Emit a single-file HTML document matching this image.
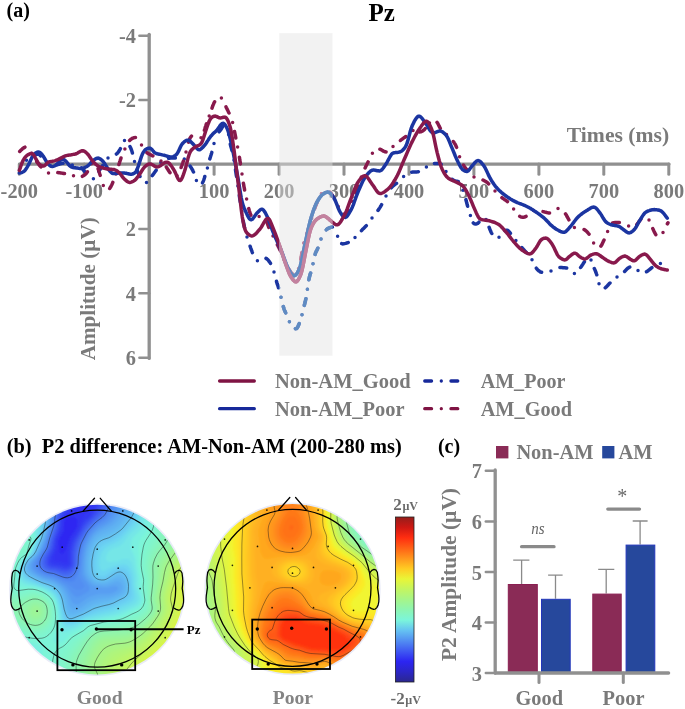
<!DOCTYPE html>
<html lang="en"><head><meta charset="utf-8"><title>Pz ERP figure</title>
<style>
html,body{margin:0;padding:0;background:#fff;}
body{width:685px;height:709px;overflow:hidden;font-family:"Liberation Serif",serif;}
svg{display:block;}
text{font-family:"Liberation Serif",serif;font-weight:bold;}
.g{fill:#7a7a7a;}
.k{fill:#000;}
.t20{font-size:20.4px;}
.ax{stroke:#909090;fill:none;stroke-linecap:round;}
</style></head><body>
<svg width="685" height="709" viewBox="0 0 685 709">
<rect width="685" height="709" fill="#fff"/>
<g id="panel-a">
<text x="6.5" y="16.7" class="k" font-size="20">(a)</text>
<text x="368.4" y="20.6" class="k" font-size="25">Pz</text>
<path class="ax" stroke-width="3.3" d="M149.2,34.3 V358.4"/>
<path class="ax" stroke-width="3.2" d="M19.6,164.1 H669"/>
<path class="ax" stroke-width="2.5" d="M139.4,35.7 H149.2"/>
<text x="136" y="42.9" class="g t20" text-anchor="end">-4</text>
<path class="ax" stroke-width="2.5" d="M139.4,100.1 H149.2"/>
<text x="136" y="107.3" class="g t20" text-anchor="end">-2</text>
<path class="ax" stroke-width="2.5" d="M139.4,228.9 H149.2"/>
<text x="136" y="236.1" class="g t20" text-anchor="end">2</text>
<path class="ax" stroke-width="2.5" d="M139.4,293.3 H149.2"/>
<text x="136" y="300.5" class="g t20" text-anchor="end">4</text>
<path class="ax" stroke-width="2.5" d="M139.4,357.7 H149.2"/>
<text x="136" y="364.9" class="g t20" text-anchor="end">6</text>
<path class="ax" stroke-width="3" d="M19.3,164.1 V174.2"/>
<text x="19.3" y="197.5" class="g t20" text-anchor="middle">-200</text>
<path class="ax" stroke-width="3" d="M84.2,164.1 V174.2"/>
<text x="84.2" y="197.5" class="g t20" text-anchor="middle">-100</text>
<path class="ax" stroke-width="3" d="M214.1,164.1 V174.2"/>
<text x="214.1" y="197.5" class="g t20" text-anchor="middle">100</text>
<path class="ax" stroke-width="3" d="M279.1,164.1 V174.2"/>
<text x="279.1" y="197.5" class="g t20" text-anchor="middle">200</text>
<path class="ax" stroke-width="3" d="M344.0,164.1 V174.2"/>
<text x="344.0" y="197.5" class="g t20" text-anchor="middle">300</text>
<path class="ax" stroke-width="3" d="M409.0,164.1 V174.2"/>
<text x="409.0" y="197.5" class="g t20" text-anchor="middle">400</text>
<path class="ax" stroke-width="3" d="M473.9,164.1 V174.2"/>
<text x="473.9" y="197.5" class="g t20" text-anchor="middle">500</text>
<path class="ax" stroke-width="3" d="M538.9,164.1 V174.2"/>
<text x="538.9" y="197.5" class="g t20" text-anchor="middle">600</text>
<path class="ax" stroke-width="3" d="M603.8,164.1 V174.2"/>
<text x="603.8" y="197.5" class="g t20" text-anchor="middle">700</text>
<path class="ax" stroke-width="3" d="M668.8,164.1 V174.2"/>
<text x="668.8" y="197.5" class="g t20" text-anchor="middle">800</text>
<text x="566.8" y="142" class="g" font-size="21" textLength="102.4" lengthAdjust="spacingAndGlyphs">Times (ms)</text>
<text transform="translate(95.4,360.3) rotate(-90)" class="g" font-size="21" textLength="143" lengthAdjust="spacingAndGlyphs">Amplitude (µV)</text>
<defs><clipPath id="win"><rect x="279.3" y="33.1" width="53.2" height="322.6"/></clipPath></defs>
<g fill="none" stroke-width="3.5" stroke-linecap="round" stroke-linejoin="round">
<path stroke="#1b35a1" d="M72.3,165.0h0.01M47.3,162.6h0.01M26.5,160.2h0.01M93.4,178.7h0.01M108.0,158.1h0.01M124.5,140.4h0.01M134.5,161.5h0.01M146.5,182.6h0.01M160.8,162.4h0.01M184.3,159.1h0.01M196.4,180.6h0.01M207.4,167.9h0.01M214.0,143.4h0.01M228.6,134.4h0.01M234.0,160.2h0.01M237.9,185.9h0.01M241.7,211.5h0.01M247.0,236.9h0.01M257.4,260.8h0.01M274.0,271.9h0.01M281.0,297.2h0.01M289.4,321.8h0.01M302.0,314.7h0.01M307.4,289.3h0.01M313.0,263.7h0.01M321.0,239.1h0.01M337.6,236.3h0.01M355.0,237.6h0.01M372.0,218.0h0.01M386.0,196.1h0.01M403.6,176.4h0.01M426.4,167.0h0.01M446.0,171.6h0.01M463.0,190.2h0.01M470.4,215.6h0.01M486.0,219.5h0.01M499.0,237.3h0.01M515.9,240.6h0.01M532.0,259.8h0.01M551.0,271.0h0.01M574.4,273.4h0.01M591.0,260.0h0.01M599.0,283.7h0.01M617.0,277.0h0.01M638.0,270.4h0.01M660.4,263.6h0.01M81.5,167.8L82.2,168.5L82.9,169.3L83.4,170.1L84.1,170.9L84.7,171.6L85.5,172.2L86.2,172.7M56.5,164.9L57.4,164.7L58.4,164.4L59.4,164.2L60.3,163.9L61.3,163.6L62.3,163.4L63.0,163.2M34.6,155.1L35.5,154.6L36.5,154.3L37.4,154.1L38.4,154.2L39.3,154.6L40.1,155.3L40.7,155.8M98.8,171.3L99.4,170.5L99.9,169.6L100.5,168.8L101.0,167.9L101.6,167.1L102.1,166.3L102.6,165.6M116.4,154.1L117.1,153.4L117.8,152.7L118.4,151.9L119.0,151.1L119.5,150.2L120.0,149.4L120.4,148.7M130.0,146.6L130.5,147.5L130.9,148.4L131.2,149.4L131.6,150.3L131.9,151.2L132.2,152.2L132.4,153.0M137.2,170.4L137.6,171.3L137.9,172.2L138.3,173.1L138.8,174.1L139.2,174.9L139.7,175.8L140.0,176.5M152.2,175.7L152.8,174.9L153.4,174.1L154.0,173.3L154.5,172.5L155.1,171.7L155.7,170.9L156.2,170.2M168.6,158.3L169.6,158.2L170.6,158.1L171.6,158.0L172.6,158.0L173.6,158.0L174.6,158.0L175.4,158.0M190.1,166.1L190.6,166.9L191.2,167.7L191.7,168.6L192.2,169.5L192.7,170.3L193.1,171.2L193.5,172.0M202.5,182.9L202.9,182.0L203.3,181.1L203.7,180.1L204.0,179.2L204.3,178.3L204.6,177.3L204.8,176.5M209.8,158.9L210.1,157.9L210.4,157.0L210.7,156.0L211.0,155.1L211.3,154.1L211.6,153.2L211.8,152.4M219.2,131.8L219.8,131.0L220.4,130.2L221.0,129.4L221.6,128.5L222.0,127.7L222.5,126.8L222.9,126.1M230.3,144.1L230.5,145.0L230.7,146.0L231.0,147.0L231.3,147.9L231.6,148.9L231.8,149.9L232.0,150.6M235.5,169.7L235.6,170.7L235.8,171.7L235.9,172.7L236.1,173.6L236.2,174.6L236.4,175.6L236.5,176.4M239.3,195.3L239.4,196.3L239.6,197.3L239.7,198.3L239.9,199.3L240.0,200.3L240.2,201.3L240.3,202.1M243.2,221.0L243.4,221.9L243.6,222.9L243.8,223.9L244.0,224.9L244.2,225.9L244.4,226.8L244.6,227.6M250.1,246.2L250.4,247.1L250.7,248.1L251.1,249.0L251.4,250.0L251.8,250.9L252.1,251.8L252.4,252.6M266.0,258.4L266.9,258.9L267.6,259.6L268.3,260.3L268.9,261.1L269.5,261.9L270.1,262.7L270.5,263.4M276.5,281.3L276.7,282.3L277.0,283.2L277.3,284.2L277.7,285.1L278.0,286.1L278.3,287.0L278.5,287.8M283.3,306.6L283.6,307.5L283.9,308.5L284.2,309.4L284.6,310.4L285.0,311.3L285.4,312.2L285.7,312.9M295.4,328.7L296.4,328.6L297.2,327.9L297.7,327.1L298.1,326.2L298.5,325.3L298.9,324.3L299.2,323.6M304.3,305.4L304.5,304.4L304.8,303.4L305.0,302.5L305.3,301.5L305.5,300.5L305.7,299.5L305.9,298.8M308.9,279.7L309.1,278.7L309.3,277.7L309.5,276.7L309.8,275.8L310.0,274.8L310.3,273.9L310.6,273.1M315.1,254.4L315.4,253.4L315.7,252.5L316.2,251.6L316.6,250.7L317.1,249.8L317.5,248.9L317.8,248.2M326.3,229.8L327.1,229.1L327.9,228.6L328.8,228.1L329.7,227.7L330.7,227.4L331.6,227.2L332.4,227.1M341.7,243.6L342.6,243.9L343.6,243.8L344.6,243.6L345.6,243.4L346.5,243.1L347.5,242.8L348.2,242.5M361.5,230.6L362.2,229.8L362.9,229.1L363.6,228.4L364.3,227.7L365.0,227.0L365.7,226.3L366.3,225.7M378.0,210.4L378.6,209.6L379.1,208.8L379.7,207.9L380.2,207.1L380.7,206.2L381.2,205.4L381.6,204.7M391.4,187.8L392.0,187.0L392.7,186.3L393.5,185.6L394.2,185.0L395.0,184.4L395.8,183.8L396.5,183.3M411.7,172.2L412.7,172.1L413.7,172.0L414.7,172.0L415.7,171.9L416.7,171.9L417.7,171.8L418.4,171.7M434.4,163.6L435.4,163.6L436.4,163.6L437.4,163.6L438.4,163.6L439.4,163.6L440.4,163.9L441.1,164.3M452.1,179.3L452.9,179.8L453.8,180.3L454.7,180.6L455.7,180.9L456.7,181.1L457.6,181.4L458.3,181.7M465.9,199.6L466.1,200.6L466.4,201.5L466.6,202.5L466.9,203.5L467.1,204.5L467.4,205.4L467.6,206.2M473.3,222.9L474.0,223.6L474.9,224.0L475.9,224.0L476.9,223.8L477.7,223.4L478.5,222.7L479.0,222.1M489.1,227.3L489.5,228.2L489.8,229.2L490.2,230.1L490.6,231.0L491.0,232.0L491.4,232.8L491.8,233.5M505.0,230.7L505.9,230.3L506.9,230.2L507.9,230.5L508.6,231.1L509.3,231.9L509.9,232.6L510.4,233.3M521.8,247.5L522.5,248.3L523.1,249.0L523.8,249.8L524.5,250.5L525.1,251.3L525.8,252.0L526.4,252.6M536.3,268.2L536.9,269.0L537.6,269.7L538.3,270.4L539.1,271.1L539.9,271.6L540.8,272.1L541.6,272.3M559.9,267.6L560.9,267.6L561.9,267.6L562.9,267.7L563.9,267.7L564.9,267.8L565.9,267.9L566.7,268.0M580.6,267.5L581.2,266.7L581.8,265.9L582.3,265.0L582.9,264.2L583.4,263.3L584.0,262.5L584.4,261.8M594.3,268.5L594.7,269.4L595.1,270.3L595.5,271.2L595.8,272.2L596.2,273.1L596.5,274.0L596.8,274.8M605.2,287.8L606.0,287.2L606.7,286.5L607.4,285.8L608.1,285.1L608.7,284.3L609.4,283.6L610.0,283.0M624.6,271.4L625.3,270.7L626.0,270.0L626.7,269.3L627.4,268.6L628.2,267.9L629.0,267.4L629.8,267.1M646.5,271.7L647.3,271.2L648.1,270.7L648.9,270.0L649.7,269.4L650.4,268.8L651.2,268.1L651.9,267.7"/>
<path stroke="#88194c" d="M31.5,153.2h0.01M48.5,173.0h0.01M73.5,175.8h0.01M91.5,163.7h0.01M103.3,185.4h0.01M116.0,173.9h0.01M124.9,149.0h0.01M141.5,144.9h0.01M161.0,161.0h0.01M177.0,175.8h0.01M186.0,152.1h0.01M201.0,137.7h0.01M209.2,115.9h0.01M221.4,97.9h0.01M232.6,122.4h0.01M237.6,147.1h0.01M242.0,174.0h0.01M246.6,199.1h0.01M259.1,216.4h0.01M273.0,236.1h0.01M284.2,259.8h0.01M298.6,268.7h0.01M303.9,243.0h0.01M311.6,218.0h0.01M321.5,193.8h0.01M338.2,206.6h0.01M351.5,201.2h0.01M361.3,176.9h0.01M372.4,153.2h0.01M393.0,146.4h0.01M413.0,130.4h0.01M429.5,123.1h0.01M446.5,134.5h0.01M459.6,156.7h0.01M474.0,176.9h0.01M495.0,191.0h0.01M513.6,209.0h0.01M533.6,210.5h0.01M558.0,208.5h0.01M574.4,227.5h0.01M593.6,242.9h0.01M607.6,231.4h0.01M628.6,226.1h0.01M649.0,220.1h0.01M663.0,232.4h0.01M19.7,151.5L20.4,150.8L21.1,150.1L21.8,149.4L22.5,148.7L23.3,148.1L24.2,147.6L24.9,147.2M36.7,161.6L37.3,162.4L37.9,163.2L38.5,164.0L39.1,164.8L39.7,165.5L40.4,166.3L40.9,166.9M57.8,172.6L58.8,172.7L59.8,172.8L60.7,172.9L61.7,173.1L62.7,173.3L63.7,173.5L64.5,173.6M82.4,176.3L83.3,175.8L84.1,175.3L84.9,174.7L85.7,174.0L86.4,173.3L87.0,172.5L87.4,171.8M98.1,168.9L98.5,169.9L98.8,170.8L99.1,171.8L99.4,172.7L99.7,173.7L100.0,174.6L100.2,175.4M109.7,188.5L110.2,187.6L110.8,186.8L111.2,185.9L111.7,185.0L112.1,184.1L112.5,183.2L112.8,182.4M118.9,164.5L119.2,163.5L119.5,162.6L119.8,161.6L120.1,160.7L120.4,159.7L120.8,158.8L121.0,158.0M129.6,140.5L130.3,139.8L131.0,139.2L131.9,138.6L132.8,138.1L133.7,137.8L134.7,137.6L135.5,137.6M146.9,152.7L147.8,153.3L148.6,153.8L149.5,154.2L150.4,154.7L151.3,155.1L152.2,155.6L152.9,155.9M166.3,167.0L166.8,167.9L167.4,168.7L167.9,169.5L168.4,170.4L169.0,171.2L169.5,172.1L170.0,172.7M181.1,167.5L181.4,166.6L181.8,165.6L182.1,164.7L182.4,163.8L182.8,162.8L183.1,161.9L183.4,161.1M188.5,142.1L188.8,141.2L189.2,140.2L189.5,139.3L189.9,138.4L190.4,137.5L191.0,136.7L191.5,136.1M204.4,130.2L204.7,129.3L205.0,128.3L205.3,127.4L205.6,126.4L205.9,125.5L206.2,124.5L206.5,123.8M212.0,108.1L212.3,107.2L212.7,106.2L213.0,105.3L213.4,104.4L213.8,103.4L214.2,102.5L214.6,101.8M226.0,106.9L226.4,107.8L226.9,108.7L227.3,109.6L227.8,110.5L228.2,111.4L228.6,112.3L229.0,113.0M234.5,131.4L234.7,132.4L234.9,133.4L235.1,134.4L235.3,135.4L235.5,136.3L235.7,137.3L235.8,138.1M239.4,157.2L239.5,158.2L239.7,159.2L239.8,160.2L240.0,161.2L240.2,162.2L240.3,163.1L240.4,163.9M243.4,183.3L243.6,184.3L243.8,185.3L243.9,186.3L244.1,187.2L244.3,188.2L244.5,189.2L244.6,190.0M248.7,208.6L249.0,209.6L249.2,210.5L249.5,211.5L249.8,212.5L250.2,213.4L250.5,214.3L250.9,215.1M266.5,221.0L266.8,221.9L267.2,222.9L267.5,223.8L267.8,224.8L268.2,225.7L268.5,226.6L268.8,227.4M277.4,244.8L277.9,245.7L278.3,246.6L278.8,247.5L279.2,248.4L279.7,249.3L280.1,250.2L280.5,250.9M288.4,268.6L288.9,269.4L289.5,270.3L290.0,271.1L290.6,272.0L291.2,272.8L291.8,273.5L292.4,274.1M300.9,259.3L301.1,258.3L301.2,257.3L301.4,256.3L301.6,255.3L301.7,254.4L301.9,253.4L302.0,252.6M306.9,233.8L307.3,232.9L307.6,232.0L307.9,231.0L308.2,230.1L308.5,229.1L308.8,228.1L309.1,227.4M314.5,208.7L314.9,207.8L315.2,206.9L315.6,205.9L315.9,205.0L316.3,204.1L316.7,203.1L317.0,202.4M330.0,192.3L330.7,193.1L331.3,193.9L331.9,194.7L332.4,195.5L333.0,196.4L333.5,197.2L333.9,197.9M343.8,214.4L344.8,214.7L345.7,214.4L346.4,213.7L346.9,212.9L347.4,212.0L347.8,211.1L348.1,210.3M355.2,192.2L355.5,191.3L355.9,190.4L356.3,189.4L356.6,188.5L357.0,187.6L357.3,186.7L357.6,185.9M365.1,168.0L365.5,167.1L365.9,166.2L366.4,165.3L366.8,164.4L367.3,163.5L367.7,162.6L368.1,161.9M379.9,149.2L380.9,149.6L381.7,150.0L382.6,150.6L383.5,151.1L384.4,151.5L385.3,151.8L386.1,151.9M400.4,140.5L401.1,139.9L402.0,139.3L402.8,138.7L403.6,138.1L404.4,137.6L405.2,137.0L405.9,136.5M419.6,131.9L420.6,131.8L421.5,131.5L422.4,131.1L423.2,130.5L424.0,129.9L424.7,129.2L425.2,128.5M437.0,122.3L437.6,123.1L438.1,124.0L438.5,124.9L439.0,125.8L439.4,126.7L439.9,127.6L440.3,128.3M453.3,141.5L453.9,142.3L454.4,143.1L455.0,144.0L455.5,144.9L455.9,145.8L456.3,146.7L456.6,147.4M463.4,165.0L464.0,165.9L464.5,166.7L465.1,167.5L465.7,168.3L466.4,169.1L467.0,169.8L467.6,170.4M483.0,180.0L483.9,180.5L484.8,181.0L485.7,181.5L486.5,182.1L487.3,182.6L488.1,183.3L488.7,183.8M501.9,197.7L502.7,198.3L503.6,198.8L504.4,199.4L505.2,199.9L506.1,200.5L506.9,201.1L507.5,201.6M519.7,216.3L520.6,216.8L521.5,217.1L522.5,217.3L523.5,217.3L524.5,217.1L525.4,216.7L526.1,216.4M543.0,211.6L544.0,211.8L544.9,212.1L545.9,212.3L546.9,212.6L547.9,212.8L548.8,212.9L549.6,212.9M565.5,213.9L566.1,214.7L566.6,215.6L567.0,216.5L567.5,217.3L568.0,218.2L568.5,219.1L568.9,219.8M584.1,229.5L584.9,230.0L585.7,230.6L586.5,231.3L587.2,232.0L587.9,232.7L588.5,233.5L589.0,234.1M600.9,246.1L601.5,245.3L602.0,244.4L602.4,243.5L602.8,242.6L603.2,241.7L603.6,240.8L604.0,240.1M612.6,223.0L613.6,222.8L614.6,222.6L615.6,222.5L616.6,222.5L617.6,222.4L618.6,222.4L619.4,222.4M636.8,224.5L637.4,223.7L638.1,222.9L638.7,222.1L639.3,221.3L639.9,220.5L640.5,219.7L640.9,219.1M652.8,228.6L653.2,229.5L653.6,230.4L654.0,231.3L654.5,232.2L654.9,233.1L655.4,234.0L655.8,234.7M667.4,223.8L667.9,223.0L668.0,222.8"/>
<path stroke="#1b35a1" d="M19.3,173.1 L20.3,172.9 L21.3,172.7 L22.3,172.3 L23.3,171.8 L24.3,171.1 L25.3,170.0 L26.3,168.6 L27.3,166.9 L28.3,165.1 L29.3,163.1 L30.3,161.0 L31.3,158.8 L32.3,156.8 L33.3,155.3 L34.3,154.2 L35.3,153.3 L36.3,152.6 L37.3,152.2 L38.3,151.9 L39.3,152.1 L40.3,152.8 L41.3,153.7 L42.3,154.9 L43.3,156.3 L44.3,157.9 L45.3,159.7 L46.3,161.5 L47.3,163.0 L48.3,164.1 L49.3,165.1 L50.3,165.9 L51.3,166.4 L52.3,166.6 L53.3,166.4 L54.3,166.0 L55.3,165.4 L56.3,164.7 L57.3,163.8 L58.3,162.5 L59.3,161.3 L60.3,160.4 L61.3,159.9 L62.3,159.5 L63.3,159.4 L64.3,159.8 L65.3,160.6 L66.3,161.7 L67.3,162.9 L68.3,164.1 L69.3,165.4 L70.3,166.3 L71.3,166.9 L72.3,167.2 L73.3,167.5 L74.3,167.7 L75.3,167.8 L76.3,168.0 L77.3,168.1 L78.3,168.2 L79.3,168.4 L80.3,168.4 L81.3,168.5 L82.3,168.4 L83.3,168.2 L84.3,167.8 L85.3,167.3 L86.3,166.8 L87.3,166.2 L88.3,165.4 L89.3,164.5 L90.3,163.4 L91.3,162.3 L92.3,161.3 L93.3,160.4 L94.3,159.7 L95.3,159.1 L96.3,158.5 L97.3,158.2 L98.3,158.1 L99.3,158.4 L100.3,159.0 L101.3,159.7 L102.3,160.6 L103.3,161.7 L104.3,163.0 L105.3,164.6 L106.3,166.3 L107.3,167.7 L108.3,169.1 L109.3,170.4 L110.3,171.6 L111.3,172.6 L112.3,173.3 L113.3,173.6 L114.3,173.6 L115.3,173.5 L116.3,173.4 L117.3,173.2 L118.3,173.1 L119.3,173.1 L120.3,173.1 L121.3,173.1 L122.3,173.1 L123.3,173.1 L124.3,173.1 L125.3,173.2 L126.3,173.3 L127.3,173.6 L128.3,173.8 L129.3,174.1 L130.3,174.2 L131.3,174.2 L132.3,174.0 L133.3,173.7 L134.3,173.2 L135.3,172.4 L136.3,171.0 L137.3,168.8 L138.3,166.1 L139.3,163.1 L140.3,160.0 L141.3,156.9 L142.3,154.3 L143.3,152.4 L144.3,150.9 L145.3,149.8 L146.3,149.1 L147.3,148.6 L148.3,148.3 L149.3,148.1 L150.3,148.3 L151.3,148.9 L152.3,150.0 L153.3,151.3 L154.3,152.4 L155.3,153.0 L156.3,153.5 L157.3,153.8 L158.3,154.0 L159.3,154.2 L160.3,154.4 L161.3,154.6 L162.3,154.9 L163.3,155.1 L164.3,155.3 L165.3,155.6 L166.3,155.9 L167.3,156.2 L168.3,156.5 L169.3,156.7 L170.3,156.9 L171.3,156.9 L172.3,156.9 L173.3,156.6 L174.3,156.1 L175.3,155.4 L176.3,154.6 L177.3,153.4 L178.3,151.7 L179.3,149.5 L180.3,147.2 L181.3,145.2 L182.3,143.8 L183.3,142.7 L184.3,141.8 L185.3,141.1 L186.3,140.5 L187.3,140.2 L188.3,140.2 L189.3,140.5 L190.3,141.2 L191.3,142.2 L192.3,143.2 L193.3,144.3 L194.3,145.4 L195.3,146.5 L196.3,147.8 L197.3,148.9 L198.3,149.6 L199.3,149.8 L200.3,149.5 L201.3,148.7 L202.3,147.8 L203.3,146.7 L204.3,145.6 L205.3,144.4 L206.3,143.0 L207.3,141.4 L208.3,139.9 L209.3,138.3 L210.3,136.9 L211.3,135.7 L212.3,134.6 L213.3,133.6 L214.3,132.6 L215.3,131.7 L216.3,130.7 L217.3,129.6 L218.3,128.2 L219.3,126.8 L220.3,125.3 L221.3,124.1 L222.3,123.4 L223.3,123.3 L224.3,123.9 L225.3,125.1 L226.3,126.8 L227.3,128.9 L228.3,131.7 L229.3,135.2 L230.3,139.1 L231.3,143.4 L232.3,148.0 L233.3,153.1 L234.3,158.3 L235.3,163.6 L236.3,169.0 L237.3,174.4 L238.3,180.1 L239.3,186.0 L240.3,192.3 L241.3,198.1 L242.3,202.6 L243.3,205.9 L244.3,208.4 L245.3,210.7 L246.3,212.9 L247.3,215.1 L248.3,217.0 L249.3,218.6 L250.3,219.5 L251.3,219.7 L252.3,219.2 L253.3,218.1 L254.3,216.7 L255.3,215.2 L256.3,213.9 L257.3,212.7 L258.3,211.7 L259.3,210.7 L260.3,209.8 L261.3,209.3 L262.3,209.3 L263.3,209.9 L264.3,211.2 L265.3,212.8 L266.3,214.7 L267.3,216.7 L268.3,219.0 L269.3,221.6 L270.3,224.4 L271.3,227.3 L272.3,230.1 L273.3,232.7 L274.3,235.1 L275.3,237.3 L276.3,239.5 L277.3,241.7 L278.3,243.9 L279.3,246.1 L280.3,248.4 L281.3,250.8 L282.3,253.3 L283.3,256.1 L284.3,258.8 L285.3,261.6 L286.3,264.2 L287.3,266.6 L288.3,268.7 L289.3,270.5 L290.3,272.1 L291.3,273.6 L292.3,274.8 L293.3,275.6 L294.3,275.8 L295.3,275.3 L296.3,274.3 L297.3,272.9 L298.3,271.2 L299.3,269.0 L300.3,266.0 L301.3,262.0 L302.3,257.3 L303.3,252.3 L304.3,247.3 L305.3,242.7 L306.3,238.1 L307.3,233.5 L308.3,228.9 L309.3,224.6 L310.3,220.6 L311.3,217.1 L312.3,213.9 L313.3,210.9 L314.3,208.1 L315.3,205.6 L316.3,203.4 L317.3,201.5 L318.3,199.8 L319.3,198.2 L320.3,196.8 L321.3,195.6 L322.3,194.6 L323.3,193.9 L324.3,193.3 L325.3,192.7 L326.3,192.4 L327.3,192.1 L328.3,192.2 L329.3,192.5 L330.3,193.3 L331.3,194.4 L332.3,195.6 L333.3,197.0 L334.3,198.6 L335.3,200.6 L336.3,203.1 L337.3,205.7 L338.3,208.3 L339.3,210.6 L340.3,212.4 L341.3,214.0 L342.3,215.4 L343.3,216.5 L344.3,217.2 L345.3,217.4 L346.3,216.9 L347.3,215.9 L348.3,214.5 L349.3,212.9 L350.3,211.2 L351.3,209.4 L352.3,207.2 L353.3,204.8 L354.3,202.0 L355.3,199.2 L356.3,196.4 L357.3,193.8 L358.3,191.3 L359.3,189.0 L360.3,186.7 L361.3,184.5 L362.3,182.3 L363.3,180.3 L364.3,178.6 L365.3,177.0 L366.3,175.7 L367.3,174.4 L368.3,173.3 L369.3,172.2 L370.3,171.3 L371.3,170.6 L372.3,170.2 L373.3,170.1 L374.3,170.1 L375.3,170.3 L376.3,170.5 L377.3,170.7 L378.3,170.8 L379.3,170.9 L380.3,170.8 L381.3,170.3 L382.3,169.3 L383.3,168.0 L384.3,166.5 L385.3,165.0 L386.3,163.5 L387.3,161.8 L388.3,159.9 L389.3,158.0 L390.3,156.2 L391.3,154.6 L392.3,153.6 L393.3,153.0 L394.3,152.8 L395.3,152.6 L396.3,152.5 L397.3,152.4 L398.3,152.3 L399.3,152.1 L400.3,151.8 L401.3,151.3 L402.3,150.6 L403.3,149.6 L404.3,148.4 L405.3,147.0 L406.3,145.1 L407.3,142.5 L408.3,139.0 L409.3,135.2 L410.3,131.3 L411.3,128.1 L412.3,125.5 L413.3,123.4 L414.3,121.4 L415.3,119.7 L416.3,118.1 L417.3,117.0 L418.3,116.3 L419.3,116.2 L420.3,116.6 L421.3,117.5 L422.3,118.7 L423.3,120.1 L424.3,121.6 L425.3,123.0 L426.3,124.4 L427.3,125.9 L428.3,127.5 L429.3,129.2 L430.3,130.7 L431.3,131.9 L432.3,132.6 L433.3,132.9 L434.3,132.8 L435.3,132.5 L436.3,132.1 L437.3,131.7 L438.3,131.3 L439.3,131.1 L440.3,131.1 L441.3,131.3 L442.3,131.8 L443.3,132.5 L444.3,133.4 L445.3,134.3 L446.3,135.5 L447.3,137.0 L448.3,139.0 L449.3,141.4 L450.3,143.8 L451.3,146.3 L452.3,148.7 L453.3,151.1 L454.3,153.5 L455.3,156.0 L456.3,158.3 L457.3,160.5 L458.3,162.6 L459.3,164.5 L460.3,166.4 L461.3,168.0 L462.3,169.3 L463.3,170.1 L464.3,170.7 L465.3,171.2 L466.3,171.4 L467.3,171.4 L468.3,170.7 L469.3,169.6 L470.3,168.3 L471.3,166.9 L472.3,165.7 L473.3,164.5 L474.3,163.3 L475.3,162.2 L476.3,161.3 L477.3,160.7 L478.3,160.6 L479.3,160.9 L480.3,161.6 L481.3,162.6 L482.3,163.8 L483.3,165.1 L484.3,166.5 L485.3,168.2 L486.3,170.2 L487.3,172.4 L488.3,174.6 L489.3,176.6 L490.3,178.5 L491.3,180.2 L492.3,181.8 L493.3,183.3 L494.3,184.8 L495.3,186.1 L496.3,187.3 L497.3,188.4 L498.3,189.5 L499.3,190.5 L500.3,191.4 L501.3,192.3 L502.3,193.1 L503.3,194.0 L504.3,194.7 L505.3,195.5 L506.3,196.2 L507.3,196.9 L508.3,197.6 L509.3,198.2 L510.3,198.9 L511.3,199.5 L512.3,200.1 L513.3,200.6 L514.3,201.1 L515.3,201.6 L516.3,202.1 L517.3,202.6 L518.3,203.0 L519.3,203.4 L520.3,203.7 L521.3,204.1 L522.3,204.5 L523.3,204.9 L524.3,205.3 L525.3,205.7 L526.3,206.2 L527.3,206.7 L528.3,207.2 L529.3,207.8 L530.3,208.3 L531.3,209.0 L532.3,209.6 L533.3,210.2 L534.3,210.9 L535.3,211.5 L536.3,212.2 L537.3,212.9 L538.3,213.6 L539.3,214.3 L540.3,215.0 L541.3,215.8 L542.3,216.6 L543.3,217.4 L544.3,218.3 L545.3,219.2 L546.3,220.2 L547.3,221.3 L548.3,222.3 L549.3,223.4 L550.3,224.4 L551.3,225.4 L552.3,226.2 L553.3,227.1 L554.3,227.8 L555.3,228.5 L556.3,229.2 L557.3,229.8 L558.3,230.3 L559.3,230.9 L560.3,231.4 L561.3,231.8 L562.3,232.1 L563.3,232.3 L564.3,232.2 L565.3,231.9 L566.3,231.1 L567.3,230.1 L568.3,229.0 L569.3,227.8 L570.3,226.7 L571.3,225.5 L572.3,224.2 L573.3,222.9 L574.3,221.5 L575.3,220.2 L576.3,218.9 L577.3,217.8 L578.3,216.8 L579.3,215.8 L580.3,215.0 L581.3,214.2 L582.3,213.5 L583.3,212.7 L584.3,212.1 L585.3,211.4 L586.3,210.8 L587.3,210.2 L588.3,209.5 L589.3,208.9 L590.3,208.3 L591.3,207.7 L592.3,207.3 L593.3,207.1 L594.3,207.2 L595.3,207.6 L596.3,208.4 L597.3,209.5 L598.3,210.8 L599.3,212.1 L600.3,213.4 L601.3,214.9 L602.3,216.6 L603.3,218.3 L604.3,219.9 L605.3,221.2 L606.3,222.2 L607.3,222.9 L608.3,223.5 L609.3,224.0 L610.3,224.4 L611.3,224.8 L612.3,225.0 L613.3,225.2 L614.3,225.4 L615.3,225.5 L616.3,225.7 L617.3,225.9 L618.3,226.2 L619.3,226.6 L620.3,227.2 L621.3,228.0 L622.3,228.7 L623.3,229.5 L624.3,230.2 L625.3,231.0 L626.3,231.7 L627.3,232.4 L628.3,232.8 L629.3,232.9 L630.3,232.6 L631.3,232.1 L632.3,231.4 L633.3,230.6 L634.3,229.6 L635.3,228.3 L636.3,226.7 L637.3,224.9 L638.3,223.0 L639.3,221.2 L640.3,219.6 L641.3,218.0 L642.3,216.4 L643.3,214.9 L644.3,213.6 L645.3,212.6 L646.3,211.9 L647.3,211.4 L648.3,210.9 L649.3,210.6 L650.3,210.2 L651.3,210.0 L652.3,209.8 L653.3,209.7 L654.3,209.6 L655.3,209.7 L656.3,209.7 L657.3,209.9 L658.3,210.0 L659.3,210.3 L660.3,210.6 L661.3,211.1 L662.3,212.0 L663.3,213.0 L664.3,214.2 L665.3,215.5 L666.3,216.9 L667.3,218.2"/>
<path stroke="#88194c" d="M19.3,170.4 L20.3,167.8 L21.3,164.7 L22.3,162.1 L23.3,160.1 L24.3,158.5 L25.3,157.1 L26.3,156.0 L27.3,155.2 L28.3,154.6 L29.3,154.1 L30.3,153.7 L31.3,153.5 L32.3,153.6 L33.3,154.4 L34.3,155.9 L35.3,157.8 L36.3,159.6 L37.3,161.5 L38.3,163.2 L39.3,164.3 L40.3,165.0 L41.3,165.5 L42.3,165.8 L43.3,166.0 L44.3,165.8 L45.3,165.1 L46.3,164.1 L47.3,163.0 L48.3,162.2 L49.3,161.8 L50.3,161.6 L51.3,161.4 L52.3,161.3 L53.3,161.1 L54.3,160.9 L55.3,160.6 L56.3,160.2 L57.3,159.8 L58.3,159.4 L59.3,158.9 L60.3,158.4 L61.3,157.9 L62.3,157.4 L63.3,156.8 L64.3,156.3 L65.3,155.9 L66.3,155.6 L67.3,155.4 L68.3,155.2 L69.3,155.1 L70.3,154.9 L71.3,154.8 L72.3,154.6 L73.3,154.4 L74.3,154.2 L75.3,154.0 L76.3,153.7 L77.3,153.2 L78.3,152.6 L79.3,152.0 L80.3,151.4 L81.3,151.0 L82.3,150.7 L83.3,150.8 L84.3,151.2 L85.3,151.9 L86.3,152.8 L87.3,153.7 L88.3,154.8 L89.3,156.2 L90.3,157.7 L91.3,159.2 L92.3,160.6 L93.3,161.8 L94.3,162.9 L95.3,163.9 L96.3,164.7 L97.3,165.5 L98.3,166.2 L99.3,166.7 L100.3,167.1 L101.3,167.5 L102.3,167.8 L103.3,168.1 L104.3,168.4 L105.3,168.6 L106.3,168.8 L107.3,169.0 L108.3,169.1 L109.3,169.2 L110.3,169.2 L111.3,169.3 L112.3,169.4 L113.3,169.5 L114.3,169.6 L115.3,170.0 L116.3,170.5 L117.3,171.2 L118.3,172.0 L119.3,172.9 L120.3,174.0 L121.3,175.3 L122.3,176.6 L123.3,177.9 L124.3,179.0 L125.3,179.9 L126.3,180.8 L127.3,181.5 L128.3,182.1 L129.3,182.4 L130.3,182.4 L131.3,182.1 L132.3,181.7 L133.3,181.2 L134.3,180.6 L135.3,179.8 L136.3,178.7 L137.3,177.4 L138.3,176.1 L139.3,174.7 L140.3,173.2 L141.3,171.7 L142.3,170.0 L143.3,168.5 L144.3,167.2 L145.3,166.2 L146.3,165.5 L147.3,164.8 L148.3,164.3 L149.3,164.0 L150.3,163.9 L151.3,164.2 L152.3,164.7 L153.3,165.3 L154.3,165.9 L155.3,166.5 L156.3,166.8 L157.3,166.9 L158.3,166.7 L159.3,166.3 L160.3,165.7 L161.3,165.0 L162.3,164.3 L163.3,163.6 L164.3,162.9 L165.3,162.4 L166.3,162.2 L167.3,162.2 L168.3,162.6 L169.3,163.4 L170.3,164.6 L171.3,165.9 L172.3,167.4 L173.3,169.0 L174.3,170.6 L175.3,172.6 L176.3,174.9 L177.3,177.2 L178.3,179.1 L179.3,180.3 L180.3,180.5 L181.3,179.5 L182.3,177.5 L183.3,174.9 L184.3,172.0 L185.3,168.9 L186.3,165.2 L187.3,161.2 L188.3,157.2 L189.3,154.0 L190.3,151.8 L191.3,150.3 L192.3,149.2 L193.3,148.3 L194.3,147.5 L195.3,146.9 L196.3,146.3 L197.3,145.9 L198.3,145.5 L199.3,145.1 L200.3,144.4 L201.3,143.3 L202.3,141.4 L203.3,138.6 L204.3,135.4 L205.3,132.2 L206.3,129.2 L207.3,126.3 L208.3,123.5 L209.3,121.0 L210.3,119.1 L211.3,117.9 L212.3,117.1 L213.3,116.5 L214.3,116.2 L215.3,116.1 L216.3,116.4 L217.3,116.9 L218.3,117.4 L219.3,117.8 L220.3,117.9 L221.3,117.8 L222.3,117.6 L223.3,117.3 L224.3,117.1 L225.3,117.3 L226.3,118.0 L227.3,119.5 L228.3,121.6 L229.3,124.2 L230.3,127.5 L231.3,132.2 L232.3,138.2 L233.3,145.1 L234.3,152.3 L235.3,160.1 L236.3,168.2 L237.3,176.3 L238.3,184.3 L239.3,192.4 L240.3,201.0 L241.3,209.8 L242.3,217.1 L243.3,222.7 L244.3,227.1 L245.3,230.2 L246.3,232.2 L247.3,233.4 L248.3,234.3 L249.3,235.0 L250.3,235.6 L251.3,235.9 L252.3,235.9 L253.3,235.6 L254.3,235.0 L255.3,234.2 L256.3,233.2 L257.3,232.1 L258.3,230.9 L259.3,229.8 L260.3,228.6 L261.3,227.2 L262.3,225.5 L263.3,223.7 L264.3,222.0 L265.3,220.4 L266.3,219.1 L267.3,218.4 L268.3,218.4 L269.3,219.4 L270.3,221.3 L271.3,223.7 L272.3,226.2 L273.3,228.7 L274.3,231.2 L275.3,233.7 L276.3,236.4 L277.3,239.2 L278.3,242.0 L279.3,244.9 L280.3,247.9 L281.3,250.9 L282.3,254.0 L283.3,257.0 L284.3,260.0 L285.3,262.8 L286.3,265.7 L287.3,268.5 L288.3,271.2 L289.3,273.7 L290.3,275.7 L291.3,277.4 L292.3,278.8 L293.3,280.1 L294.3,281.1 L295.3,281.7 L296.3,281.7 L297.3,281.0 L298.3,279.7 L299.3,277.8 L300.3,275.6 L301.3,272.8 L302.3,269.0 L303.3,264.3 L304.3,258.9 L305.3,253.6 L306.3,248.6 L307.3,243.6 L308.3,238.7 L309.3,234.1 L310.3,230.3 L311.3,227.5 L312.3,225.3 L313.3,223.5 L314.3,221.9 L315.3,220.7 L316.3,219.6 L317.3,218.8 L318.3,218.2 L319.3,217.6 L320.3,217.0 L321.3,216.6 L322.3,216.3 L323.3,216.1 L324.3,216.1 L325.3,216.4 L326.3,217.0 L327.3,217.8 L328.3,218.6 L329.3,219.6 L330.3,220.4 L331.3,221.2 L332.3,222.1 L333.3,222.9 L334.3,223.7 L335.3,224.4 L336.3,224.8 L337.3,224.8 L338.3,224.4 L339.3,223.5 L340.3,222.2 L341.3,220.7 L342.3,219.0 L343.3,217.2 L344.3,215.4 L345.3,213.4 L346.3,211.1 L347.3,208.6 L348.3,205.9 L349.3,203.1 L350.3,200.4 L351.3,197.8 L352.3,195.2 L353.3,192.7 L354.3,190.0 L355.3,187.5 L356.3,185.2 L357.3,183.2 L358.3,181.7 L359.3,180.3 L360.3,179.0 L361.3,177.9 L362.3,176.9 L363.3,176.2 L364.3,175.8 L365.3,175.8 L366.3,176.3 L367.3,177.2 L368.3,178.5 L369.3,180.0 L370.3,181.6 L371.3,183.0 L372.3,184.4 L373.3,185.8 L374.3,187.3 L375.3,188.9 L376.3,190.4 L377.3,191.7 L378.3,192.7 L379.3,193.3 L380.3,193.5 L381.3,193.4 L382.3,193.0 L383.3,192.5 L384.3,191.9 L385.3,191.2 L386.3,190.4 L387.3,189.6 L388.3,188.7 L389.3,187.7 L390.3,186.6 L391.3,185.3 L392.3,183.9 L393.3,182.4 L394.3,180.8 L395.3,179.2 L396.3,177.4 L397.3,175.5 L398.3,173.4 L399.3,171.2 L400.3,168.8 L401.3,166.4 L402.3,164.0 L403.3,161.6 L404.3,159.3 L405.3,157.0 L406.3,154.7 L407.3,152.4 L408.3,150.0 L409.3,147.8 L410.3,145.6 L411.3,143.4 L412.3,141.4 L413.3,139.5 L414.3,137.5 L415.3,135.7 L416.3,133.9 L417.3,132.1 L418.3,130.5 L419.3,129.0 L420.3,127.6 L421.3,126.1 L422.3,124.7 L423.3,123.4 L424.3,122.3 L425.3,121.5 L426.3,121.2 L427.3,121.6 L428.3,122.6 L429.3,124.2 L430.3,126.1 L431.3,128.4 L432.3,131.1 L433.3,134.7 L434.3,139.2 L435.3,144.1 L436.3,148.8 L437.3,153.1 L438.3,157.0 L439.3,160.8 L440.3,164.2 L441.3,167.1 L442.3,169.5 L443.3,171.5 L444.3,173.3 L445.3,174.9 L446.3,176.2 L447.3,177.3 L448.3,178.2 L449.3,178.9 L450.3,179.4 L451.3,179.9 L452.3,180.4 L453.3,180.8 L454.3,181.2 L455.3,181.7 L456.3,182.2 L457.3,182.6 L458.3,183.1 L459.3,183.6 L460.3,184.2 L461.3,184.8 L462.3,185.5 L463.3,186.4 L464.3,187.6 L465.3,189.1 L466.3,190.8 L467.3,192.7 L468.3,194.6 L469.3,196.7 L470.3,198.9 L471.3,201.2 L472.3,203.7 L473.3,206.1 L474.3,208.4 L475.3,210.6 L476.3,212.9 L477.3,215.0 L478.3,216.9 L479.3,218.3 L480.3,219.0 L481.3,219.4 L482.3,219.7 L483.3,219.9 L484.3,220.1 L485.3,220.2 L486.3,220.3 L487.3,220.5 L488.3,220.6 L489.3,220.8 L490.3,221.1 L491.3,221.4 L492.3,221.7 L493.3,222.0 L494.3,222.3 L495.3,222.7 L496.3,223.2 L497.3,223.7 L498.3,224.2 L499.3,224.9 L500.3,225.8 L501.3,226.7 L502.3,227.8 L503.3,228.9 L504.3,230.1 L505.3,231.2 L506.3,232.4 L507.3,233.5 L508.3,234.8 L509.3,236.1 L510.3,237.4 L511.3,238.7 L512.3,240.0 L513.3,241.2 L514.3,242.3 L515.3,243.5 L516.3,244.6 L517.3,245.7 L518.3,246.7 L519.3,247.7 L520.3,248.7 L521.3,249.5 L522.3,250.2 L523.3,250.9 L524.3,251.6 L525.3,252.2 L526.3,252.8 L527.3,253.3 L528.3,253.7 L529.3,253.9 L530.3,253.8 L531.3,253.4 L532.3,252.6 L533.3,251.5 L534.3,250.2 L535.3,248.9 L536.3,247.5 L537.3,246.0 L538.3,244.2 L539.3,242.4 L540.3,240.8 L541.3,239.7 L542.3,239.0 L543.3,238.5 L544.3,238.3 L545.3,238.1 L546.3,238.2 L547.3,238.6 L548.3,239.4 L549.3,240.5 L550.3,241.7 L551.3,243.1 L552.3,244.5 L553.3,246.3 L554.3,248.3 L555.3,250.5 L556.3,252.6 L557.3,254.6 L558.3,256.1 L559.3,257.2 L560.3,258.0 L561.3,258.6 L562.3,259.2 L563.3,259.6 L564.3,259.9 L565.3,259.8 L566.3,259.4 L567.3,258.6 L568.3,257.6 L569.3,256.6 L570.3,255.8 L571.3,255.0 L572.3,254.3 L573.3,253.6 L574.3,253.2 L575.3,253.2 L576.3,253.7 L577.3,254.5 L578.3,255.5 L579.3,256.4 L580.3,257.1 L581.3,257.7 L582.3,258.2 L583.3,258.6 L584.3,258.9 L585.3,258.9 L586.3,258.5 L587.3,257.8 L588.3,257.0 L589.3,256.2 L590.3,255.4 L591.3,254.9 L592.3,254.5 L593.3,254.1 L594.3,253.9 L595.3,253.7 L596.3,253.7 L597.3,254.0 L598.3,254.4 L599.3,255.1 L600.3,255.8 L601.3,256.5 L602.3,257.2 L603.3,257.9 L604.3,258.6 L605.3,259.3 L606.3,260.0 L607.3,260.6 L608.3,261.1 L609.3,261.6 L610.3,262.0 L611.3,262.4 L612.3,262.7 L613.3,262.9 L614.3,262.8 L615.3,262.4 L616.3,261.6 L617.3,260.6 L618.3,259.5 L619.3,258.6 L620.3,257.9 L621.3,257.3 L622.3,256.8 L623.3,256.4 L624.3,256.1 L625.3,256.1 L626.3,256.5 L627.3,257.1 L628.3,257.8 L629.3,258.5 L630.3,259.2 L631.3,259.8 L632.3,260.4 L633.3,260.8 L634.3,260.8 L635.3,260.4 L636.3,259.6 L637.3,258.6 L638.3,257.5 L639.3,256.6 L640.3,255.9 L641.3,255.3 L642.3,254.8 L643.3,254.4 L644.3,254.1 L645.3,254.2 L646.3,254.7 L647.3,255.7 L648.3,256.9 L649.3,258.1 L650.3,259.3 L651.3,260.6 L652.3,261.9 L653.3,263.1 L654.3,264.3 L655.3,265.4 L656.3,266.2 L657.3,266.8 L658.3,267.4 L659.3,268.0 L660.3,268.4 L661.3,268.8 L662.3,269.1 L663.3,269.3 L664.3,269.5 L665.3,269.7 L666.3,269.9 L667.3,270.0"/>
</g>
<rect x="279.3" y="33.1" width="53.2" height="322.6" fill="#e2e2e2" fill-opacity="0.45"/>
<g fill="none" stroke-width="3.5" stroke-linecap="round" stroke-linejoin="round" clip-path="url(#win)">
<path stroke="#5f8bc2" d="M72.3,165.0h0.01M47.3,162.6h0.01M26.5,160.2h0.01M93.4,178.7h0.01M108.0,158.1h0.01M124.5,140.4h0.01M134.5,161.5h0.01M146.5,182.6h0.01M160.8,162.4h0.01M184.3,159.1h0.01M196.4,180.6h0.01M207.4,167.9h0.01M214.0,143.4h0.01M228.6,134.4h0.01M234.0,160.2h0.01M237.9,185.9h0.01M241.7,211.5h0.01M247.0,236.9h0.01M257.4,260.8h0.01M274.0,271.9h0.01M281.0,297.2h0.01M289.4,321.8h0.01M302.0,314.7h0.01M307.4,289.3h0.01M313.0,263.7h0.01M321.0,239.1h0.01M337.6,236.3h0.01M355.0,237.6h0.01M372.0,218.0h0.01M386.0,196.1h0.01M403.6,176.4h0.01M426.4,167.0h0.01M446.0,171.6h0.01M463.0,190.2h0.01M470.4,215.6h0.01M486.0,219.5h0.01M499.0,237.3h0.01M515.9,240.6h0.01M532.0,259.8h0.01M551.0,271.0h0.01M574.4,273.4h0.01M591.0,260.0h0.01M599.0,283.7h0.01M617.0,277.0h0.01M638.0,270.4h0.01M660.4,263.6h0.01M81.5,167.8L82.2,168.5L82.9,169.3L83.4,170.1L84.1,170.9L84.7,171.6L85.5,172.2L86.2,172.7M56.5,164.9L57.4,164.7L58.4,164.4L59.4,164.2L60.3,163.9L61.3,163.6L62.3,163.4L63.0,163.2M34.6,155.1L35.5,154.6L36.5,154.3L37.4,154.1L38.4,154.2L39.3,154.6L40.1,155.3L40.7,155.8M98.8,171.3L99.4,170.5L99.9,169.6L100.5,168.8L101.0,167.9L101.6,167.1L102.1,166.3L102.6,165.6M116.4,154.1L117.1,153.4L117.8,152.7L118.4,151.9L119.0,151.1L119.5,150.2L120.0,149.4L120.4,148.7M130.0,146.6L130.5,147.5L130.9,148.4L131.2,149.4L131.6,150.3L131.9,151.2L132.2,152.2L132.4,153.0M137.2,170.4L137.6,171.3L137.9,172.2L138.3,173.1L138.8,174.1L139.2,174.9L139.7,175.8L140.0,176.5M152.2,175.7L152.8,174.9L153.4,174.1L154.0,173.3L154.5,172.5L155.1,171.7L155.7,170.9L156.2,170.2M168.6,158.3L169.6,158.2L170.6,158.1L171.6,158.0L172.6,158.0L173.6,158.0L174.6,158.0L175.4,158.0M190.1,166.1L190.6,166.9L191.2,167.7L191.7,168.6L192.2,169.5L192.7,170.3L193.1,171.2L193.5,172.0M202.5,182.9L202.9,182.0L203.3,181.1L203.7,180.1L204.0,179.2L204.3,178.3L204.6,177.3L204.8,176.5M209.8,158.9L210.1,157.9L210.4,157.0L210.7,156.0L211.0,155.1L211.3,154.1L211.6,153.2L211.8,152.4M219.2,131.8L219.8,131.0L220.4,130.2L221.0,129.4L221.6,128.5L222.0,127.7L222.5,126.8L222.9,126.1M230.3,144.1L230.5,145.0L230.7,146.0L231.0,147.0L231.3,147.9L231.6,148.9L231.8,149.9L232.0,150.6M235.5,169.7L235.6,170.7L235.8,171.7L235.9,172.7L236.1,173.6L236.2,174.6L236.4,175.6L236.5,176.4M239.3,195.3L239.4,196.3L239.6,197.3L239.7,198.3L239.9,199.3L240.0,200.3L240.2,201.3L240.3,202.1M243.2,221.0L243.4,221.9L243.6,222.9L243.8,223.9L244.0,224.9L244.2,225.9L244.4,226.8L244.6,227.6M250.1,246.2L250.4,247.1L250.7,248.1L251.1,249.0L251.4,250.0L251.8,250.9L252.1,251.8L252.4,252.6M266.0,258.4L266.9,258.9L267.6,259.6L268.3,260.3L268.9,261.1L269.5,261.9L270.1,262.7L270.5,263.4M276.5,281.3L276.7,282.3L277.0,283.2L277.3,284.2L277.7,285.1L278.0,286.1L278.3,287.0L278.5,287.8M283.3,306.6L283.6,307.5L283.9,308.5L284.2,309.4L284.6,310.4L285.0,311.3L285.4,312.2L285.7,312.9M295.4,328.7L296.4,328.6L297.2,327.9L297.7,327.1L298.1,326.2L298.5,325.3L298.9,324.3L299.2,323.6M304.3,305.4L304.5,304.4L304.8,303.4L305.0,302.5L305.3,301.5L305.5,300.5L305.7,299.5L305.9,298.8M308.9,279.7L309.1,278.7L309.3,277.7L309.5,276.7L309.8,275.8L310.0,274.8L310.3,273.9L310.6,273.1M315.1,254.4L315.4,253.4L315.7,252.5L316.2,251.6L316.6,250.7L317.1,249.8L317.5,248.9L317.8,248.2M326.3,229.8L327.1,229.1L327.9,228.6L328.8,228.1L329.7,227.7L330.7,227.4L331.6,227.2L332.4,227.1M341.7,243.6L342.6,243.9L343.6,243.8L344.6,243.6L345.6,243.4L346.5,243.1L347.5,242.8L348.2,242.5M361.5,230.6L362.2,229.8L362.9,229.1L363.6,228.4L364.3,227.7L365.0,227.0L365.7,226.3L366.3,225.7M378.0,210.4L378.6,209.6L379.1,208.8L379.7,207.9L380.2,207.1L380.7,206.2L381.2,205.4L381.6,204.7M391.4,187.8L392.0,187.0L392.7,186.3L393.5,185.6L394.2,185.0L395.0,184.4L395.8,183.8L396.5,183.3M411.7,172.2L412.7,172.1L413.7,172.0L414.7,172.0L415.7,171.9L416.7,171.9L417.7,171.8L418.4,171.7M434.4,163.6L435.4,163.6L436.4,163.6L437.4,163.6L438.4,163.6L439.4,163.6L440.4,163.9L441.1,164.3M452.1,179.3L452.9,179.8L453.8,180.3L454.7,180.6L455.7,180.9L456.7,181.1L457.6,181.4L458.3,181.7M465.9,199.6L466.1,200.6L466.4,201.5L466.6,202.5L466.9,203.5L467.1,204.5L467.4,205.4L467.6,206.2M473.3,222.9L474.0,223.6L474.9,224.0L475.9,224.0L476.9,223.8L477.7,223.4L478.5,222.7L479.0,222.1M489.1,227.3L489.5,228.2L489.8,229.2L490.2,230.1L490.6,231.0L491.0,232.0L491.4,232.8L491.8,233.5M505.0,230.7L505.9,230.3L506.9,230.2L507.9,230.5L508.6,231.1L509.3,231.9L509.9,232.6L510.4,233.3M521.8,247.5L522.5,248.3L523.1,249.0L523.8,249.8L524.5,250.5L525.1,251.3L525.8,252.0L526.4,252.6M536.3,268.2L536.9,269.0L537.6,269.7L538.3,270.4L539.1,271.1L539.9,271.6L540.8,272.1L541.6,272.3M559.9,267.6L560.9,267.6L561.9,267.6L562.9,267.7L563.9,267.7L564.9,267.8L565.9,267.9L566.7,268.0M580.6,267.5L581.2,266.7L581.8,265.9L582.3,265.0L582.9,264.2L583.4,263.3L584.0,262.5L584.4,261.8M594.3,268.5L594.7,269.4L595.1,270.3L595.5,271.2L595.8,272.2L596.2,273.1L596.5,274.0L596.8,274.8M605.2,287.8L606.0,287.2L606.7,286.5L607.4,285.8L608.1,285.1L608.7,284.3L609.4,283.6L610.0,283.0M624.6,271.4L625.3,270.7L626.0,270.0L626.7,269.3L627.4,268.6L628.2,267.9L629.0,267.4L629.8,267.1M646.5,271.7L647.3,271.2L648.1,270.7L648.9,270.0L649.7,269.4L650.4,268.8L651.2,268.1L651.9,267.7"/>
<path stroke="#c3829f" d="M31.5,153.2h0.01M48.5,173.0h0.01M73.5,175.8h0.01M91.5,163.7h0.01M103.3,185.4h0.01M116.0,173.9h0.01M124.9,149.0h0.01M141.5,144.9h0.01M161.0,161.0h0.01M177.0,175.8h0.01M186.0,152.1h0.01M201.0,137.7h0.01M209.2,115.9h0.01M221.4,97.9h0.01M232.6,122.4h0.01M237.6,147.1h0.01M242.0,174.0h0.01M246.6,199.1h0.01M259.1,216.4h0.01M273.0,236.1h0.01M284.2,259.8h0.01M298.6,268.7h0.01M303.9,243.0h0.01M311.6,218.0h0.01M321.5,193.8h0.01M338.2,206.6h0.01M351.5,201.2h0.01M361.3,176.9h0.01M372.4,153.2h0.01M393.0,146.4h0.01M413.0,130.4h0.01M429.5,123.1h0.01M446.5,134.5h0.01M459.6,156.7h0.01M474.0,176.9h0.01M495.0,191.0h0.01M513.6,209.0h0.01M533.6,210.5h0.01M558.0,208.5h0.01M574.4,227.5h0.01M593.6,242.9h0.01M607.6,231.4h0.01M628.6,226.1h0.01M649.0,220.1h0.01M663.0,232.4h0.01M19.7,151.5L20.4,150.8L21.1,150.1L21.8,149.4L22.5,148.7L23.3,148.1L24.2,147.6L24.9,147.2M36.7,161.6L37.3,162.4L37.9,163.2L38.5,164.0L39.1,164.8L39.7,165.5L40.4,166.3L40.9,166.9M57.8,172.6L58.8,172.7L59.8,172.8L60.7,172.9L61.7,173.1L62.7,173.3L63.7,173.5L64.5,173.6M82.4,176.3L83.3,175.8L84.1,175.3L84.9,174.7L85.7,174.0L86.4,173.3L87.0,172.5L87.4,171.8M98.1,168.9L98.5,169.9L98.8,170.8L99.1,171.8L99.4,172.7L99.7,173.7L100.0,174.6L100.2,175.4M109.7,188.5L110.2,187.6L110.8,186.8L111.2,185.9L111.7,185.0L112.1,184.1L112.5,183.2L112.8,182.4M118.9,164.5L119.2,163.5L119.5,162.6L119.8,161.6L120.1,160.7L120.4,159.7L120.8,158.8L121.0,158.0M129.6,140.5L130.3,139.8L131.0,139.2L131.9,138.6L132.8,138.1L133.7,137.8L134.7,137.6L135.5,137.6M146.9,152.7L147.8,153.3L148.6,153.8L149.5,154.2L150.4,154.7L151.3,155.1L152.2,155.6L152.9,155.9M166.3,167.0L166.8,167.9L167.4,168.7L167.9,169.5L168.4,170.4L169.0,171.2L169.5,172.1L170.0,172.7M181.1,167.5L181.4,166.6L181.8,165.6L182.1,164.7L182.4,163.8L182.8,162.8L183.1,161.9L183.4,161.1M188.5,142.1L188.8,141.2L189.2,140.2L189.5,139.3L189.9,138.4L190.4,137.5L191.0,136.7L191.5,136.1M204.4,130.2L204.7,129.3L205.0,128.3L205.3,127.4L205.6,126.4L205.9,125.5L206.2,124.5L206.5,123.8M212.0,108.1L212.3,107.2L212.7,106.2L213.0,105.3L213.4,104.4L213.8,103.4L214.2,102.5L214.6,101.8M226.0,106.9L226.4,107.8L226.9,108.7L227.3,109.6L227.8,110.5L228.2,111.4L228.6,112.3L229.0,113.0M234.5,131.4L234.7,132.4L234.9,133.4L235.1,134.4L235.3,135.4L235.5,136.3L235.7,137.3L235.8,138.1M239.4,157.2L239.5,158.2L239.7,159.2L239.8,160.2L240.0,161.2L240.2,162.2L240.3,163.1L240.4,163.9M243.4,183.3L243.6,184.3L243.8,185.3L243.9,186.3L244.1,187.2L244.3,188.2L244.5,189.2L244.6,190.0M248.7,208.6L249.0,209.6L249.2,210.5L249.5,211.5L249.8,212.5L250.2,213.4L250.5,214.3L250.9,215.1M266.5,221.0L266.8,221.9L267.2,222.9L267.5,223.8L267.8,224.8L268.2,225.7L268.5,226.6L268.8,227.4M277.4,244.8L277.9,245.7L278.3,246.6L278.8,247.5L279.2,248.4L279.7,249.3L280.1,250.2L280.5,250.9M288.4,268.6L288.9,269.4L289.5,270.3L290.0,271.1L290.6,272.0L291.2,272.8L291.8,273.5L292.4,274.1M300.9,259.3L301.1,258.3L301.2,257.3L301.4,256.3L301.6,255.3L301.7,254.4L301.9,253.4L302.0,252.6M306.9,233.8L307.3,232.9L307.6,232.0L307.9,231.0L308.2,230.1L308.5,229.1L308.8,228.1L309.1,227.4M314.5,208.7L314.9,207.8L315.2,206.9L315.6,205.9L315.9,205.0L316.3,204.1L316.7,203.1L317.0,202.4M330.0,192.3L330.7,193.1L331.3,193.9L331.9,194.7L332.4,195.5L333.0,196.4L333.5,197.2L333.9,197.9M343.8,214.4L344.8,214.7L345.7,214.4L346.4,213.7L346.9,212.9L347.4,212.0L347.8,211.1L348.1,210.3M355.2,192.2L355.5,191.3L355.9,190.4L356.3,189.4L356.6,188.5L357.0,187.6L357.3,186.7L357.6,185.9M365.1,168.0L365.5,167.1L365.9,166.2L366.4,165.3L366.8,164.4L367.3,163.5L367.7,162.6L368.1,161.9M379.9,149.2L380.9,149.6L381.7,150.0L382.6,150.6L383.5,151.1L384.4,151.5L385.3,151.8L386.1,151.9M400.4,140.5L401.1,139.9L402.0,139.3L402.8,138.7L403.6,138.1L404.4,137.6L405.2,137.0L405.9,136.5M419.6,131.9L420.6,131.8L421.5,131.5L422.4,131.1L423.2,130.5L424.0,129.9L424.7,129.2L425.2,128.5M437.0,122.3L437.6,123.1L438.1,124.0L438.5,124.9L439.0,125.8L439.4,126.7L439.9,127.6L440.3,128.3M453.3,141.5L453.9,142.3L454.4,143.1L455.0,144.0L455.5,144.9L455.9,145.8L456.3,146.7L456.6,147.4M463.4,165.0L464.0,165.9L464.5,166.7L465.1,167.5L465.7,168.3L466.4,169.1L467.0,169.8L467.6,170.4M483.0,180.0L483.9,180.5L484.8,181.0L485.7,181.5L486.5,182.1L487.3,182.6L488.1,183.3L488.7,183.8M501.9,197.7L502.7,198.3L503.6,198.8L504.4,199.4L505.2,199.9L506.1,200.5L506.9,201.1L507.5,201.6M519.7,216.3L520.6,216.8L521.5,217.1L522.5,217.3L523.5,217.3L524.5,217.1L525.4,216.7L526.1,216.4M543.0,211.6L544.0,211.8L544.9,212.1L545.9,212.3L546.9,212.6L547.9,212.8L548.8,212.9L549.6,212.9M565.5,213.9L566.1,214.7L566.6,215.6L567.0,216.5L567.5,217.3L568.0,218.2L568.5,219.1L568.9,219.8M584.1,229.5L584.9,230.0L585.7,230.6L586.5,231.3L587.2,232.0L587.9,232.7L588.5,233.5L589.0,234.1M600.9,246.1L601.5,245.3L602.0,244.4L602.4,243.5L602.8,242.6L603.2,241.7L603.6,240.8L604.0,240.1M612.6,223.0L613.6,222.8L614.6,222.6L615.6,222.5L616.6,222.5L617.6,222.4L618.6,222.4L619.4,222.4M636.8,224.5L637.4,223.7L638.1,222.9L638.7,222.1L639.3,221.3L639.9,220.5L640.5,219.7L640.9,219.1M652.8,228.6L653.2,229.5L653.6,230.4L654.0,231.3L654.5,232.2L654.9,233.1L655.4,234.0L655.8,234.7M667.4,223.8L667.9,223.0L668.0,222.8"/>
<path stroke="#5f8bc2" d="M19.3,173.1 L20.3,172.9 L21.3,172.7 L22.3,172.3 L23.3,171.8 L24.3,171.1 L25.3,170.0 L26.3,168.6 L27.3,166.9 L28.3,165.1 L29.3,163.1 L30.3,161.0 L31.3,158.8 L32.3,156.8 L33.3,155.3 L34.3,154.2 L35.3,153.3 L36.3,152.6 L37.3,152.2 L38.3,151.9 L39.3,152.1 L40.3,152.8 L41.3,153.7 L42.3,154.9 L43.3,156.3 L44.3,157.9 L45.3,159.7 L46.3,161.5 L47.3,163.0 L48.3,164.1 L49.3,165.1 L50.3,165.9 L51.3,166.4 L52.3,166.6 L53.3,166.4 L54.3,166.0 L55.3,165.4 L56.3,164.7 L57.3,163.8 L58.3,162.5 L59.3,161.3 L60.3,160.4 L61.3,159.9 L62.3,159.5 L63.3,159.4 L64.3,159.8 L65.3,160.6 L66.3,161.7 L67.3,162.9 L68.3,164.1 L69.3,165.4 L70.3,166.3 L71.3,166.9 L72.3,167.2 L73.3,167.5 L74.3,167.7 L75.3,167.8 L76.3,168.0 L77.3,168.1 L78.3,168.2 L79.3,168.4 L80.3,168.4 L81.3,168.5 L82.3,168.4 L83.3,168.2 L84.3,167.8 L85.3,167.3 L86.3,166.8 L87.3,166.2 L88.3,165.4 L89.3,164.5 L90.3,163.4 L91.3,162.3 L92.3,161.3 L93.3,160.4 L94.3,159.7 L95.3,159.1 L96.3,158.5 L97.3,158.2 L98.3,158.1 L99.3,158.4 L100.3,159.0 L101.3,159.7 L102.3,160.6 L103.3,161.7 L104.3,163.0 L105.3,164.6 L106.3,166.3 L107.3,167.7 L108.3,169.1 L109.3,170.4 L110.3,171.6 L111.3,172.6 L112.3,173.3 L113.3,173.6 L114.3,173.6 L115.3,173.5 L116.3,173.4 L117.3,173.2 L118.3,173.1 L119.3,173.1 L120.3,173.1 L121.3,173.1 L122.3,173.1 L123.3,173.1 L124.3,173.1 L125.3,173.2 L126.3,173.3 L127.3,173.6 L128.3,173.8 L129.3,174.1 L130.3,174.2 L131.3,174.2 L132.3,174.0 L133.3,173.7 L134.3,173.2 L135.3,172.4 L136.3,171.0 L137.3,168.8 L138.3,166.1 L139.3,163.1 L140.3,160.0 L141.3,156.9 L142.3,154.3 L143.3,152.4 L144.3,150.9 L145.3,149.8 L146.3,149.1 L147.3,148.6 L148.3,148.3 L149.3,148.1 L150.3,148.3 L151.3,148.9 L152.3,150.0 L153.3,151.3 L154.3,152.4 L155.3,153.0 L156.3,153.5 L157.3,153.8 L158.3,154.0 L159.3,154.2 L160.3,154.4 L161.3,154.6 L162.3,154.9 L163.3,155.1 L164.3,155.3 L165.3,155.6 L166.3,155.9 L167.3,156.2 L168.3,156.5 L169.3,156.7 L170.3,156.9 L171.3,156.9 L172.3,156.9 L173.3,156.6 L174.3,156.1 L175.3,155.4 L176.3,154.6 L177.3,153.4 L178.3,151.7 L179.3,149.5 L180.3,147.2 L181.3,145.2 L182.3,143.8 L183.3,142.7 L184.3,141.8 L185.3,141.1 L186.3,140.5 L187.3,140.2 L188.3,140.2 L189.3,140.5 L190.3,141.2 L191.3,142.2 L192.3,143.2 L193.3,144.3 L194.3,145.4 L195.3,146.5 L196.3,147.8 L197.3,148.9 L198.3,149.6 L199.3,149.8 L200.3,149.5 L201.3,148.7 L202.3,147.8 L203.3,146.7 L204.3,145.6 L205.3,144.4 L206.3,143.0 L207.3,141.4 L208.3,139.9 L209.3,138.3 L210.3,136.9 L211.3,135.7 L212.3,134.6 L213.3,133.6 L214.3,132.6 L215.3,131.7 L216.3,130.7 L217.3,129.6 L218.3,128.2 L219.3,126.8 L220.3,125.3 L221.3,124.1 L222.3,123.4 L223.3,123.3 L224.3,123.9 L225.3,125.1 L226.3,126.8 L227.3,128.9 L228.3,131.7 L229.3,135.2 L230.3,139.1 L231.3,143.4 L232.3,148.0 L233.3,153.1 L234.3,158.3 L235.3,163.6 L236.3,169.0 L237.3,174.4 L238.3,180.1 L239.3,186.0 L240.3,192.3 L241.3,198.1 L242.3,202.6 L243.3,205.9 L244.3,208.4 L245.3,210.7 L246.3,212.9 L247.3,215.1 L248.3,217.0 L249.3,218.6 L250.3,219.5 L251.3,219.7 L252.3,219.2 L253.3,218.1 L254.3,216.7 L255.3,215.2 L256.3,213.9 L257.3,212.7 L258.3,211.7 L259.3,210.7 L260.3,209.8 L261.3,209.3 L262.3,209.3 L263.3,209.9 L264.3,211.2 L265.3,212.8 L266.3,214.7 L267.3,216.7 L268.3,219.0 L269.3,221.6 L270.3,224.4 L271.3,227.3 L272.3,230.1 L273.3,232.7 L274.3,235.1 L275.3,237.3 L276.3,239.5 L277.3,241.7 L278.3,243.9 L279.3,246.1 L280.3,248.4 L281.3,250.8 L282.3,253.3 L283.3,256.1 L284.3,258.8 L285.3,261.6 L286.3,264.2 L287.3,266.6 L288.3,268.7 L289.3,270.5 L290.3,272.1 L291.3,273.6 L292.3,274.8 L293.3,275.6 L294.3,275.8 L295.3,275.3 L296.3,274.3 L297.3,272.9 L298.3,271.2 L299.3,269.0 L300.3,266.0 L301.3,262.0 L302.3,257.3 L303.3,252.3 L304.3,247.3 L305.3,242.7 L306.3,238.1 L307.3,233.5 L308.3,228.9 L309.3,224.6 L310.3,220.6 L311.3,217.1 L312.3,213.9 L313.3,210.9 L314.3,208.1 L315.3,205.6 L316.3,203.4 L317.3,201.5 L318.3,199.8 L319.3,198.2 L320.3,196.8 L321.3,195.6 L322.3,194.6 L323.3,193.9 L324.3,193.3 L325.3,192.7 L326.3,192.4 L327.3,192.1 L328.3,192.2 L329.3,192.5 L330.3,193.3 L331.3,194.4 L332.3,195.6 L333.3,197.0 L334.3,198.6 L335.3,200.6 L336.3,203.1 L337.3,205.7 L338.3,208.3 L339.3,210.6 L340.3,212.4 L341.3,214.0 L342.3,215.4 L343.3,216.5 L344.3,217.2 L345.3,217.4 L346.3,216.9 L347.3,215.9 L348.3,214.5 L349.3,212.9 L350.3,211.2 L351.3,209.4 L352.3,207.2 L353.3,204.8 L354.3,202.0 L355.3,199.2 L356.3,196.4 L357.3,193.8 L358.3,191.3 L359.3,189.0 L360.3,186.7 L361.3,184.5 L362.3,182.3 L363.3,180.3 L364.3,178.6 L365.3,177.0 L366.3,175.7 L367.3,174.4 L368.3,173.3 L369.3,172.2 L370.3,171.3 L371.3,170.6 L372.3,170.2 L373.3,170.1 L374.3,170.1 L375.3,170.3 L376.3,170.5 L377.3,170.7 L378.3,170.8 L379.3,170.9 L380.3,170.8 L381.3,170.3 L382.3,169.3 L383.3,168.0 L384.3,166.5 L385.3,165.0 L386.3,163.5 L387.3,161.8 L388.3,159.9 L389.3,158.0 L390.3,156.2 L391.3,154.6 L392.3,153.6 L393.3,153.0 L394.3,152.8 L395.3,152.6 L396.3,152.5 L397.3,152.4 L398.3,152.3 L399.3,152.1 L400.3,151.8 L401.3,151.3 L402.3,150.6 L403.3,149.6 L404.3,148.4 L405.3,147.0 L406.3,145.1 L407.3,142.5 L408.3,139.0 L409.3,135.2 L410.3,131.3 L411.3,128.1 L412.3,125.5 L413.3,123.4 L414.3,121.4 L415.3,119.7 L416.3,118.1 L417.3,117.0 L418.3,116.3 L419.3,116.2 L420.3,116.6 L421.3,117.5 L422.3,118.7 L423.3,120.1 L424.3,121.6 L425.3,123.0 L426.3,124.4 L427.3,125.9 L428.3,127.5 L429.3,129.2 L430.3,130.7 L431.3,131.9 L432.3,132.6 L433.3,132.9 L434.3,132.8 L435.3,132.5 L436.3,132.1 L437.3,131.7 L438.3,131.3 L439.3,131.1 L440.3,131.1 L441.3,131.3 L442.3,131.8 L443.3,132.5 L444.3,133.4 L445.3,134.3 L446.3,135.5 L447.3,137.0 L448.3,139.0 L449.3,141.4 L450.3,143.8 L451.3,146.3 L452.3,148.7 L453.3,151.1 L454.3,153.5 L455.3,156.0 L456.3,158.3 L457.3,160.5 L458.3,162.6 L459.3,164.5 L460.3,166.4 L461.3,168.0 L462.3,169.3 L463.3,170.1 L464.3,170.7 L465.3,171.2 L466.3,171.4 L467.3,171.4 L468.3,170.7 L469.3,169.6 L470.3,168.3 L471.3,166.9 L472.3,165.7 L473.3,164.5 L474.3,163.3 L475.3,162.2 L476.3,161.3 L477.3,160.7 L478.3,160.6 L479.3,160.9 L480.3,161.6 L481.3,162.6 L482.3,163.8 L483.3,165.1 L484.3,166.5 L485.3,168.2 L486.3,170.2 L487.3,172.4 L488.3,174.6 L489.3,176.6 L490.3,178.5 L491.3,180.2 L492.3,181.8 L493.3,183.3 L494.3,184.8 L495.3,186.1 L496.3,187.3 L497.3,188.4 L498.3,189.5 L499.3,190.5 L500.3,191.4 L501.3,192.3 L502.3,193.1 L503.3,194.0 L504.3,194.7 L505.3,195.5 L506.3,196.2 L507.3,196.9 L508.3,197.6 L509.3,198.2 L510.3,198.9 L511.3,199.5 L512.3,200.1 L513.3,200.6 L514.3,201.1 L515.3,201.6 L516.3,202.1 L517.3,202.6 L518.3,203.0 L519.3,203.4 L520.3,203.7 L521.3,204.1 L522.3,204.5 L523.3,204.9 L524.3,205.3 L525.3,205.7 L526.3,206.2 L527.3,206.7 L528.3,207.2 L529.3,207.8 L530.3,208.3 L531.3,209.0 L532.3,209.6 L533.3,210.2 L534.3,210.9 L535.3,211.5 L536.3,212.2 L537.3,212.9 L538.3,213.6 L539.3,214.3 L540.3,215.0 L541.3,215.8 L542.3,216.6 L543.3,217.4 L544.3,218.3 L545.3,219.2 L546.3,220.2 L547.3,221.3 L548.3,222.3 L549.3,223.4 L550.3,224.4 L551.3,225.4 L552.3,226.2 L553.3,227.1 L554.3,227.8 L555.3,228.5 L556.3,229.2 L557.3,229.8 L558.3,230.3 L559.3,230.9 L560.3,231.4 L561.3,231.8 L562.3,232.1 L563.3,232.3 L564.3,232.2 L565.3,231.9 L566.3,231.1 L567.3,230.1 L568.3,229.0 L569.3,227.8 L570.3,226.7 L571.3,225.5 L572.3,224.2 L573.3,222.9 L574.3,221.5 L575.3,220.2 L576.3,218.9 L577.3,217.8 L578.3,216.8 L579.3,215.8 L580.3,215.0 L581.3,214.2 L582.3,213.5 L583.3,212.7 L584.3,212.1 L585.3,211.4 L586.3,210.8 L587.3,210.2 L588.3,209.5 L589.3,208.9 L590.3,208.3 L591.3,207.7 L592.3,207.3 L593.3,207.1 L594.3,207.2 L595.3,207.6 L596.3,208.4 L597.3,209.5 L598.3,210.8 L599.3,212.1 L600.3,213.4 L601.3,214.9 L602.3,216.6 L603.3,218.3 L604.3,219.9 L605.3,221.2 L606.3,222.2 L607.3,222.9 L608.3,223.5 L609.3,224.0 L610.3,224.4 L611.3,224.8 L612.3,225.0 L613.3,225.2 L614.3,225.4 L615.3,225.5 L616.3,225.7 L617.3,225.9 L618.3,226.2 L619.3,226.6 L620.3,227.2 L621.3,228.0 L622.3,228.7 L623.3,229.5 L624.3,230.2 L625.3,231.0 L626.3,231.7 L627.3,232.4 L628.3,232.8 L629.3,232.9 L630.3,232.6 L631.3,232.1 L632.3,231.4 L633.3,230.6 L634.3,229.6 L635.3,228.3 L636.3,226.7 L637.3,224.9 L638.3,223.0 L639.3,221.2 L640.3,219.6 L641.3,218.0 L642.3,216.4 L643.3,214.9 L644.3,213.6 L645.3,212.6 L646.3,211.9 L647.3,211.4 L648.3,210.9 L649.3,210.6 L650.3,210.2 L651.3,210.0 L652.3,209.8 L653.3,209.7 L654.3,209.6 L655.3,209.7 L656.3,209.7 L657.3,209.9 L658.3,210.0 L659.3,210.3 L660.3,210.6 L661.3,211.1 L662.3,212.0 L663.3,213.0 L664.3,214.2 L665.3,215.5 L666.3,216.9 L667.3,218.2"/>
<path stroke="#c3829f" d="M19.3,170.4 L20.3,167.8 L21.3,164.7 L22.3,162.1 L23.3,160.1 L24.3,158.5 L25.3,157.1 L26.3,156.0 L27.3,155.2 L28.3,154.6 L29.3,154.1 L30.3,153.7 L31.3,153.5 L32.3,153.6 L33.3,154.4 L34.3,155.9 L35.3,157.8 L36.3,159.6 L37.3,161.5 L38.3,163.2 L39.3,164.3 L40.3,165.0 L41.3,165.5 L42.3,165.8 L43.3,166.0 L44.3,165.8 L45.3,165.1 L46.3,164.1 L47.3,163.0 L48.3,162.2 L49.3,161.8 L50.3,161.6 L51.3,161.4 L52.3,161.3 L53.3,161.1 L54.3,160.9 L55.3,160.6 L56.3,160.2 L57.3,159.8 L58.3,159.4 L59.3,158.9 L60.3,158.4 L61.3,157.9 L62.3,157.4 L63.3,156.8 L64.3,156.3 L65.3,155.9 L66.3,155.6 L67.3,155.4 L68.3,155.2 L69.3,155.1 L70.3,154.9 L71.3,154.8 L72.3,154.6 L73.3,154.4 L74.3,154.2 L75.3,154.0 L76.3,153.7 L77.3,153.2 L78.3,152.6 L79.3,152.0 L80.3,151.4 L81.3,151.0 L82.3,150.7 L83.3,150.8 L84.3,151.2 L85.3,151.9 L86.3,152.8 L87.3,153.7 L88.3,154.8 L89.3,156.2 L90.3,157.7 L91.3,159.2 L92.3,160.6 L93.3,161.8 L94.3,162.9 L95.3,163.9 L96.3,164.7 L97.3,165.5 L98.3,166.2 L99.3,166.7 L100.3,167.1 L101.3,167.5 L102.3,167.8 L103.3,168.1 L104.3,168.4 L105.3,168.6 L106.3,168.8 L107.3,169.0 L108.3,169.1 L109.3,169.2 L110.3,169.2 L111.3,169.3 L112.3,169.4 L113.3,169.5 L114.3,169.6 L115.3,170.0 L116.3,170.5 L117.3,171.2 L118.3,172.0 L119.3,172.9 L120.3,174.0 L121.3,175.3 L122.3,176.6 L123.3,177.9 L124.3,179.0 L125.3,179.9 L126.3,180.8 L127.3,181.5 L128.3,182.1 L129.3,182.4 L130.3,182.4 L131.3,182.1 L132.3,181.7 L133.3,181.2 L134.3,180.6 L135.3,179.8 L136.3,178.7 L137.3,177.4 L138.3,176.1 L139.3,174.7 L140.3,173.2 L141.3,171.7 L142.3,170.0 L143.3,168.5 L144.3,167.2 L145.3,166.2 L146.3,165.5 L147.3,164.8 L148.3,164.3 L149.3,164.0 L150.3,163.9 L151.3,164.2 L152.3,164.7 L153.3,165.3 L154.3,165.9 L155.3,166.5 L156.3,166.8 L157.3,166.9 L158.3,166.7 L159.3,166.3 L160.3,165.7 L161.3,165.0 L162.3,164.3 L163.3,163.6 L164.3,162.9 L165.3,162.4 L166.3,162.2 L167.3,162.2 L168.3,162.6 L169.3,163.4 L170.3,164.6 L171.3,165.9 L172.3,167.4 L173.3,169.0 L174.3,170.6 L175.3,172.6 L176.3,174.9 L177.3,177.2 L178.3,179.1 L179.3,180.3 L180.3,180.5 L181.3,179.5 L182.3,177.5 L183.3,174.9 L184.3,172.0 L185.3,168.9 L186.3,165.2 L187.3,161.2 L188.3,157.2 L189.3,154.0 L190.3,151.8 L191.3,150.3 L192.3,149.2 L193.3,148.3 L194.3,147.5 L195.3,146.9 L196.3,146.3 L197.3,145.9 L198.3,145.5 L199.3,145.1 L200.3,144.4 L201.3,143.3 L202.3,141.4 L203.3,138.6 L204.3,135.4 L205.3,132.2 L206.3,129.2 L207.3,126.3 L208.3,123.5 L209.3,121.0 L210.3,119.1 L211.3,117.9 L212.3,117.1 L213.3,116.5 L214.3,116.2 L215.3,116.1 L216.3,116.4 L217.3,116.9 L218.3,117.4 L219.3,117.8 L220.3,117.9 L221.3,117.8 L222.3,117.6 L223.3,117.3 L224.3,117.1 L225.3,117.3 L226.3,118.0 L227.3,119.5 L228.3,121.6 L229.3,124.2 L230.3,127.5 L231.3,132.2 L232.3,138.2 L233.3,145.1 L234.3,152.3 L235.3,160.1 L236.3,168.2 L237.3,176.3 L238.3,184.3 L239.3,192.4 L240.3,201.0 L241.3,209.8 L242.3,217.1 L243.3,222.7 L244.3,227.1 L245.3,230.2 L246.3,232.2 L247.3,233.4 L248.3,234.3 L249.3,235.0 L250.3,235.6 L251.3,235.9 L252.3,235.9 L253.3,235.6 L254.3,235.0 L255.3,234.2 L256.3,233.2 L257.3,232.1 L258.3,230.9 L259.3,229.8 L260.3,228.6 L261.3,227.2 L262.3,225.5 L263.3,223.7 L264.3,222.0 L265.3,220.4 L266.3,219.1 L267.3,218.4 L268.3,218.4 L269.3,219.4 L270.3,221.3 L271.3,223.7 L272.3,226.2 L273.3,228.7 L274.3,231.2 L275.3,233.7 L276.3,236.4 L277.3,239.2 L278.3,242.0 L279.3,244.9 L280.3,247.9 L281.3,250.9 L282.3,254.0 L283.3,257.0 L284.3,260.0 L285.3,262.8 L286.3,265.7 L287.3,268.5 L288.3,271.2 L289.3,273.7 L290.3,275.7 L291.3,277.4 L292.3,278.8 L293.3,280.1 L294.3,281.1 L295.3,281.7 L296.3,281.7 L297.3,281.0 L298.3,279.7 L299.3,277.8 L300.3,275.6 L301.3,272.8 L302.3,269.0 L303.3,264.3 L304.3,258.9 L305.3,253.6 L306.3,248.6 L307.3,243.6 L308.3,238.7 L309.3,234.1 L310.3,230.3 L311.3,227.5 L312.3,225.3 L313.3,223.5 L314.3,221.9 L315.3,220.7 L316.3,219.6 L317.3,218.8 L318.3,218.2 L319.3,217.6 L320.3,217.0 L321.3,216.6 L322.3,216.3 L323.3,216.1 L324.3,216.1 L325.3,216.4 L326.3,217.0 L327.3,217.8 L328.3,218.6 L329.3,219.6 L330.3,220.4 L331.3,221.2 L332.3,222.1 L333.3,222.9 L334.3,223.7 L335.3,224.4 L336.3,224.8 L337.3,224.8 L338.3,224.4 L339.3,223.5 L340.3,222.2 L341.3,220.7 L342.3,219.0 L343.3,217.2 L344.3,215.4 L345.3,213.4 L346.3,211.1 L347.3,208.6 L348.3,205.9 L349.3,203.1 L350.3,200.4 L351.3,197.8 L352.3,195.2 L353.3,192.7 L354.3,190.0 L355.3,187.5 L356.3,185.2 L357.3,183.2 L358.3,181.7 L359.3,180.3 L360.3,179.0 L361.3,177.9 L362.3,176.9 L363.3,176.2 L364.3,175.8 L365.3,175.8 L366.3,176.3 L367.3,177.2 L368.3,178.5 L369.3,180.0 L370.3,181.6 L371.3,183.0 L372.3,184.4 L373.3,185.8 L374.3,187.3 L375.3,188.9 L376.3,190.4 L377.3,191.7 L378.3,192.7 L379.3,193.3 L380.3,193.5 L381.3,193.4 L382.3,193.0 L383.3,192.5 L384.3,191.9 L385.3,191.2 L386.3,190.4 L387.3,189.6 L388.3,188.7 L389.3,187.7 L390.3,186.6 L391.3,185.3 L392.3,183.9 L393.3,182.4 L394.3,180.8 L395.3,179.2 L396.3,177.4 L397.3,175.5 L398.3,173.4 L399.3,171.2 L400.3,168.8 L401.3,166.4 L402.3,164.0 L403.3,161.6 L404.3,159.3 L405.3,157.0 L406.3,154.7 L407.3,152.4 L408.3,150.0 L409.3,147.8 L410.3,145.6 L411.3,143.4 L412.3,141.4 L413.3,139.5 L414.3,137.5 L415.3,135.7 L416.3,133.9 L417.3,132.1 L418.3,130.5 L419.3,129.0 L420.3,127.6 L421.3,126.1 L422.3,124.7 L423.3,123.4 L424.3,122.3 L425.3,121.5 L426.3,121.2 L427.3,121.6 L428.3,122.6 L429.3,124.2 L430.3,126.1 L431.3,128.4 L432.3,131.1 L433.3,134.7 L434.3,139.2 L435.3,144.1 L436.3,148.8 L437.3,153.1 L438.3,157.0 L439.3,160.8 L440.3,164.2 L441.3,167.1 L442.3,169.5 L443.3,171.5 L444.3,173.3 L445.3,174.9 L446.3,176.2 L447.3,177.3 L448.3,178.2 L449.3,178.9 L450.3,179.4 L451.3,179.9 L452.3,180.4 L453.3,180.8 L454.3,181.2 L455.3,181.7 L456.3,182.2 L457.3,182.6 L458.3,183.1 L459.3,183.6 L460.3,184.2 L461.3,184.8 L462.3,185.5 L463.3,186.4 L464.3,187.6 L465.3,189.1 L466.3,190.8 L467.3,192.7 L468.3,194.6 L469.3,196.7 L470.3,198.9 L471.3,201.2 L472.3,203.7 L473.3,206.1 L474.3,208.4 L475.3,210.6 L476.3,212.9 L477.3,215.0 L478.3,216.9 L479.3,218.3 L480.3,219.0 L481.3,219.4 L482.3,219.7 L483.3,219.9 L484.3,220.1 L485.3,220.2 L486.3,220.3 L487.3,220.5 L488.3,220.6 L489.3,220.8 L490.3,221.1 L491.3,221.4 L492.3,221.7 L493.3,222.0 L494.3,222.3 L495.3,222.7 L496.3,223.2 L497.3,223.7 L498.3,224.2 L499.3,224.9 L500.3,225.8 L501.3,226.7 L502.3,227.8 L503.3,228.9 L504.3,230.1 L505.3,231.2 L506.3,232.4 L507.3,233.5 L508.3,234.8 L509.3,236.1 L510.3,237.4 L511.3,238.7 L512.3,240.0 L513.3,241.2 L514.3,242.3 L515.3,243.5 L516.3,244.6 L517.3,245.7 L518.3,246.7 L519.3,247.7 L520.3,248.7 L521.3,249.5 L522.3,250.2 L523.3,250.9 L524.3,251.6 L525.3,252.2 L526.3,252.8 L527.3,253.3 L528.3,253.7 L529.3,253.9 L530.3,253.8 L531.3,253.4 L532.3,252.6 L533.3,251.5 L534.3,250.2 L535.3,248.9 L536.3,247.5 L537.3,246.0 L538.3,244.2 L539.3,242.4 L540.3,240.8 L541.3,239.7 L542.3,239.0 L543.3,238.5 L544.3,238.3 L545.3,238.1 L546.3,238.2 L547.3,238.6 L548.3,239.4 L549.3,240.5 L550.3,241.7 L551.3,243.1 L552.3,244.5 L553.3,246.3 L554.3,248.3 L555.3,250.5 L556.3,252.6 L557.3,254.6 L558.3,256.1 L559.3,257.2 L560.3,258.0 L561.3,258.6 L562.3,259.2 L563.3,259.6 L564.3,259.9 L565.3,259.8 L566.3,259.4 L567.3,258.6 L568.3,257.6 L569.3,256.6 L570.3,255.8 L571.3,255.0 L572.3,254.3 L573.3,253.6 L574.3,253.2 L575.3,253.2 L576.3,253.7 L577.3,254.5 L578.3,255.5 L579.3,256.4 L580.3,257.1 L581.3,257.7 L582.3,258.2 L583.3,258.6 L584.3,258.9 L585.3,258.9 L586.3,258.5 L587.3,257.8 L588.3,257.0 L589.3,256.2 L590.3,255.4 L591.3,254.9 L592.3,254.5 L593.3,254.1 L594.3,253.9 L595.3,253.7 L596.3,253.7 L597.3,254.0 L598.3,254.4 L599.3,255.1 L600.3,255.8 L601.3,256.5 L602.3,257.2 L603.3,257.9 L604.3,258.6 L605.3,259.3 L606.3,260.0 L607.3,260.6 L608.3,261.1 L609.3,261.6 L610.3,262.0 L611.3,262.4 L612.3,262.7 L613.3,262.9 L614.3,262.8 L615.3,262.4 L616.3,261.6 L617.3,260.6 L618.3,259.5 L619.3,258.6 L620.3,257.9 L621.3,257.3 L622.3,256.8 L623.3,256.4 L624.3,256.1 L625.3,256.1 L626.3,256.5 L627.3,257.1 L628.3,257.8 L629.3,258.5 L630.3,259.2 L631.3,259.8 L632.3,260.4 L633.3,260.8 L634.3,260.8 L635.3,260.4 L636.3,259.6 L637.3,258.6 L638.3,257.5 L639.3,256.6 L640.3,255.9 L641.3,255.3 L642.3,254.8 L643.3,254.4 L644.3,254.1 L645.3,254.2 L646.3,254.7 L647.3,255.7 L648.3,256.9 L649.3,258.1 L650.3,259.3 L651.3,260.6 L652.3,261.9 L653.3,263.1 L654.3,264.3 L655.3,265.4 L656.3,266.2 L657.3,266.8 L658.3,267.4 L659.3,268.0 L660.3,268.4 L661.3,268.8 L662.3,269.1 L663.3,269.3 L664.3,269.5 L665.3,269.7 L666.3,269.9 L667.3,270.0"/>
</g>
<g fill="none" stroke-width="3.3" stroke-linecap="round">
<path stroke="#7f1343" d="M219.6,381 H254.3"/>
<path stroke="#17299a" d="M219.6,408.7 H254.3"/>
<path stroke="#17299a" stroke-dasharray="6.8 9.75 0.01 9.65" d="M424.75,381 H458"/>
<path stroke="#7f1343" stroke-dasharray="6.8 9.75 0.01 9.65" d="M424.75,408.7 H458"/>
</g>
<text x="275" y="388.3" class="g t20" textLength="135.7" lengthAdjust="spacingAndGlyphs">Non-AM_Good</text>
<text x="275" y="416" class="g t20" textLength="129.5" lengthAdjust="spacingAndGlyphs">Non-AM_Poor</text>
<text x="480.7" y="388.3" class="g t20" textLength="84.7" lengthAdjust="spacingAndGlyphs">AM_Poor</text>
<text x="480.7" y="416" class="g t20" textLength="91.3" lengthAdjust="spacingAndGlyphs">AM_Good</text>
</g>
<g id="panel-b">
<text x="6.7" y="452.6" class="k" font-size="20" xml:space="preserve" textLength="395" lengthAdjust="spacingAndGlyphs">(b)  P2 difference: AM-Non-AM (200-280 ms)</text>
<defs><filter id="tblur" x="-10%" y="-10%" width="120%" height="120%"><feGaussianBlur stdDeviation="1.3"/></filter></defs>
<defs><clipPath id="clip1"><ellipse cx="97.2" cy="589.6" rx="86.6" ry="84.8"/></clipPath></defs>
<ellipse cx="97.2" cy="589.6" rx="88.19999999999999" ry="86.39999999999999" fill="#e9ebf8"/>
<g clip-path="url(#clip1)">
<g filter="url(#tblur)">
<rect x="2.200000000000003" y="493.6" width="190" height="190" fill="#2d28f2"/>
<path fill="#3032f2" fill-rule="evenodd" d="M5.2,496.6L189.2,496.6L189.2,680.6L5.2,680.6L5.2,496.6ZM69.6,516.6L67.3,517.7L65.4,519.6L65.0,520.2L64.5,521.9L64.4,528.8L64.0,531.1L61.7,535.7L60.4,537.5L59.2,540.3L58.9,542.6L59.4,549.5L59.7,551.8L60.4,553.5L62.7,553.8L65.0,550.7L67.3,544.6L68.6,540.3L70.6,535.7L74.2,531.0L75.5,528.8L76.5,526.5L76.9,524.2L77.1,521.9L76.5,519.2L74.2,517.1L71.9,516.4L69.6,516.6Z"/>
<path fill="#3339f2" fill-rule="evenodd" d="M5.2,496.6L189.2,496.6L189.2,680.6L5.2,680.6L5.2,496.6ZM83.4,498.6L81.1,501.2L78.0,505.8L75.8,508.1L72.8,510.4L69.6,512.4L67.3,514.1L65.0,516.2L62.7,519.6L62.4,521.9L62.3,526.5L62.0,528.8L61.4,531.1L59.3,535.7L58.1,537.8L57.3,540.3L56.4,549.5L54.9,554.1L53.9,556.4L53.6,558.7L55.8,560.9L60.4,561.3L65.0,563.5L66.9,563.3L67.3,563.1L67.6,561.0L67.4,556.4L67.9,551.8L69.0,547.2L71.2,540.3L73.6,535.7L76.5,531.7L78.1,528.8L80.7,521.9L81.8,519.6L83.4,516.9L85.0,515.0L86.4,512.7L88.0,511.3L90.3,508.4L91.8,505.8L92.7,503.5L92.5,501.2L91.3,498.9L90.3,497.7L88.0,496.8L85.7,497.2L83.4,498.6Z"/>
<path fill="#3643f2" fill-rule="evenodd" d="M5.2,496.6L77.2,496.6L72.9,503.5L71.3,505.8L65.0,513.2L62.7,516.4L62.2,517.3L61.3,519.6L61.0,521.9L60.7,526.5L59.6,531.1L56.6,538.0L55.8,540.3L55.0,547.2L54.5,549.5L53.6,551.8L51.2,556.4L50.6,558.7L50.4,561.0L51.2,563.3L53.5,564.1L58.1,564.7L65.0,566.5L67.3,566.5L69.6,565.6L70.3,563.3L69.8,556.4L70.0,551.8L70.9,547.2L72.3,542.6L73.2,540.3L75.7,535.7L78.8,531.1L82.1,524.2L83.4,522.1L85.7,519.6L88.6,517.3L90.3,515.5L95.0,508.1L96.2,505.8L97.0,503.5L97.1,501.2L96.9,498.9L96.3,496.6L189.2,496.6L189.2,680.6L5.2,680.6L5.2,496.6Z"/>
<path fill="#3a4cf2" fill-rule="evenodd" d="M5.2,496.6L72.6,496.6L69.0,503.5L66.3,508.1L62.7,513.6L60.4,518.4L60.1,519.6L59.4,526.5L58.9,528.8L57.3,533.4L55.3,538.0L54.7,540.3L53.5,547.2L52.9,549.5L51.9,551.8L49.5,556.4L48.6,558.7L48.3,561.0L48.5,563.3L48.9,564.0L50.6,565.6L51.2,565.9L58.1,566.9L62.7,568.1L65.0,568.5L67.3,568.4L69.6,567.5L71.2,565.6L71.9,563.3L71.5,556.4L71.7,551.8L72.6,547.2L73.2,544.9L74.9,540.3L84.1,524.2L86.0,521.9L91.2,517.3L94.6,512.7L97.7,508.1L98.7,505.8L99.4,503.5L99.8,501.2L99.9,496.6L189.2,496.6L189.2,680.6L5.2,680.6L5.2,496.6Z"/>
<path fill="#3e56f2" fill-rule="evenodd" d="M5.2,496.6L69.2,496.6L66.2,503.5L60.4,515.2L59.7,517.3L59.1,519.6L58.6,524.2L57.7,528.8L54.3,538.0L53.6,540.3L52.3,547.2L51.6,549.5L48.0,556.4L47.1,558.7L46.6,561.0L46.8,563.3L47.9,565.6L48.9,566.4L51.2,567.4L55.8,568.1L62.7,569.8L65.0,570.2L67.3,570.0L69.6,569.1L71.0,567.9L71.9,566.9L72.5,565.6L73.0,563.3L72.9,556.4L73.2,551.8L74.1,547.2L75.4,542.6L77.6,538.0L84.3,526.5L86.0,524.2L88.0,522.1L93.0,517.3L96.8,512.7L99.5,508.6L100.7,505.8L101.5,503.5L102.0,501.2L102.6,496.6L189.2,496.6L189.2,680.6L5.2,680.6L5.2,496.6Z"/>
<path fill="#4160f2" fill-rule="evenodd" d="M5.2,496.6L66.4,496.6L64.0,503.5L60.4,512.1L58.6,517.3L58.1,519.6L57.2,526.5L56.6,528.8L53.2,538.0L51.2,547.2L50.4,549.5L46.6,556.4L45.7,558.7L45.2,561.0L45.2,563.3L46.1,565.6L46.6,566.2L48.6,567.9L51.2,568.7L55.8,569.5L62.7,571.4L65.0,571.7L67.3,571.6L69.6,570.7L71.9,568.8L72.6,567.9L73.7,565.6L74.2,563.3L74.2,556.4L74.3,554.1L74.9,549.5L76.0,544.9L77.8,540.3L83.4,530.3L85.7,526.7L88.0,524.0L96.9,515.0L98.8,512.7L100.4,510.4L101.8,507.7L103.4,503.5L105.1,496.6L189.2,496.6L189.2,680.6L5.2,680.6L5.2,496.6Z"/>
<path fill="#4466f2" fill-rule="evenodd" d="M5.2,496.6L64.0,496.6L61.3,505.8L58.1,515.3L57.2,519.6L56.7,524.2L56.2,526.5L52.3,538.0L50.1,547.2L49.3,549.5L45.3,556.4L44.3,558.7L43.8,561.0L43.8,563.3L44.4,565.6L46.2,567.9L48.9,569.4L55.8,570.8L62.7,572.9L65.0,573.2L67.3,573.1L69.6,572.3L71.9,570.7L73.8,567.9L74.8,565.6L75.2,563.3L75.3,556.4L76.2,549.5L77.3,544.9L78.1,542.6L79.2,540.3L84.2,531.1L85.7,528.8L87.5,526.5L91.7,521.9L98.9,515.0L100.8,512.7L101.8,511.2L103.4,508.1L105.3,503.5L107.6,496.6L189.2,496.6L189.2,680.6L5.2,680.6L5.2,496.6Z"/>
<path fill="#4770f2" fill-rule="evenodd" d="M5.2,496.6L61.8,496.6L56.6,517.3L55.7,524.2L55.2,526.5L51.3,538.0L49.1,547.2L48.1,549.5L44.3,555.9L43.1,558.7L42.5,561.0L42.3,563.3L42.8,565.6L44.2,567.9L46.6,569.8L48.9,570.7L53.5,571.4L55.8,572.1L62.7,574.4L65.0,574.8L67.3,574.7L69.6,574.1L71.9,572.5L74.2,569.6L75.9,565.6L76.3,563.3L76.5,556.4L77.1,551.8L78.0,547.2L79.4,542.6L80.5,540.3L85.5,531.1L88.0,527.7L93.3,521.9L101.0,515.0L102.8,512.7L104.1,510.4L107.2,503.5L110.0,496.6L189.2,496.6L189.2,680.6L5.2,680.6L5.2,496.6Z"/>
<path fill="#4b7af2" fill-rule="evenodd" d="M5.2,496.6L59.8,496.6L57.6,508.1L55.7,517.3L54.8,524.2L54.2,526.5L50.4,538.0L48.0,547.2L47.0,549.5L44.1,554.1L41.8,558.7L41.1,561.0L40.8,563.3L41.1,565.6L42.2,567.9L44.3,570.0L46.6,571.2L48.9,571.9L53.5,572.6L62.7,576.0L65.0,576.4L67.3,576.5L69.6,576.0L71.9,574.7L74.2,572.1L75.3,570.2L77.0,565.6L77.4,563.3L77.5,558.7L78.0,554.1L78.8,549.5L79.9,544.9L81.1,541.8L85.7,532.9L88.0,529.6L94.8,521.9L100.8,517.3L103.1,515.0L104.1,513.7L106.0,510.4L112.6,496.6L189.2,496.6L189.2,680.6L5.2,680.6L5.2,496.6Z"/>
<path fill="#4e84f2" fill-rule="evenodd" d="M5.2,496.6L57.9,496.6L56.3,508.1L54.7,517.3L53.9,524.2L53.5,525.6L49.4,538.0L46.9,547.2L45.8,549.5L41.6,556.4L40.4,558.7L39.6,561.0L39.1,563.3L39.2,565.6L40.1,567.9L42.2,570.2L44.3,571.7L46.6,572.7L48.9,573.2L53.5,574.0L62.7,577.7L65.0,578.3L67.3,578.5L69.6,578.3L71.9,577.4L74.2,575.2L75.8,572.5L77.5,567.9L78.2,565.6L78.5,563.3L78.8,556.4L80.1,549.5L81.1,545.1L83.2,540.3L86.8,533.4L88.3,531.1L94.9,523.7L97.2,521.6L100.2,519.6L103.2,517.3L105.4,515.0L106.9,512.7L109.0,508.1L113.0,501.2L115.3,496.6L189.2,496.6L189.2,680.6L5.2,680.6L5.2,496.6Z"/>
<path fill="#528ef2" fill-rule="evenodd" d="M5.2,496.6L56.1,496.6L54.7,510.4L52.9,524.2L45.7,547.2L44.5,549.5L40.3,556.4L38.0,561.0L37.3,563.3L37.1,565.6L37.9,567.9L39.7,570.2L42.0,572.0L44.3,573.3L46.6,574.1L53.5,575.5L60.4,578.5L65.0,580.3L67.3,580.9L69.6,581.3L71.9,581.3L74.2,580.4L75.1,579.4L76.5,576.7L77.8,572.5L79.4,565.6L79.7,563.3L80.2,556.4L81.9,547.2L83.5,542.6L88.0,533.9L90.3,530.8L96.5,524.2L99.5,521.9L104.1,518.9L105.9,517.3L107.8,515.0L111.5,508.1L115.8,501.2L118.3,496.6L189.2,496.6L189.2,680.6L5.2,680.6L5.2,496.6Z"/>
<path fill="#5494f2" fill-rule="evenodd" d="M5.2,496.6L54.3,496.6L53.5,510.4L52.3,521.9L51.9,524.2L45.4,544.9L44.5,547.2L43.3,549.5L36.3,561.0L35.2,563.3L34.8,565.6L35.1,566.8L35.4,567.9L37.1,570.2L39.8,572.5L42.0,573.8L44.3,574.8L46.6,575.6L53.5,577.1L55.8,578.0L67.7,584.0L71.3,586.3L74.2,588.5L76.5,589.6L78.8,589.8L81.1,589.3L82.6,588.6L83.4,588.0L84.3,586.3L83.6,584.0L81.7,581.7L80.4,579.4L79.8,577.1L79.7,574.8L80.1,570.2L80.8,565.6L81.5,556.4L83.3,547.2L85.0,542.6L88.6,535.7L90.3,533.1L92.6,530.4L97.2,525.7L99.5,524.0L104.1,521.2L106.3,519.6L108.7,517.3L110.5,515.0L114.5,508.1L118.9,501.2L121.4,496.6L189.2,496.6L189.2,680.6L5.2,680.6L5.2,496.6Z"/>
<path fill="#589ef2" fill-rule="evenodd" d="M5.2,496.6L52.6,496.6L52.3,510.4L51.5,519.6L50.8,524.2L46.6,537.8L44.2,544.9L42.0,549.5L39.3,554.1L37.4,557.1L34.5,561.0L33.1,563.3L32.5,565.6L32.9,567.9L34.4,570.2L35.1,570.8L37.0,572.5L40.7,574.8L44.3,576.4L53.5,578.8L58.1,580.9L63.2,584.0L66.1,586.3L68.3,588.6L71.9,593.5L74.2,596.0L76.5,597.1L78.8,596.8L81.1,595.7L88.0,591.7L89.0,590.9L89.8,588.6L89.0,586.3L87.7,584.0L84.2,579.4L83.0,577.1L82.2,574.8L81.9,572.5L81.9,570.2L82.8,558.7L83.4,554.1L84.4,549.5L85.7,544.9L87.8,540.3L90.3,535.7L92.6,532.8L94.9,530.4L97.2,528.2L99.5,526.4L106.4,522.4L108.7,520.7L110.0,519.6L112.1,517.3L113.7,515.0L117.9,508.1L122.5,501.2L124.8,496.6L189.2,496.6L189.2,680.6L5.2,680.6L5.2,496.6Z"/>
<path fill="#5ca8f2" fill-rule="evenodd" d="M5.2,496.6L50.8,496.6L51.0,505.8L50.9,512.7L50.1,521.9L49.1,526.5L44.7,540.3L41.9,547.2L39.5,551.8L37.4,555.3L35.1,558.3L32.6,561.0L31.2,563.3L30.5,565.6L30.6,567.9L31.8,570.2L32.8,571.2L34.2,572.5L37.6,574.8L42.0,577.1L44.3,577.9L51.2,579.7L53.5,580.5L56.1,581.7L60.4,584.4L62.7,586.3L64.9,588.6L66.6,590.9L69.0,595.5L71.9,601.8L74.2,604.0L76.5,604.4L78.8,603.7L81.1,602.4L85.7,598.9L88.0,597.6L90.3,596.6L94.9,595.1L99.5,594.1L106.4,594.0L108.7,593.8L111.0,593.4L116.4,590.9L118.2,588.6L117.9,587.5L116.8,586.3L115.6,585.9L113.3,586.1L106.4,587.8L104.1,587.8L99.5,587.1L97.2,587.1L94.9,586.6L92.6,585.5L90.3,583.4L87.1,579.4L85.7,577.1L84.7,574.8L84.2,572.5L83.9,570.2L84.0,565.6L84.4,558.7L85.7,550.8L87.4,544.9L90.3,539.0L92.5,535.7L94.9,533.0L97.2,530.9L99.5,529.2L108.7,524.0L111.6,521.9L114.0,519.6L117.6,515.0L124.8,504.1L126.4,501.2L128.1,496.6L189.2,496.6L189.2,680.6L5.2,680.6L5.2,496.6Z"/>
<path fill="#5fb1f2" fill-rule="evenodd" d="M5.2,496.6L49.0,496.6L49.6,508.1L49.5,517.3L48.9,522.5L47.3,528.8L44.3,538.6L39.6,549.5L37.1,554.1L35.4,556.4L30.9,561.0L30.5,561.6L29.6,563.3L28.8,565.6L28.6,567.9L29.4,570.2L30.5,571.5L31.4,572.5L35.1,575.0L38.7,577.1L42.0,578.6L44.3,579.5L51.2,581.4L53.5,582.2L56.9,584.0L59.9,586.3L62.2,588.6L63.9,590.9L65.2,593.2L66.2,595.5L69.6,606.0L70.3,607.0L71.9,608.8L74.2,609.5L76.5,609.3L78.8,608.5L81.1,607.4L88.0,602.6L90.3,601.2L92.6,600.2L94.9,599.4L99.5,598.2L106.4,597.6L111.0,596.7L114.2,595.5L117.9,593.8L120.2,592.3L121.5,590.9L122.4,588.6L122.3,586.3L121.4,584.0L120.2,582.5L117.9,581.5L115.6,581.7L108.7,584.3L106.4,585.0L104.1,585.2L97.2,584.5L94.9,583.9L92.6,582.6L90.3,580.2L88.2,577.1L87.1,574.8L86.4,572.5L85.9,567.9L85.9,563.3L86.2,558.7L87.4,551.8L88.6,547.2L90.3,542.9L92.6,539.0L94.9,536.1L97.2,533.9L99.5,532.2L101.8,530.8L108.7,527.5L111.0,526.2L113.9,524.2L116.5,521.9L117.9,520.4L122.1,515.0L127.1,507.8L129.4,503.0L131.2,496.6L189.2,496.6L189.2,680.6L5.2,680.6L5.2,496.6Z"/>
<path fill="#62b8f2" fill-rule="evenodd" d="M5.2,496.6L47.1,496.6L48.1,508.1L48.3,515.0L47.8,521.9L46.6,527.3L43.4,538.0L38.5,549.5L37.3,551.8L35.1,555.2L34.2,556.4L29.5,561.0L28.1,563.3L27.3,565.6L26.9,567.9L27.3,570.2L28.9,572.5L30.5,573.9L35.7,577.1L42.0,580.2L44.3,581.0L51.2,583.0L53.5,584.0L55.8,585.3L58.1,587.0L59.7,588.6L61.6,590.9L62.9,593.2L64.0,595.5L65.4,600.1L66.9,607.0L67.8,609.3L69.6,612.2L71.9,613.3L74.2,613.2L76.5,612.6L81.1,610.9L84.1,609.3L90.3,605.1L92.6,603.9L94.9,602.9L99.5,601.6L108.7,600.0L113.3,598.6L120.2,595.3L122.9,593.2L124.4,590.9L125.0,588.6L125.1,586.3L124.7,584.0L123.7,581.7L122.5,579.8L120.2,578.2L117.9,577.9L115.6,578.5L108.7,582.0L106.4,582.8L104.1,583.2L101.8,583.2L97.2,582.5L94.9,581.7L92.6,579.9L90.5,577.1L89.4,574.8L88.7,572.5L88.2,570.2L87.9,565.6L88.2,558.7L89.5,551.8L90.3,548.5L92.6,543.0L94.4,540.3L97.2,537.3L99.5,535.6L101.8,534.3L108.7,531.3L113.3,528.8L116.6,526.5L120.2,523.2L127.1,514.5L129.4,511.1L131.0,508.1L131.9,505.8L132.6,503.5L134.1,496.6L189.2,496.6L189.2,680.6L5.2,680.6L5.2,496.6Z"/>
<path fill="#65c2f2" fill-rule="evenodd" d="M5.2,496.6L45.2,496.6L46.6,508.6L46.9,517.3L46.5,521.9L44.3,531.4L42.0,538.9L36.3,551.8L34.8,554.1L32.9,556.4L30.2,558.7L28.2,560.9L27.0,563.3L26.0,565.6L25.4,567.9L25.5,570.2L26.7,572.5L28.2,574.2L30.5,575.9L37.0,579.4L42.0,581.7L49.3,584.0L53.5,585.8L55.8,587.3L57.3,588.6L59.4,590.9L60.9,593.2L62.0,595.5L63.5,600.1L65.0,608.0L67.3,614.3L69.6,616.5L71.9,616.7L74.2,616.2L80.3,613.9L83.4,612.6L92.6,607.2L94.9,606.1L101.8,604.2L108.7,602.8L113.3,601.3L122.5,596.7L124.8,594.8L125.9,593.2L126.8,590.9L127.2,588.6L127.3,586.3L127.1,584.0L126.5,581.7L124.8,577.9L122.5,575.3L120.2,574.3L117.9,574.4L115.6,575.3L108.7,579.6L106.4,580.7L104.1,581.3L101.8,581.3L97.2,580.5L94.9,579.4L92.9,577.1L91.8,574.8L91.0,572.5L90.3,567.9L90.2,563.3L90.3,560.7L91.4,554.1L92.4,549.5L94.4,544.9L95.9,542.6L98.1,540.3L99.5,539.2L101.5,538.0L108.7,535.3L115.6,531.3L120.2,527.9L122.5,525.5L129.4,516.8L131.7,513.3L133.2,510.4L134.3,508.1L134.9,505.8L136.8,496.6L189.2,496.6L189.2,680.6L5.2,680.6L5.2,496.6Z"/>
<path fill="#69ccf2" fill-rule="evenodd" d="M5.2,496.6L43.1,496.6L44.8,508.1L45.2,512.7L45.4,517.3L45.3,519.6L44.6,524.2L42.0,535.5L40.3,540.3L35.2,551.8L33.7,554.1L31.7,556.4L28.9,558.7L28.2,559.5L27.1,561.0L25.8,563.3L24.7,565.6L24.0,567.9L24.0,570.2L24.8,572.5L25.9,574.3L28.2,576.4L33.8,579.4L39.7,582.1L42.0,583.1L51.2,586.4L53.5,587.7L54.8,588.6L57.2,590.9L58.9,593.2L60.2,595.5L61.1,597.8L61.8,600.1L63.6,609.3L65.0,614.5L65.7,616.2L67.3,618.7L69.6,619.6L71.9,619.4L74.2,618.7L85.4,613.9L92.6,610.2L94.9,609.2L101.8,607.2L108.7,605.6L113.3,604.1L120.2,600.6L124.8,598.4L127.1,596.4L127.8,595.5L128.7,593.2L129.1,590.9L129.2,586.3L129.1,584.0L128.1,579.4L127.4,577.1L126.2,574.8L124.8,573.0L122.5,571.4L120.2,570.8L117.9,571.1L115.6,572.1L113.3,573.4L108.7,576.8L106.4,578.2L104.1,579.1L101.8,579.2L99.5,578.8L97.2,578.0L96.0,577.1L94.9,575.8L94.4,574.8L93.6,572.5L93.1,570.2L92.7,565.6L92.8,561.0L94.0,554.1L94.9,550.7L96.4,547.2L97.9,544.9L99.5,543.2L101.8,541.6L104.1,540.5L108.7,538.9L111.0,537.9L115.6,535.0L120.2,531.7L123.4,528.8L130.9,519.6L132.4,517.3L134.0,514.4L136.3,509.3L137.3,505.8L139.4,496.6L189.2,496.6L189.2,680.6L5.2,680.6L5.2,496.6Z"/>
<path fill="#6cd5f2" fill-rule="evenodd" d="M5.2,496.6L40.8,496.6L42.9,508.1L43.4,512.7L43.7,517.3L43.6,519.6L43.0,524.2L41.2,533.4L40.0,538.0L37.0,544.9L35.2,549.5L34.1,551.8L32.6,554.1L30.6,556.4L27.8,558.7L26.0,561.0L24.6,563.3L23.5,565.6L22.8,567.9L22.6,570.2L23.1,572.5L24.2,574.8L25.9,576.9L28.2,578.5L40.7,584.0L48.9,587.0L51.2,588.2L53.5,589.7L55.8,591.8L58.4,595.5L59.4,597.8L60.2,600.1L62.7,612.4L63.7,616.2L64.5,618.5L65.0,619.3L66.4,620.8L67.3,621.5L69.6,622.1L71.9,621.8L74.2,621.1L83.4,616.7L94.9,612.2L99.5,610.8L111.0,608.0L113.3,607.2L124.8,601.9L127.1,600.7L129.4,598.8L130.2,597.8L131.2,595.5L131.4,593.2L130.7,581.7L130.0,577.1L129.4,575.0L128.3,572.5L127.1,570.7L124.8,568.8L122.5,568.0L120.2,567.9L117.9,568.3L115.6,569.0L113.3,570.2L106.4,574.8L104.1,575.9L101.8,576.1L99.5,575.6L98.4,574.8L97.2,573.5L96.7,572.5L96.1,570.2L95.6,565.6L95.7,561.0L97.2,553.6L98.9,549.5L100.4,547.2L101.8,545.8L104.1,544.2L113.3,540.0L116.6,538.0L120.2,535.4L124.8,531.0L130.9,524.2L132.7,521.9L134.0,519.8L135.2,517.3L138.9,508.1L142.1,496.6L189.2,496.6L189.2,680.6L5.2,680.6L5.2,496.6Z"/>
<path fill="#70dfec" fill-rule="evenodd" d="M5.2,496.6L38.2,496.6L40.7,508.1L41.4,512.7L41.7,517.3L41.7,519.6L41.2,524.2L39.4,535.7L37.9,540.3L33.0,551.8L31.5,554.1L29.5,556.4L26.8,558.7L24.9,561.0L23.5,563.3L22.3,565.6L21.6,567.9L21.3,570.2L21.6,572.5L22.3,574.8L23.5,577.1L25.9,579.4L28.2,580.6L37.4,584.0L48.7,588.6L52.4,590.9L54.8,593.2L56.5,595.5L57.8,597.8L58.7,600.1L59.8,604.7L62.0,616.2L62.7,619.0L63.5,620.8L65.0,622.9L65.3,623.1L67.3,624.2L69.6,624.5L71.9,624.2L74.2,623.5L76.5,622.5L83.4,618.5L85.7,617.6L99.5,613.7L111.0,611.0L115.6,609.5L129.4,603.1L131.7,601.6L133.2,600.1L134.3,597.8L134.4,595.5L134.2,593.2L132.8,586.3L132.5,577.1L131.5,572.5L130.6,570.2L129.4,567.9L127.1,565.5L124.8,564.6L122.5,564.5L117.9,565.3L113.3,566.6L110.5,567.9L106.4,570.1L104.1,570.9L101.8,570.8L101.0,570.2L99.7,567.9L99.3,565.6L99.4,561.0L99.7,558.7L101.0,554.1L102.0,551.8L104.1,549.0L106.4,547.0L110.3,544.9L115.6,542.5L117.9,541.3L120.2,539.6L122.5,537.5L127.1,532.3L132.8,526.5L134.7,524.2L136.1,521.9L137.1,519.6L139.2,512.7L142.7,503.5L144.7,496.6L189.2,496.6L189.2,680.6L5.2,680.6L5.2,496.6Z"/>
<path fill="#75e6e7" fill-rule="evenodd" d="M5.2,496.6L35.4,496.6L38.1,508.1L38.9,512.7L39.3,517.3L39.2,521.9L37.9,535.7L37.5,538.0L36.6,540.3L31.8,551.8L30.5,554.1L28.4,556.4L25.7,558.7L23.7,561.0L22.2,563.3L21.1,565.6L20.3,567.9L20.0,570.2L20.1,572.5L20.5,574.8L21.3,577.2L22.6,579.4L23.6,580.5L25.4,581.7L28.2,582.8L37.4,585.5L45.2,588.6L49.6,590.9L51.2,592.0L53.5,594.1L54.6,595.5L56.1,597.8L57.1,600.1L57.9,602.4L58.9,607.0L60.8,618.5L62.2,623.1L62.7,624.3L65.0,626.7L67.3,627.3L69.6,627.1L71.9,626.8L74.2,626.1L76.5,625.2L78.8,623.8L82.9,620.8L85.7,619.5L94.9,617.5L104.1,615.3L111.0,613.9L117.9,611.8L131.7,605.4L134.0,604.1L136.1,602.4L137.4,600.1L137.8,597.8L137.5,595.5L136.9,593.2L134.9,586.3L134.7,584.0L135.1,579.4L134.8,574.8L133.8,570.2L131.7,563.2L130.3,561.0L129.4,560.0L127.1,559.0L124.8,558.9L122.5,559.3L117.9,561.2L111.0,562.1L108.7,562.1L106.4,561.0L105.8,558.7L106.1,556.4L107.0,554.1L108.5,551.8L110.9,549.5L113.3,548.3L117.9,546.7L120.2,545.5L122.5,543.7L124.8,541.0L128.2,535.7L129.4,534.2L135.4,528.8L137.4,526.5L138.8,524.2L139.8,521.9L140.3,519.6L141.0,515.0L141.5,512.7L144.5,505.8L147.6,496.6L189.2,496.6L189.2,680.6L15.0,680.6L15.1,676.0L14.5,671.4L13.8,669.1L12.6,666.8L12.1,666.1L9.8,664.3L7.5,663.7L5.2,663.7L5.2,496.6Z"/>
<path fill="#79f0e0" fill-rule="evenodd" d="M5.2,496.6L32.1,496.6L35.1,507.8L36.3,515.0L36.5,519.6L36.1,528.8L36.3,535.7L36.0,538.0L35.3,540.3L33.2,544.9L30.6,551.8L29.3,554.1L27.2,556.4L24.3,558.7L22.3,561.0L20.9,563.3L19.8,565.6L19.0,567.9L18.6,570.2L18.5,572.5L19.1,577.1L19.7,579.4L20.9,581.7L21.3,582.3L23.6,583.8L25.9,584.5L35.1,586.3L41.7,588.6L46.6,590.9L48.9,592.3L51.2,594.1L52.6,595.5L54.3,597.8L55.6,600.1L57.0,604.7L58.2,611.6L59.7,623.1L60.6,627.7L61.5,630.0L62.7,632.0L65.0,632.1L74.2,629.1L76.5,628.1L78.8,626.9L81.1,625.2L83.3,623.1L85.7,621.7L88.0,621.1L97.2,619.5L104.1,617.7L113.3,616.0L120.2,613.9L135.0,607.0L136.3,606.2L138.6,604.2L139.9,602.4L140.7,600.1L140.7,597.8L137.6,586.3L137.4,584.0L137.8,579.4L137.8,577.1L135.8,565.6L135.4,561.0L135.1,558.7L134.0,555.2L131.5,549.5L130.9,547.2L130.8,544.9L131.0,542.6L131.6,540.3L132.7,538.0L134.5,535.7L138.6,532.0L140.9,529.5L142.9,526.5L143.8,524.2L144.2,521.9L144.2,515.0L144.7,512.7L148.3,503.5L150.7,496.6L189.2,496.6L189.2,680.6L29.4,680.6L29.6,673.7L28.6,657.6L28.3,655.3L27.4,653.0L25.3,650.7L23.6,649.7L21.3,648.9L19.0,648.3L16.7,648.1L12.1,648.1L9.5,648.4L5.2,649.3L5.2,496.6Z"/>
<path fill="#7cf5d8" fill-rule="evenodd" d="M5.2,496.6L28.2,496.6L30.5,504.1L32.4,512.7L32.8,515.6L33.0,519.6L32.7,528.8L32.9,531.1L33.3,533.4L34.0,535.7L34.3,538.0L33.5,540.3L31.4,544.9L29.1,551.8L28.1,554.1L25.9,556.4L22.6,558.7L20.7,561.0L18.3,565.6L17.4,567.9L17.0,570.2L16.9,572.5L17.0,577.1L17.4,581.7L17.9,584.0L19.0,585.7L20.1,586.3L21.3,586.7L23.6,586.9L28.2,587.0L32.8,587.5L37.5,588.6L43.3,590.9L46.6,592.7L50.4,595.5L52.5,597.8L53.9,600.1L54.9,602.4L55.8,605.6L56.8,611.6L57.4,620.8L57.3,625.4L57.1,627.7L56.6,630.0L55.7,632.3L53.7,636.9L52.9,639.2L53.2,641.5L53.5,641.7L55.8,642.8L58.1,643.0L60.4,642.8L62.7,641.9L65.0,639.7L67.3,636.9L69.6,634.9L71.9,633.5L78.8,630.2L81.1,628.9L82.7,627.7L85.7,624.9L88.0,623.7L90.3,623.1L97.2,621.8L104.1,619.9L113.3,618.5L120.2,616.8L122.5,615.9L129.4,612.4L136.3,609.3L138.6,607.9L140.9,605.5L142.6,602.4L143.1,600.1L142.9,597.8L140.9,588.6L140.6,586.3L140.9,579.4L139.2,570.2L138.6,565.6L138.5,558.7L138.2,549.5L138.4,544.9L138.9,542.6L139.7,540.3L141.1,538.0L145.5,532.4L147.8,529.1L149.0,526.5L149.3,524.2L148.6,517.3L148.5,515.0L148.8,512.7L150.1,508.1L154.0,496.6L189.2,496.6L189.2,680.6L40.7,680.6L41.1,676.0L41.1,673.7L39.6,662.2L39.8,659.9L42.1,653.0L42.8,650.7L42.8,648.4L41.3,646.1L35.3,643.8L28.2,642.2L24.2,641.5L19.0,640.8L14.4,640.5L9.8,640.6L5.2,641.2L5.2,496.6Z"/>
<path fill="#7ff5d0" fill-rule="evenodd" d="M5.2,496.6L23.6,496.6L26.5,505.8L27.6,510.4L28.3,515.0L28.5,519.6L27.8,531.1L28.0,533.4L29.0,535.7L31.0,538.0L30.8,540.3L29.1,544.9L27.3,551.8L26.3,554.1L21.3,557.8L20.4,558.7L17.6,563.3L15.7,567.9L15.2,570.2L14.8,577.1L13.9,584.0L13.9,586.3L14.4,588.6L16.7,590.4L19.0,590.5L25.9,589.5L30.5,589.2L32.8,589.3L35.1,589.6L39.7,591.0L44.3,593.1L48.9,596.3L50.5,597.8L52.2,600.1L53.3,602.4L54.1,604.7L54.6,607.0L55.3,611.6L55.6,618.5L55.2,623.1L54.7,625.4L53.9,627.7L52.8,630.0L51.2,632.3L48.9,634.7L46.6,636.5L44.3,637.6L42.0,638.3L37.4,638.6L32.8,638.3L25.9,637.3L14.4,635.1L9.8,634.7L5.2,634.7L5.2,496.6ZM156.9,498.9L157.7,496.6L189.2,496.6L189.2,680.6L50.6,680.6L51.7,676.0L52.3,671.4L52.4,662.2L52.6,659.9L53.8,655.3L54.7,653.0L56.3,650.7L58.1,649.1L62.7,646.6L65.0,644.9L67.3,642.6L70.0,639.2L71.9,637.5L74.2,635.9L83.4,630.7L88.0,626.8L90.3,625.6L104.1,622.0L113.3,620.7L120.2,619.4L122.5,618.7L127.1,616.6L131.7,614.2L136.3,612.2L138.6,610.9L140.9,609.1L143.2,606.1L144.5,602.4L144.9,600.1L143.3,588.6L143.2,586.3L143.6,581.7L143.5,579.4L141.7,570.2L141.1,565.6L141.3,561.0L142.0,554.1L143.2,547.2L143.9,544.9L144.8,542.6L146.0,540.3L151.7,531.1L152.8,528.8L153.5,526.5L153.6,524.2L152.9,517.3L153.0,512.7L154.0,508.1L156.9,498.9Z"/>
<path fill="#81f5cb" fill-rule="evenodd" d="M5.2,496.6L18.1,496.6L21.2,505.8L22.7,512.7L23.2,519.6L23.0,531.1L23.2,533.4L23.7,535.7L25.3,540.3L25.5,542.6L25.2,544.9L23.9,551.8L19.0,556.8L17.7,558.7L15.3,563.3L13.5,567.9L13.0,570.2L12.3,577.1L10.5,584.0L10.2,586.3L10.5,588.6L11.6,590.9L12.1,591.4L14.4,593.1L16.7,593.6L19.0,593.5L25.9,591.9L30.5,591.2L32.8,591.2L35.1,591.4L37.4,592.0L40.9,593.2L44.3,594.9L48.3,597.8L50.3,600.1L51.7,602.4L52.5,604.7L53.5,609.3L53.8,611.6L53.9,616.2L53.5,620.4L52.9,623.1L52.1,625.4L51.2,627.1L48.9,630.1L46.3,632.3L44.3,633.5L42.0,634.4L39.7,634.9L37.4,635.2L35.1,635.2L30.5,634.7L23.6,633.4L12.1,629.8L9.8,629.3L5.2,628.9L5.2,496.6ZM160.9,498.9L161.7,496.6L189.2,496.6L189.2,680.6L58.3,680.6L59.4,676.0L60.2,671.4L60.2,662.2L60.8,657.6L61.6,655.3L63.0,653.0L64.8,650.7L72.7,641.5L75.2,639.2L78.2,636.9L83.4,633.5L90.3,628.1L92.6,627.0L101.8,624.4L104.1,623.9L117.9,622.1L122.5,621.1L124.8,620.4L129.3,618.5L138.6,613.8L141.6,611.6L143.7,609.3L145.0,607.0L145.5,605.6L146.1,602.4L146.3,600.1L145.4,588.6L145.7,579.4L144.1,570.2L143.7,565.6L143.7,563.3L144.3,558.7L145.5,553.0L147.4,547.2L149.6,542.6L153.5,535.7L155.3,531.1L156.3,526.5L156.6,517.3L157.0,512.7L158.0,508.1L160.9,498.9Z"/>
<path fill="#85f5c4" fill-rule="evenodd" d="M5.2,496.6L11.7,496.6L13.4,501.2L14.9,505.8L16.5,512.7L17.1,517.3L17.6,531.1L18.3,540.3L18.2,542.6L16.7,548.9L15.9,554.1L15.2,556.4L11.5,565.6L10.4,570.2L9.6,574.8L6.8,584.0L6.6,586.3L6.8,588.6L7.6,590.9L9.3,593.2L12.1,595.1L14.4,596.0L16.7,596.3L19.0,596.2L21.3,595.8L28.2,593.7L30.5,593.3L32.8,593.2L35.1,593.3L37.4,593.8L39.7,594.5L42.1,595.5L44.3,596.8L46.6,598.4L48.9,600.8L49.9,602.4L50.9,604.7L51.9,609.3L52.2,611.6L52.1,616.2L51.3,620.8L50.5,623.1L49.3,625.4L46.6,628.5L44.3,630.2L42.0,631.3L39.7,632.0L37.4,632.3L35.1,632.4L32.8,632.3L28.2,631.5L25.9,630.9L21.3,629.2L12.1,624.6L9.8,623.9L5.2,623.2L5.2,496.6ZM165.9,496.6L189.2,496.6L189.2,680.6L64.0,680.6L65.1,673.7L65.4,662.2L65.8,659.9L66.4,657.6L68.5,653.0L71.7,648.4L75.2,643.8L79.8,639.2L90.3,630.5L92.6,629.1L94.9,628.1L99.5,626.8L104.1,625.8L115.6,624.5L122.5,623.4L127.1,622.2L131.7,620.4L136.3,618.0L140.9,615.0L143.2,613.1L144.6,611.6L146.2,609.3L147.0,607.0L147.4,604.7L147.6,600.1L147.2,590.9L147.7,579.4L146.2,567.9L146.1,565.6L146.6,561.0L147.6,556.4L149.2,551.8L151.3,547.2L155.4,540.3L156.5,538.0L157.4,535.7L158.3,531.1L158.8,526.5L161.0,512.7L162.8,505.8L165.9,496.6Z"/>
<path fill="#88f5bc" fill-rule="evenodd" d="M5.2,498.9L6.2,501.2L7.9,505.8L9.2,510.4L10.2,515.0L11.2,524.2L11.9,538.0L11.9,542.6L11.3,551.8L10.7,556.4L5.2,576.2L5.2,498.9ZM170.2,496.6L189.2,496.6L189.2,680.6L68.8,680.6L69.1,676.0L69.4,666.8L69.7,662.2L70.1,659.9L70.8,657.6L71.7,655.3L74.4,650.7L79.4,643.8L83.5,639.2L88.2,634.6L90.3,632.8L92.6,631.2L94.9,630.0L99.5,628.4L106.4,627.3L120.2,626.0L127.1,624.6L131.7,623.2L136.3,620.9L140.9,617.8L143.2,616.0L145.4,613.9L147.2,611.6L147.8,610.6L148.4,609.3L148.9,607.0L149.0,604.7L148.8,600.1L148.8,595.5L149.5,579.4L148.6,567.9L148.5,565.6L149.2,561.0L150.5,556.4L152.4,551.9L154.7,548.0L158.4,542.6L159.7,540.3L160.6,538.0L161.2,535.7L161.5,533.4L161.7,526.5L162.2,524.2L165.6,510.4L170.2,496.6ZM5.2,595.5L5.2,594.4L6.3,595.5L7.5,596.3L9.8,597.4L14.4,598.9L16.7,599.2L19.0,599.1L21.3,598.6L28.2,596.1L30.5,595.5L32.8,595.2L35.1,595.3L37.4,595.6L39.7,596.3L42.0,597.3L44.3,598.7L46.6,600.6L48.1,602.4L49.2,604.7L49.9,607.0L50.3,609.3L50.5,613.9L50.3,616.2L49.9,618.5L49.1,620.8L48.0,623.1L46.2,625.4L44.3,627.1L42.0,628.5L39.7,629.4L37.4,629.8L35.1,629.9L32.8,629.7L28.2,628.8L25.2,627.7L21.0,625.4L14.4,620.6L12.1,619.4L9.8,618.5L5.2,617.4L5.2,595.5Z"/>
<path fill="#8cf5b4" fill-rule="evenodd" d="M174.6,496.6L189.2,496.6L189.2,680.6L73.0,680.6L73.1,664.5L73.9,659.9L74.6,657.6L76.9,653.0L82.9,643.8L86.5,639.2L90.3,635.2L92.6,633.4L94.9,632.0L97.2,630.9L99.5,630.1L106.4,629.2L120.2,628.1L127.1,627.0L132.8,625.4L136.3,623.7L143.2,618.6L145.5,616.5L147.8,614.0L149.5,611.6L150.5,609.3L150.7,607.0L149.9,600.1L151.3,581.7L151.3,577.1L150.8,567.9L150.9,565.6L151.2,563.3L152.5,558.7L154.7,553.7L157.0,550.1L162.7,542.6L164.0,540.3L164.7,538.0L165.1,535.7L165.5,526.5L166.5,521.9L169.8,510.4L174.6,496.6ZM5.2,531.1L5.8,538.0L6.0,549.5L5.9,554.1L5.2,559.3L5.2,531.1ZM30.2,597.8L32.8,597.3L35.1,597.2L38.3,597.8L42.0,599.2L44.3,600.7L46.1,602.4L47.5,604.7L48.2,607.0L48.7,609.3L48.8,611.6L48.7,613.9L48.4,616.2L47.8,618.5L46.6,621.1L44.3,624.0L42.0,625.8L39.7,626.8L37.4,627.4L35.1,627.5L32.8,627.3L30.5,626.8L26.6,625.4L22.9,623.1L20.3,620.8L14.4,614.7L12.1,613.0L5.2,609.9L5.2,601.4L9.8,601.7L12.1,602.1L14.4,602.9L16.7,603.2L19.0,602.7L21.3,601.9L25.9,599.5L30.2,597.8Z"/>
<path fill="#90f5ad" fill-rule="evenodd" d="M178.9,496.6L189.2,496.6L189.2,680.6L77.0,680.6L76.5,666.8L76.9,662.2L77.4,659.9L79.3,655.3L84.6,646.1L87.6,641.5L89.3,639.2L91.3,636.9L94.9,634.1L97.2,632.8L99.5,631.9L104.1,631.2L117.9,630.4L122.5,629.9L129.4,628.8L134.0,627.4L136.3,626.2L138.6,624.7L145.5,619.0L147.8,616.6L150.1,613.9L151.5,611.6L152.3,609.3L152.4,607.0L151.3,600.1L151.4,597.8L152.9,584.0L153.2,577.1L153.1,567.9L153.2,565.6L153.7,563.3L155.3,558.7L157.6,554.1L159.3,551.8L165.0,544.9L166.7,542.6L167.8,540.3L168.5,537.7L169.5,526.5L170.4,521.9L171.7,517.3L173.9,510.4L178.9,496.6ZM30.3,600.1L32.8,599.4L35.1,599.2L37.4,599.5L39.7,600.1L42.0,601.2L44.3,603.0L45.5,604.7L46.5,607.0L46.9,609.3L47.1,611.6L46.9,613.9L46.5,616.2L45.6,618.5L44.2,620.8L42.0,622.9L39.7,624.3L37.4,624.9L35.1,625.1L32.8,624.8L30.5,624.2L28.2,623.3L24.7,620.8L22.6,618.5L21.1,616.2L20.0,613.9L19.6,611.6L19.9,609.3L21.3,607.0L23.2,604.7L26.0,602.4L28.2,601.1L30.3,600.1Z"/>
<path fill="#93f5a8" fill-rule="evenodd" d="M182.2,498.9L183.0,496.6L189.2,496.6L189.2,680.6L80.9,680.6L80.0,671.4L79.8,666.8L80.2,662.2L80.8,659.9L82.7,655.3L87.6,646.1L90.4,641.5L92.6,638.7L94.6,636.9L97.2,635.2L99.5,634.1L101.8,633.6L108.7,632.9L117.9,632.6L124.8,631.9L129.4,631.1L134.0,629.6L136.3,628.5L138.6,627.0L145.5,621.3L150.1,616.4L152.4,613.2L153.2,611.6L153.9,609.3L153.9,607.0L152.8,600.1L152.8,597.8L154.7,584.0L155.1,577.1L155.4,567.9L155.7,565.6L156.3,563.3L158.1,558.7L159.4,556.4L161.6,553.3L168.5,545.0L169.9,542.6L170.9,540.3L172.1,535.7L173.8,524.2L175.0,519.6L177.9,510.4L182.2,498.9ZM30.9,602.4L32.8,601.7L35.1,601.4L37.4,601.6L39.7,602.2L42.0,603.6L43.2,604.7L44.3,606.5L45.0,609.3L45.2,611.6L44.9,613.9L44.3,616.2L43.0,618.5L42.0,619.8L39.7,621.5L37.4,622.4L35.1,622.5L32.8,622.2L30.5,621.4L28.2,620.0L26.5,618.5L25.0,616.2L24.1,613.9L23.9,611.6L24.4,609.3L25.5,607.0L27.5,604.7L30.9,602.4Z"/>
<path fill="#97f5a0" fill-rule="evenodd" d="M186.2,498.9L187.1,496.6L189.2,496.6L189.2,680.6L84.8,680.6L83.1,669.1L83.1,664.5L83.5,662.2L84.9,657.6L88.2,650.7L92.0,643.8L93.6,641.5L94.9,640.0L97.2,638.1L99.1,636.9L101.8,636.0L106.4,635.3L120.2,634.6L124.8,634.2L129.4,633.3L134.0,631.8L136.3,630.7L138.6,629.2L140.9,627.5L145.5,623.5L150.1,618.7L153.6,613.9L154.8,611.6L155.4,609.3L155.4,607.0L154.4,600.1L154.4,597.8L156.7,581.7L157.5,570.2L158.2,565.6L159.3,562.2L161.0,558.7L163.9,554.6L168.5,549.1L170.8,546.0L172.8,542.6L173.8,540.3L175.1,535.7L177.0,526.5L178.7,519.6L181.8,510.4L186.2,498.9ZM32.0,604.7L32.8,604.3L35.1,603.8L37.4,603.9L39.8,604.7L42.1,607.0L42.9,609.3L43.1,611.6L42.7,613.9L41.8,616.2L39.7,618.5L37.4,619.6L35.1,619.8L32.8,619.4L31.0,618.5L28.6,616.2L27.5,613.9L27.3,611.6L27.8,609.3L29.2,607.0L30.5,605.7L32.0,604.7Z"/>
<path fill="#9cf598" fill-rule="evenodd" d="M189.1,501.2L189.2,680.6L88.7,680.6L86.4,669.1L86.2,666.8L86.3,664.5L86.6,662.2L88.1,657.6L92.6,648.5L94.9,644.7L97.2,641.9L99.5,640.1L101.1,639.2L104.1,638.3L111.0,637.4L124.8,636.6L129.4,635.7L134.0,634.0L138.6,631.4L140.9,629.7L145.8,625.4L150.3,620.8L152.4,618.2L155.2,613.9L156.3,611.6L156.8,609.3L156.9,607.0L156.0,600.1L156.2,595.5L158.5,581.7L159.7,570.2L160.6,565.6L162.6,561.0L163.9,558.7L172.8,547.2L175.5,542.6L176.4,540.3L178.0,535.7L181.0,524.2L183.1,517.3L185.5,510.4L189.1,501.2ZM34.2,607.0L35.1,606.7L37.4,606.8L39.7,608.5L40.2,609.3L40.5,611.6L39.9,613.9L39.7,614.3L37.4,616.3L35.1,616.6L33.9,616.2L32.8,615.7L31.3,613.9L30.8,611.6L31.5,609.3L32.8,607.8L34.2,607.0Z"/>
<path fill="#a1f591" fill-rule="evenodd" d="M189.2,510.4L189.2,680.6L92.8,680.6L91.9,676.0L90.3,671.5L89.6,669.1L89.3,666.8L89.4,664.5L89.8,662.2L91.5,657.6L94.9,651.0L97.2,647.3L99.5,644.6L101.8,642.8L104.1,641.7L106.4,641.0L113.3,640.0L122.5,639.4L127.1,638.8L131.7,637.3L136.3,635.0L138.6,633.6L140.9,631.9L148.1,625.4L150.1,623.3L152.4,620.5L155.4,616.2L156.8,613.9L157.8,611.6L158.3,609.3L158.4,607.0L157.7,600.1L157.7,595.5L158.4,590.9L160.3,581.7L161.9,570.2L163.1,565.6L164.0,563.3L166.2,559.6L173.9,549.5L175.5,547.2L178.0,542.6L180.8,535.7L185.0,521.9L189.2,510.4Z"/>
<path fill="#a6f589" fill-rule="evenodd" d="M189.2,519.6L189.2,680.6L96.7,680.6L96.2,676.0L95.5,673.7L93.2,669.1L92.6,666.8L92.8,664.5L93.4,662.2L95.4,657.6L99.5,650.8L101.5,648.4L104.3,646.1L108.7,644.1L111.0,643.5L115.6,642.7L122.5,642.2L127.1,641.5L129.4,640.8L131.7,639.8L136.3,637.3L140.9,634.2L150.1,625.6L154.0,620.8L157.1,616.2L158.4,613.9L159.3,611.6L159.8,609.3L159.9,607.0L159.2,597.8L159.6,593.2L162.1,581.7L163.6,572.5L164.7,567.9L166.2,564.1L167.9,561.0L176.5,549.5L178.0,547.2L180.6,542.6L183.6,535.7L189.2,519.6Z"/>
<path fill="#a9f584" fill-rule="evenodd" d="M189.0,528.8L189.2,528.3L189.2,680.6L100.3,680.6L100.0,676.0L99.5,673.7L97.7,669.1L97.0,666.8L97.1,664.5L97.7,662.2L99.5,658.5L101.8,654.9L104.1,652.1L106.4,650.1L108.7,648.6L111.0,647.5L115.6,646.0L124.8,644.8L127.1,644.3L129.4,643.5L131.7,642.5L138.6,638.3L143.2,634.7L150.3,627.7L154.2,623.1L158.8,616.2L160.0,613.9L160.9,611.6L161.3,609.3L161.4,607.0L160.8,597.8L161.2,593.2L162.1,588.6L163.9,581.7L165.6,572.5L166.9,567.9L168.5,564.4L170.5,561.0L177.7,551.5L181.9,544.9L185.4,538.0L189.0,528.8Z"/>
<path fill="#aff57c" fill-rule="evenodd" d="M189.1,535.7L189.2,680.6L103.7,680.6L103.4,676.0L102.0,666.8L102.2,664.5L102.9,662.2L103.9,659.9L106.4,656.4L108.7,654.1L110.1,653.0L113.3,651.1L117.9,649.4L124.8,647.8L129.4,646.4L134.0,644.0L138.6,641.0L143.7,636.9L152.4,628.0L156.2,623.1L160.6,616.2L161.7,613.9L162.5,611.6L162.9,609.3L163.0,607.0L162.3,597.8L162.7,593.2L163.7,588.6L165.7,581.7L167.2,574.8L168.5,569.9L170.3,565.6L171.6,563.3L174.8,558.7L180.0,551.8L183.1,547.2L185.8,542.6L189.1,535.7Z"/>
<path fill="#b4f575" fill-rule="evenodd" d="M188.4,542.6L189.2,541.2L189.2,680.6L107.0,680.6L106.6,671.4L106.8,666.8L107.4,664.5L108.4,662.2L109.9,659.9L111.0,658.6L113.3,656.5L115.6,655.0L119.7,653.0L127.1,650.3L131.7,648.3L136.3,645.5L140.9,642.2L145.5,638.2L153.1,630.0L156.7,625.4L161.1,618.5L163.5,613.9L164.2,611.6L164.5,609.3L164.6,607.0L163.9,597.8L164.4,593.2L165.4,588.6L170.6,570.2L172.7,565.6L174.1,563.3L184.2,549.5L188.4,542.6Z"/>
<path fill="#baf56d" fill-rule="evenodd" d="M188.4,547.2L189.2,545.9L189.2,680.6L110.5,680.6L110.4,673.7L111.0,669.1L111.7,666.8L112.8,664.5L114.5,662.2L116.9,659.9L120.1,657.6L129.4,652.7L134.0,650.1L138.6,647.0L143.2,643.4L147.8,639.1L154.7,631.3L157.4,627.7L161.8,620.8L164.4,616.2L165.4,613.9L166.0,611.6L166.3,609.3L166.3,607.0L165.6,600.1L165.5,597.8L166.0,593.2L167.1,588.6L172.0,572.5L173.8,567.9L176.5,563.3L185.3,551.8L188.4,547.2Z"/>
<path fill="#bef568" fill-rule="evenodd" d="M188.0,551.8L189.2,550.1L189.2,680.6L114.2,680.6L114.3,676.0L114.5,673.7L115.0,671.4L116.0,669.1L117.9,666.2L119.4,664.5L122.5,661.7L128.0,657.6L138.6,650.3L143.2,646.8L146.6,643.8L151.0,639.2L156.7,632.3L160.0,627.7L162.8,623.1L166.5,616.2L167.5,613.9L168.1,611.6L168.3,609.3L168.2,607.0L167.3,600.1L167.4,595.5L168.5,590.1L174.2,572.5L176.2,567.9L177.7,565.3L180.0,562.1L188.0,551.8Z"/>
<path fill="#c4f560" fill-rule="evenodd" d="M189.1,554.1L189.2,680.6L118.3,680.6L118.9,676.0L119.6,673.7L120.7,671.4L122.5,668.9L126.4,664.5L131.1,659.9L145.5,648.4L150.1,644.0L154.3,639.2L158.0,634.6L161.2,630.0L164.0,625.4L168.8,616.2L169.8,613.9L170.4,611.6L170.6,609.3L170.4,607.0L169.1,600.1L169.1,597.8L169.3,595.5L170.2,590.9L170.8,589.0L175.7,574.8L177.4,570.2L180.0,565.7L189.1,554.1Z"/>
<path fill="#cbf559" fill-rule="evenodd" d="M188.4,558.7L189.2,557.7L189.2,680.6L122.8,680.6L124.2,676.0L125.4,673.7L126.9,671.4L132.1,664.5L136.2,659.9L141.3,655.3L147.8,650.0L150.1,647.8L153.9,643.8L157.8,639.2L161.3,634.6L165.5,627.7L171.5,616.2L172.4,613.9L173.0,611.6L173.2,609.3L173.0,607.0L171.3,600.1L171.3,597.8L172.0,593.2L173.1,589.0L178.1,574.8L179.9,570.2L182.9,565.6L188.4,558.7Z"/>
<path fill="#d2f551" fill-rule="evenodd" d="M187.8,563.3L189.2,561.6L189.2,680.6L127.6,680.6L128.4,678.3L130.7,673.7L133.6,669.1L136.8,664.5L140.8,659.9L145.7,655.3L151.1,650.7L157.8,643.8L161.6,639.2L163.9,636.0L166.2,632.3L168.7,627.7L174.4,616.2L175.2,613.9L175.8,611.6L176.0,609.3L175.9,607.0L174.5,600.1L174.3,597.8L174.7,593.2L175.4,590.4L180.0,576.7L181.6,572.5L182.7,570.2L184.2,567.9L187.8,563.3Z"/>
<path fill="#d8f549" fill-rule="evenodd" d="M187.5,567.9L189.2,565.7L189.2,680.6L132.3,680.6L134.3,676.0L136.7,671.4L139.6,666.8L143.1,662.2L147.5,657.6L152.7,653.0L157.5,648.4L161.8,643.8L165.6,639.2L168.5,634.6L175.5,620.8L177.5,616.2L178.3,613.9L179.1,609.3L179.1,604.7L178.2,595.5L178.6,590.9L180.5,584.0L183.6,574.8L184.6,572.5L187.5,567.9Z"/>
</g>
<path d="M58.6,496.6L56.8,508.1L55.0,517.3L54.2,524.2L53.6,526.5L49.7,538.0L47.3,547.2L46.2,549.5L43.3,554.1L40.9,558.7L40.1,561.0L39.8,563.3L39.9,565.6L40.9,567.9L43.0,570.2L44.3,571.1L46.6,572.2L48.9,572.8L53.5,573.5L62.7,577.0L65.0,577.6L67.3,577.8L69.6,577.4L71.9,576.4L74.2,574.0L75.2,572.5L76.2,570.2L77.8,565.6L78.1,563.3L78.4,556.4L79.6,549.5L80.7,544.9L81.6,542.6L86.3,533.4L88.0,530.8L94.9,523.0L97.2,521.1L102.3,517.3L104.6,515.0L106.1,512.7L108.7,507.2L112.1,501.2L114.4,496.6M43.8,496.6L45.4,508.1L45.8,512.7L45.9,517.3L45.8,519.6L45.1,524.2L43.0,533.4L41.6,538.0L40.7,540.3L35.6,551.8L34.1,554.1L32.2,556.4L29.4,558.7L28.2,560.0L26.2,563.3L25.2,565.6L24.5,567.9L24.5,570.2L25.4,572.5L25.9,573.3L28.2,575.7L30.5,577.1L34.9,579.4L42.0,582.6L48.9,584.9L52.2,586.3L53.5,587.0L55.7,588.6L57.9,590.9L59.6,593.2L60.8,595.5L61.7,597.8L62.4,600.1L64.2,609.3L65.6,613.9L67.3,617.4L69.6,618.7L71.9,618.6L74.2,617.8L83.4,614.1L92.6,609.2L94.9,608.2L101.8,606.2L108.7,604.6L113.3,603.1L119.0,600.1L123.9,597.8L124.8,597.2L126.6,595.5L127.1,594.6L127.8,593.2L128.3,590.9L128.5,586.3L128.4,584.0L127.9,581.7L127.1,578.8L126.3,577.1L124.8,574.6L122.1,572.5L120.2,571.9L117.9,572.2L115.6,573.2L108.7,577.8L105.9,579.4L104.1,579.9L101.8,580.0L99.5,579.7L97.2,579.0L94.7,577.1L93.4,574.8L92.6,572.5L92.2,570.2L91.8,565.6L91.9,561.0L93.1,554.1L94.3,549.5L95.2,547.2L97.2,544.0L99.5,541.7L101.8,540.3L104.1,539.3L108.7,537.8L111.0,536.6L115.6,533.8L120.2,530.5L122.5,528.5L129.7,519.6L131.7,516.8L132.7,515.0L134.0,512.5L136.0,508.1L138.6,496.6M23.5,496.6L26.4,505.8L27.9,512.7L28.2,515.0L28.5,519.6L27.8,531.1L27.9,533.4L28.9,535.7L31.0,538.0L30.7,540.3L29.1,544.9L27.3,551.8L26.3,554.1L21.3,557.8L20.4,558.7L18.8,561.0L17.6,563.3L15.7,567.9L15.2,570.2L14.7,577.1L13.9,584.0L13.8,586.3L14.3,588.6L16.7,590.5L19.0,590.5L28.2,589.2L32.8,589.3L35.1,589.6L37.4,590.2L42.0,591.9L44.3,593.1L46.6,594.5L48.9,596.3L50.5,597.8L52.2,600.1L53.3,602.4L54.6,607.0L55.3,611.6L55.6,616.2L55.4,620.8L55.2,623.1L54.7,625.4L53.9,627.7L52.7,630.0L51.1,632.3L48.9,634.6L46.6,636.4L44.3,637.6L42.0,638.2L37.4,638.5L32.8,638.3L25.9,637.2L16.7,635.5L12.1,634.8L9.8,634.6L5.2,634.7M50.8,680.6L51.8,676.0L52.4,671.4L52.6,662.2L52.8,659.9L53.9,655.3L54.9,653.0L56.4,650.7L58.1,649.3L59.4,648.4L62.7,646.7L65.0,645.0L67.3,642.6L70.1,639.2L71.9,637.6L74.2,636.0L83.4,630.7L88.0,626.8L90.3,625.6L104.1,622.0L113.3,620.8L120.2,619.4L122.5,618.7L127.1,616.6L131.7,614.2L136.3,612.2L138.6,610.9L140.9,609.2L143.2,606.1L144.5,602.4L144.9,600.1L143.3,588.6L143.2,586.3L143.6,581.7L143.6,579.4L141.7,570.2L141.2,565.6L141.3,561.0L142.0,554.1L143.3,547.2L143.9,544.9L144.8,542.6L146.0,540.3L150.1,534.0L152.4,529.9L153.5,526.5L153.6,524.2L152.9,517.3L153.0,512.7L154.0,508.1L157.7,496.6M29.6,600.1L32.8,599.1L35.1,599.0L37.4,599.2L39.7,599.9L42.0,601.0L44.1,602.4L45.8,604.7L46.7,607.0L47.1,609.3L47.3,611.6L47.1,613.9L46.7,616.2L45.9,618.5L44.3,621.1L42.0,623.3L39.7,624.6L37.4,625.2L35.1,625.4L32.8,625.1L30.5,624.5L28.2,623.6L25.9,622.2L23.6,620.2L22.1,618.5L20.6,616.2L19.5,613.9L18.9,611.6L19.1,609.3L20.4,607.0L22.5,604.7L25.4,602.4L29.6,600.1M76.5,680.6L76.1,666.8L76.4,662.2L77.0,659.9L78.8,655.3L84.2,646.1L87.2,641.5L90.9,636.9L94.9,633.9L97.2,632.5L99.5,631.7L104.1,631.0L117.9,630.2L122.5,629.6L129.4,628.5L134.0,627.1L136.3,625.9L138.6,624.4L145.5,618.7L147.8,616.3L149.8,613.9L151.3,611.6L152.1,609.3L152.2,607.0L151.2,600.1L151.2,597.8L152.7,584.0L153.0,577.1L152.8,567.9L152.9,565.6L153.4,563.3L154.9,558.7L157.2,554.1L159.3,551.2L164.6,544.9L166.2,542.6L167.4,540.3L168.0,538.0L168.3,535.7L169.0,526.5L169.9,521.9L173.4,510.4L178.3,496.6M98.3,680.6L97.9,676.0L97.4,673.7L94.9,668.6L94.4,666.8L94.5,664.5L95.1,662.2L97.2,657.8L99.5,654.1L102.0,650.7L104.1,648.7L106.4,647.2L108.5,646.1L111.0,645.2L115.6,644.0L124.8,643.2L127.1,642.7L129.4,642.0L131.7,641.0L136.3,638.4L140.9,635.2L143.2,633.3L150.1,626.6L153.1,623.1L157.8,616.2L159.1,613.9L160.0,611.6L160.5,609.3L160.6,607.0L159.9,597.8L160.3,593.2L161.2,588.6L162.9,581.7L164.5,572.5L165.7,567.9L166.6,565.6L169.1,561.0L177.7,549.5L179.2,547.2L181.7,542.6L184.8,535.7L189.2,523.5M121.5,680.6L122.5,676.7L123.8,673.7L125.2,671.4L130.6,664.5L134.9,659.9L140.1,655.3L147.8,649.0L152.4,644.3L156.8,639.2L159.3,636.0L161.9,632.3L164.7,627.7L170.7,616.2L171.6,613.9L172.3,611.6L172.5,609.3L172.2,607.0L170.6,600.1L170.6,597.8L171.3,593.2L172.6,588.6L177.7,573.9L179.2,570.2L180.5,567.9L182.3,565.3L189.2,556.7" fill="none" stroke="#1a1a1a" stroke-width="0.55" stroke-opacity="0.8"/>
</g>
<path d="M174.6,573.5 L176.5,571.2 L178.7,570.2 L180.8,571.0 L182.0,573.0 L182.6,577.6 L182.8,581.6 L182.5,585.6 L182.2,588.4 L182.8,592.1 L183.4,596.4 L183.6,599.6 L183.5,602.4 L182.8,605.9 L181.5,608.4 L180.0,609.8 L178.5,610.2 L176.2,609.4 L174.2,608.2" fill="none" stroke="#000" stroke-width="1.25" stroke-linejoin="round" stroke-linecap="round"/>
<path d="M19.8,573.5 L17.9,571.2 L15.7,570.2 L13.6,571.0 L12.4,573.0 L11.8,577.6 L11.6,581.6 L11.9,585.6 L12.2,588.4 L11.6,592.1 L11.0,596.4 L10.8,599.6 L10.9,602.4 L11.6,605.9 L12.9,608.4 L14.4,609.8 L15.9,610.2 L18.2,609.4 L20.2,608.2" fill="none" stroke="#000" stroke-width="1.25" stroke-linejoin="round" stroke-linecap="round"/>
<path d="M83.2,511.0 L94.5,498.3 M100.3,498.3 L111.2,511.0" fill="none" stroke="#000" stroke-width="1.3" stroke-linecap="round"/>
<circle cx="97.2" cy="588.6" r="78.5" fill="none" stroke="#000" stroke-width="1.3"/>
<circle cx="71.6" cy="510.9" r="0.85" fill="#000" fill-opacity="0.85"/>
<circle cx="122.8" cy="510.9" r="0.85" fill="#000" fill-opacity="0.85"/>
<circle cx="29.2" cy="539.9" r="0.85" fill="#000" fill-opacity="0.85"/>
<circle cx="165.2" cy="539.9" r="0.85" fill="#000" fill-opacity="0.85"/>
<circle cx="62.2" cy="547.2" r="0.85" fill="#000" fill-opacity="0.85"/>
<circle cx="97.2" cy="549.2" r="0.85" fill="#000" fill-opacity="0.85"/>
<circle cx="132.8" cy="547.2" r="0.85" fill="#000" fill-opacity="0.85"/>
<circle cx="37.1" cy="566.1" r="0.85" fill="#000" fill-opacity="0.85"/>
<circle cx="76.8" cy="568.2" r="0.85" fill="#000" fill-opacity="0.85"/>
<circle cx="118.2" cy="568.2" r="0.85" fill="#000" fill-opacity="0.85"/>
<circle cx="158.2" cy="566.1" r="0.85" fill="#000" fill-opacity="0.85"/>
<circle cx="97.2" cy="574.0" r="0.85" fill="#000" fill-opacity="0.85"/>
<circle cx="54.6" cy="588.6" r="0.85" fill="#000" fill-opacity="0.85"/>
<circle cx="97.2" cy="588.6" r="0.85" fill="#000" fill-opacity="0.85"/>
<circle cx="140.1" cy="588.6" r="0.85" fill="#000" fill-opacity="0.85"/>
<circle cx="37.1" cy="611.1" r="0.85" fill="#000" fill-opacity="0.85"/>
<circle cx="76.8" cy="608.5" r="0.85" fill="#000" fill-opacity="0.85"/>
<circle cx="118.2" cy="608.5" r="0.85" fill="#000" fill-opacity="0.85"/>
<circle cx="158.2" cy="611.1" r="0.85" fill="#000" fill-opacity="0.85"/>
<circle cx="29.2" cy="637.7" r="0.85" fill="#000" fill-opacity="0.85"/>
<circle cx="165.2" cy="637.7" r="0.85" fill="#000" fill-opacity="0.85"/>
<circle cx="62.0" cy="629.8" r="1.7" fill="#000"/>
<circle cx="96.4" cy="629.0" r="1.7" fill="#000"/>
<circle cx="131.1" cy="629.8" r="1.7" fill="#000"/>
<circle cx="72.9" cy="664.9" r="1.7" fill="#000"/>
<circle cx="121.7" cy="664.9" r="1.7" fill="#000"/>
<defs><clipPath id="clip2"><ellipse cx="292.5" cy="588.8" rx="86.6" ry="84.8"/></clipPath></defs>
<ellipse cx="292.5" cy="588.8" rx="88.19999999999999" ry="86.39999999999999" fill="#e9ebf8"/>
<g clip-path="url(#clip2)">
<g filter="url(#tblur)">
<rect x="197.5" y="492.79999999999995" width="190" height="190" fill="#86f5c1"/>
<path fill="#89f5b9" fill-rule="evenodd" d="M200.5,495.8L352.3,495.8L351.1,509.6L351.2,516.5L352.3,523.4L354.7,530.3L356.0,532.6L359.2,536.8L362.3,541.8L364.2,544.1L367.8,546.4L375.3,550.8L384.5,555.1L384.5,679.8L200.5,679.8L200.5,495.8Z"/>
<path fill="#8df5b2" fill-rule="evenodd" d="M200.5,495.8L350.8,495.8L349.6,509.6L349.5,514.2L349.7,516.5L349.9,518.8L350.9,523.4L352.3,528.1L354.2,532.6L355.8,534.9L357.7,537.2L360.8,541.8L362.7,544.1L363.8,545.1L366.1,546.7L375.3,552.2L384.5,556.6L384.5,679.8L200.5,679.8L200.5,495.8Z"/>
<path fill="#90f5ad" fill-rule="evenodd" d="M200.5,495.8L349.3,495.8L348.2,509.6L348.1,514.2L348.2,516.5L348.5,518.8L349.5,523.4L351.5,530.3L352.4,532.6L353.8,534.9L356.9,538.4L361.2,544.1L363.8,546.4L375.3,553.6L384.5,558.1L384.5,679.8L200.5,679.8L200.5,495.8Z"/>
<path fill="#94f5a5" fill-rule="evenodd" d="M200.5,495.8L347.9,495.8L346.7,511.9L346.8,516.5L347.6,521.1L350.0,530.3L350.8,532.6L351.9,534.9L353.7,537.2L356.9,540.5L359.8,544.1L362.3,546.4L373.0,553.6L377.6,556.3L384.5,559.6L384.5,679.8L200.5,679.8L200.5,495.8Z"/>
<path fill="#99f59d" fill-rule="evenodd" d="M200.5,495.8L346.5,495.8L345.4,511.9L345.4,516.5L346.2,521.1L349.3,532.6L350.2,534.9L351.8,537.2L354.6,540.0L358.4,544.1L361.5,547.0L373.0,555.0L377.6,557.7L384.5,561.1L384.5,679.8L200.5,679.8L200.5,495.8Z"/>
<path fill="#9cf598" fill-rule="evenodd" d="M200.5,495.8L345.2,495.8L344.1,511.9L344.0,516.5L344.8,521.1L347.9,532.6L348.8,534.9L350.0,537.1L359.3,546.4L361.5,548.2L373.0,556.3L377.6,559.1L384.5,562.5L384.5,679.8L200.5,679.8L200.5,665.2L201.3,659.1L201.6,652.2L201.4,647.6L200.5,641.9L200.5,495.8Z"/>
<path fill="#a1f591" fill-rule="evenodd" d="M200.5,495.8L343.8,495.8L343.5,502.7L342.7,514.2L342.9,518.8L346.6,532.6L347.4,534.9L348.7,537.2L350.6,539.5L357.9,546.4L361.5,549.3L368.4,554.5L375.3,559.1L384.5,564.0L384.5,679.8L203.4,679.8L206.7,659.1L207.1,652.2L206.8,647.6L206.0,643.0L202.2,629.2L201.4,624.6L200.8,617.7L200.8,613.1L201.3,601.6L201.0,594.7L200.5,589.7L200.5,495.8Z"/>
<path fill="#a6f589" fill-rule="evenodd" d="M200.5,495.8L342.5,495.8L342.3,502.7L341.4,514.2L341.4,516.5L341.6,518.8L345.3,532.6L346.1,534.9L347.3,537.2L350.0,540.5L356.5,546.4L366.1,554.0L370.7,557.4L375.3,560.5L384.5,565.5L384.5,679.8L208.1,679.8L209.2,672.9L212.1,659.1L212.6,654.5L212.7,652.2L212.3,647.6L211.2,643.0L209.7,638.4L207.4,632.7L206.2,629.2L204.8,622.3L204.2,615.4L204.2,610.8L204.7,601.6L204.3,594.7L203.1,585.5L201.8,580.9L200.5,577.6L200.5,495.8Z"/>
<path fill="#a9f584" fill-rule="evenodd" d="M200.5,495.8L341.2,495.8L341.1,502.7L340.2,514.2L340.1,516.5L340.3,518.8L340.8,521.1L344.0,532.6L344.9,534.9L346.1,537.2L347.6,539.5L349.8,541.8L357.8,548.7L366.1,555.3L373.0,560.4L375.3,561.9L384.5,567.0L384.5,679.8L212.7,679.8L213.9,672.9L217.4,659.1L218.1,654.5L218.2,652.2L217.6,647.6L216.3,643.0L214.3,637.7L209.7,627.1L208.3,622.3L207.8,620.0L207.4,615.4L207.5,610.8L207.9,606.2L207.9,601.6L207.4,595.8L206.2,585.5L205.1,580.9L202.1,574.0L200.5,569.9L200.5,495.8Z"/>
<path fill="#aff57c" fill-rule="evenodd" d="M200.5,495.8L339.9,495.8L339.8,505.0L338.9,516.5L339.1,518.8L342.8,532.6L344.8,537.2L346.3,539.5L348.3,541.8L353.7,546.4L365.0,555.6L373.0,561.8L377.6,564.6L384.5,568.6L384.5,679.8L217.1,679.8L217.8,675.2L218.9,670.6L223.2,656.8L223.6,654.5L223.7,652.2L223.5,649.9L222.9,647.6L222.0,645.3L215.8,631.5L212.4,624.6L211.5,622.3L210.9,620.0L210.4,615.4L210.4,613.1L211.1,606.2L211.0,603.9L208.5,583.2L208.0,580.9L207.4,579.3L204.0,571.7L200.5,560.4L200.5,495.8Z"/>
<path fill="#b4f575" fill-rule="evenodd" d="M200.5,495.8L338.7,495.8L338.7,502.7L337.8,516.5L338.0,518.8L338.5,521.4L341.6,532.6L343.6,537.2L345.1,539.5L346.9,541.8L349.4,544.1L370.7,561.4L375.3,564.6L384.5,570.2L384.5,679.8L221.3,679.8L222.5,672.9L223.9,668.3L225.7,663.7L229.9,654.5L230.3,652.2L229.7,649.9L223.5,640.0L221.5,636.1L218.3,629.2L214.4,622.3L213.6,620.0L213.2,617.7L213.0,615.4L213.2,613.1L214.0,606.2L213.8,603.9L210.6,580.9L209.8,578.6L207.5,574.0L205.8,569.4L200.5,550.0L200.5,495.8Z"/>
<path fill="#baf56d" fill-rule="evenodd" d="M200.5,495.8L337.4,495.8L337.6,505.0L336.8,516.5L336.9,518.8L337.9,523.4L340.4,532.6L342.5,537.2L343.8,539.5L345.6,541.8L348.0,544.1L359.5,553.3L370.7,562.7L375.3,566.0L384.5,571.8L384.5,679.8L225.3,679.8L225.6,677.5L226.4,672.9L227.9,668.3L229.9,663.7L235.0,655.0L235.6,652.2L235.0,649.8L229.2,643.0L225.9,638.4L223.5,634.1L219.9,626.9L217.0,622.3L216.0,620.0L215.5,617.7L215.4,615.4L216.4,606.2L212.8,580.9L212.0,578.2L209.2,571.7L208.4,569.4L203.2,548.7L200.5,536.4L200.5,495.8Z"/>
<path fill="#bef568" fill-rule="evenodd" d="M200.5,495.8L336.1,495.8L336.4,505.0L335.8,516.5L335.9,518.8L336.9,523.4L339.4,532.6L340.8,536.1L342.6,539.5L344.3,541.8L346.5,544.1L350.0,547.0L358.2,553.3L370.7,564.1L375.3,567.5L384.5,573.5L384.5,679.8L229.3,679.8L229.7,675.2L230.8,670.6L232.5,666.0L237.7,656.8L238.4,654.5L238.4,652.2L237.7,649.9L236.3,647.6L230.6,640.7L227.4,636.1L222.3,626.9L219.3,622.3L218.2,620.0L217.7,617.7L217.6,615.4L218.3,608.5L218.4,606.2L218.2,603.9L215.2,583.2L214.3,578.6L211.7,571.7L210.3,567.1L206.6,551.0L204.8,541.8L200.5,516.7L200.5,495.8Z"/>
<path fill="#c4f560" fill-rule="evenodd" d="M201.1,495.8L334.8,495.8L335.3,505.0L334.8,516.5L334.9,518.8L335.3,521.1L338.3,532.6L340.2,537.2L341.4,539.5L343.1,541.9L345.2,544.1L347.7,546.3L359.2,555.3L373.0,567.3L377.6,570.7L384.5,575.4L384.5,679.8L233.1,679.8L233.4,675.2L234.2,670.6L235.9,666.0L239.8,659.1L240.8,656.8L241.1,654.5L240.8,652.2L239.9,649.9L238.6,647.6L231.5,638.4L230.0,636.1L224.6,626.9L221.5,622.3L220.2,620.0L219.7,617.7L219.7,615.4L220.2,608.5L220.1,603.9L217.2,583.2L216.3,578.6L213.5,569.4L212.3,564.8L208.9,548.7L204.7,518.8L201.1,495.8Z"/>
<path fill="#cbf559" fill-rule="evenodd" d="M205.4,495.8L333.5,495.8L334.3,505.0L334.3,509.6L333.9,516.5L334.0,518.8L334.3,521.1L337.2,532.6L338.5,536.0L340.2,539.5L341.8,541.8L343.1,543.4L346.3,546.4L358.3,555.6L363.7,560.2L370.7,566.9L375.3,570.7L384.5,577.3L384.5,679.8L237.0,679.8L237.0,675.2L237.2,672.9L238.2,668.3L239.1,666.0L240.2,663.7L243.1,659.1L243.9,656.8L243.8,654.5L243.1,652.2L242.0,649.9L239.6,646.0L232.3,636.1L227.0,626.9L222.5,620.0L221.9,617.7L221.8,615.4L222.1,606.2L221.7,601.6L220.5,592.4L219.2,583.2L218.4,578.6L214.7,564.8L212.0,551.0L210.8,541.8L208.5,518.8L205.4,495.8Z"/>
<path fill="#cff553" fill-rule="evenodd" d="M209.7,495.8L332.2,495.8L333.2,505.0L333.2,509.6L333.0,516.5L333.3,521.1L335.5,530.3L336.9,534.9L339.0,539.5L340.5,541.8L342.4,544.1L345.4,546.9L350.0,550.5L356.9,555.5L362.4,560.2L364.9,562.5L370.7,568.5L375.3,572.6L384.5,579.3L384.5,679.8L241.2,679.8L240.9,677.5L240.9,672.9L241.6,668.3L242.3,666.0L243.7,663.7L245.9,661.4L247.5,659.1L247.5,656.8L246.6,654.5L244.1,649.9L235.9,638.4L233.0,633.8L228.1,624.7L225.2,620.0L224.4,617.7L224.1,615.4L223.7,603.9L221.9,587.8L220.0,576.3L216.6,562.5L215.7,557.9L214.3,548.7L212.5,521.1L209.7,495.8Z"/>
<path fill="#d6f54c" fill-rule="evenodd" d="M213.9,495.8L330.9,495.8L331.6,500.4L332.1,505.0L332.2,509.6L332.1,518.8L332.7,523.4L334.4,530.3L335.8,534.9L337.8,539.5L339.1,541.8L340.9,544.1L345.4,548.2L349.0,551.0L355.6,555.6L363.6,562.5L370.7,570.3L375.3,574.6L384.5,581.5L384.5,679.8L245.9,679.8L245.3,675.2L245.3,672.9L245.6,670.6L246.2,668.3L246.5,667.6L248.1,666.0L251.1,664.4L252.1,663.7L253.4,662.4L253.9,661.4L253.6,659.1L248.8,653.7L241.0,643.0L236.4,636.1L233.8,631.5L228.2,620.0L227.2,617.7L226.5,615.4L226.2,613.1L224.9,597.0L223.8,587.8L221.7,574.0L218.2,557.9L217.1,548.7L216.8,544.1L216.2,521.1L213.9,495.8Z"/>
<path fill="#ddf544" fill-rule="evenodd" d="M218.0,495.8L329.6,495.8L330.7,502.7L331.1,507.3L331.3,511.9L331.1,518.8L331.6,523.4L334.7,534.9L336.2,538.8L337.7,541.8L339.4,544.1L341.6,546.4L347.3,551.0L354.6,556.0L362.3,562.5L370.7,572.5L373.0,574.9L375.3,576.9L384.5,584.0L384.5,679.8L251.2,679.8L250.8,677.5L250.8,675.2L251.2,672.9L252.3,670.6L255.7,666.3L257.0,663.7L257.5,661.4L257.1,659.1L255.0,656.8L251.1,653.5L248.8,651.0L242.7,643.0L238.2,636.1L235.7,631.5L233.6,626.9L229.0,615.4L228.4,613.1L225.9,587.8L223.3,569.4L220.9,557.9L219.7,546.4L219.6,541.8L219.9,528.0L219.8,521.1L218.0,495.8Z"/>
<path fill="#e2f53f" fill-rule="evenodd" d="M222.1,495.8L328.2,495.8L329.3,501.5L330.0,507.3L330.2,511.9L330.1,518.8L330.5,523.4L333.5,534.9L335.2,539.5L336.3,541.8L337.8,544.1L340.8,547.3L347.7,552.7L352.3,555.6L354.6,557.3L360.8,562.5L362.9,564.8L368.4,572.4L371.7,576.3L375.3,579.6L382.2,584.8L384.5,587.0L384.5,679.8L256.7,679.8L256.0,677.5L255.9,675.2L256.3,672.9L259.0,666.0L259.5,663.7L259.5,661.4L258.9,659.1L257.3,656.8L251.1,651.4L247.7,647.6L244.3,643.0L241.3,638.4L238.7,633.8L235.6,626.9L231.2,615.4L230.1,610.8L228.5,592.4L226.8,578.6L225.8,568.0L223.8,555.6L222.7,546.4L222.6,541.8L223.3,530.3L223.5,523.4L223.2,514.2L222.1,495.8Z"/>
<path fill="#e9f537" fill-rule="evenodd" d="M226.2,495.8L326.7,495.8L328.2,502.7L328.9,507.3L329.2,511.9L329.1,521.1L329.8,525.7L333.0,537.2L334.8,541.8L336.1,544.1L337.9,546.4L340.8,549.0L345.4,552.5L353.7,557.9L359.3,562.5L361.4,564.8L366.1,572.6L370.7,578.7L373.0,581.0L379.9,585.9L382.0,587.8L384.5,591.2L384.5,679.8L262.6,679.8L261.0,677.5L260.3,675.2L260.2,672.9L261.5,666.0L261.5,663.7L261.1,661.4L260.4,659.1L258.9,656.8L258.0,655.8L253.4,651.8L248.8,647.0L245.7,643.0L242.9,638.4L240.4,633.8L237.4,626.9L233.3,615.4L232.1,610.8L231.6,606.2L230.6,592.4L229.1,578.6L228.2,560.2L226.4,548.7L226.0,544.1L226.1,539.5L226.9,528.0L227.1,523.4L226.2,495.8Z"/>
<path fill="#f1f530" fill-rule="evenodd" d="M230.2,495.8L325.2,495.8L327.0,502.7L327.7,507.3L328.1,511.9L328.0,521.1L328.6,525.7L332.4,539.5L333.2,541.8L334.2,544.1L335.8,546.4L338.5,549.1L344.2,553.3L352.3,558.3L356.9,561.9L359.2,564.1L361.3,567.1L363.8,572.8L368.4,580.8L370.7,584.1L373.0,585.8L377.6,588.0L379.9,590.0L381.2,592.4L382.2,594.7L383.4,599.3L384.5,602.4L384.5,677.7L381.5,679.8L280.6,679.8L269.5,677.8L267.2,676.9L264.9,675.0L263.9,672.9L263.8,670.6L263.9,666.0L263.5,663.7L262.7,661.4L261.6,659.1L260.1,656.8L258.0,654.4L253.1,649.9L248.8,645.3L245.7,640.7L243.2,636.1L240.1,629.2L235.2,615.4L234.6,613.1L233.9,608.5L232.9,592.4L231.5,576.3L231.3,569.4L231.7,560.2L231.6,557.9L229.9,548.7L229.5,544.1L229.5,539.5L230.4,528.0L230.5,523.4L230.2,495.8Z"/>
<path fill="#f9ec28" fill-rule="evenodd" d="M234.2,495.8L323.7,495.8L325.6,502.7L326.8,509.6L326.9,514.2L326.8,521.1L327.3,525.7L329.9,534.9L331.5,541.8L332.3,544.1L333.6,546.4L335.6,548.7L338.3,551.0L343.1,554.4L352.3,559.8L355.7,562.5L358.1,564.8L359.8,567.1L360.8,569.4L361.5,572.1L363.3,576.3L364.8,580.9L365.1,583.2L364.8,585.5L363.8,587.8L362.4,590.1L360.6,592.4L353.4,599.3L351.8,601.6L351.1,603.9L351.2,606.2L352.3,608.3L354.6,610.2L356.9,611.2L359.2,611.5L361.5,611.5L365.2,610.8L370.7,608.9L373.0,608.2L375.3,607.9L377.6,608.3L379.9,609.4L382.2,611.3L384.5,613.7L384.5,673.3L379.9,676.9L374.9,679.8L310.9,679.8L304.0,678.1L301.7,677.8L299.4,677.8L294.8,678.7L292.5,678.9L290.2,678.7L287.9,678.1L281.0,675.5L272.6,672.9L269.5,671.3L268.9,670.6L267.2,667.7L266.6,666.0L264.3,661.4L261.2,656.8L258.0,653.1L251.1,646.3L248.5,643.0L247.1,640.7L243.7,633.8L241.8,629.2L237.2,615.4L236.6,613.1L236.1,608.5L235.5,594.7L234.0,576.3L234.0,569.4L234.8,560.2L234.9,557.9L233.2,548.7L232.9,544.1L232.9,539.5L233.6,528.0L233.9,521.1L234.2,495.8Z"/>
<path fill="#fee527" fill-rule="evenodd" d="M238.1,495.8L322.0,495.8L324.7,504.8L325.5,509.6L325.7,514.2L325.5,521.1L326.0,525.7L326.5,528.0L328.7,534.9L330.3,544.1L331.3,546.4L332.9,548.7L336.2,551.8L342.0,555.6L350.4,560.2L353.7,562.5L356.3,564.8L358.1,567.1L359.2,569.4L361.1,576.3L361.6,578.6L361.8,580.9L361.5,583.2L360.7,585.5L359.4,587.8L357.6,590.1L350.7,597.0L348.9,599.3L347.6,601.6L347.1,603.9L347.3,606.2L348.1,608.5L350.0,611.0L352.3,612.8L354.6,613.8L356.9,614.5L359.2,614.8L361.5,614.9L363.8,614.8L370.7,613.7L373.0,613.6L375.3,614.0L377.6,614.9L379.9,616.3L382.2,618.0L384.5,620.2L384.5,668.8L379.9,672.9L376.5,675.2L373.0,677.2L367.0,679.8L323.3,679.8L313.2,678.0L301.7,675.0L299.4,674.9L292.5,676.2L290.2,675.7L285.6,673.4L278.7,671.2L276.4,670.2L271.8,667.4L269.5,665.4L267.2,662.8L264.3,659.1L258.0,651.7L253.4,647.2L251.1,644.7L249.8,643.0L247.3,638.4L244.3,631.5L242.8,626.9L239.4,615.4L238.6,610.8L238.0,594.7L236.6,576.3L236.6,569.4L237.3,557.9L236.3,548.7L236.0,544.1L236.2,537.2L237.7,511.9L238.1,495.8Z"/>
<path fill="#ffdb26" fill-rule="evenodd" d="M242.1,495.8L320.3,495.8L322.4,501.9L323.8,507.3L324.4,511.9L324.2,521.1L324.6,525.7L325.0,528.0L327.4,534.9L327.9,537.2L328.3,544.1L329.3,547.1L330.2,548.7L331.6,550.5L334.7,553.3L340.8,557.0L350.0,561.8L354.2,564.8L356.3,567.1L356.9,568.0L357.6,569.4L358.3,571.7L359.2,576.3L359.3,578.6L359.1,580.9L358.5,583.2L357.3,585.5L355.7,587.8L353.6,590.1L347.7,595.9L345.1,599.3L344.1,601.6L343.8,603.9L344.0,606.2L344.8,608.5L346.2,610.8L347.7,612.4L350.0,614.2L352.3,615.5L354.6,616.3L356.9,616.9L359.2,617.2L363.8,617.5L370.7,616.9L373.0,617.2L375.3,618.2L379.9,621.1L382.2,622.9L384.5,625.2L384.5,664.0L382.2,666.7L377.8,670.6L373.0,673.7L368.4,676.0L361.5,678.5L356.6,679.8L333.6,679.8L324.2,677.5L315.5,676.2L310.9,675.4L301.7,672.7L299.4,672.5L294.8,673.3L292.5,673.4L290.2,672.6L287.9,671.3L286.1,670.6L281.0,669.5L278.7,668.5L276.4,667.1L269.5,662.4L267.2,660.3L262.6,655.7L258.0,650.2L253.0,645.3L251.2,643.0L249.8,640.7L247.7,636.1L245.2,629.2L241.6,615.4L241.0,610.8L240.8,597.0L239.2,576.3L239.2,571.7L239.5,557.9L239.0,544.1L239.7,528.0L241.3,511.9L242.1,495.8ZM292.5,569.3L291.0,571.7L292.5,573.9L295.0,574.0L296.8,571.7L295.2,569.4L294.8,569.2L292.5,569.3Z"/>
<path fill="#ffd124" fill-rule="evenodd" d="M246.0,495.8L318.4,495.8L321.0,502.7L322.2,507.3L322.7,509.6L322.9,511.9L322.8,521.1L323.1,525.7L323.6,528.0L326.2,534.9L326.6,537.2L326.6,539.5L326.3,544.1L326.7,546.4L327.6,548.7L329.0,551.0L331.1,553.3L333.9,555.4L340.8,559.2L347.7,562.4L352.3,565.4L354.6,567.6L355.8,569.4L356.6,571.7L357.2,576.3L357.1,578.6L356.6,580.9L355.6,583.2L354.1,585.5L352.3,587.7L345.0,594.7L343.0,597.0L341.4,599.3L340.6,601.6L340.5,603.9L340.9,606.2L341.8,608.5L343.1,610.8L345.4,613.3L348.1,615.4L352.8,617.7L354.6,618.3L359.2,619.1L366.1,619.7L370.7,619.6L373.0,620.4L377.6,623.2L379.9,624.9L382.2,627.1L384.5,630.1L384.5,658.7L382.7,661.4L380.9,663.7L378.7,666.0L375.3,668.8L372.6,670.6L368.4,672.9L361.5,675.6L356.9,677.0L352.3,678.0L345.4,678.8L340.8,678.7L336.2,678.1L324.7,675.2L322.4,674.8L315.5,674.2L310.9,673.5L301.7,670.9L299.6,670.6L294.8,671.1L292.5,670.9L287.9,669.0L283.3,668.2L281.0,667.5L278.7,666.3L275.1,663.7L269.5,660.2L264.9,656.5L262.8,654.5L260.3,651.3L252.6,643.0L251.2,640.7L249.1,636.1L246.8,629.2L244.3,617.7L243.5,610.8L243.7,597.0L241.9,574.0L241.7,557.9L241.9,544.1L242.6,528.0L243.1,523.4L245.0,511.9L246.0,495.8ZM292.5,566.6L290.2,567.5L288.3,569.4L287.8,571.7L288.7,574.0L290.2,575.4L292.5,576.5L294.8,576.6L297.1,575.9L299.4,574.0L300.2,571.7L299.6,569.4L297.1,567.3L296.7,567.1L294.8,566.5L292.5,566.6Z"/>
<path fill="#ffcb23" fill-rule="evenodd" d="M249.9,495.8L316.4,495.8L319.2,502.7L320.1,505.6L321.0,509.6L321.3,514.2L321.2,521.1L321.6,525.7L322.1,528.0L324.9,534.9L325.3,537.2L325.2,539.5L324.4,544.1L324.5,546.4L325.0,548.7L326.0,551.0L327.6,553.3L329.3,555.0L331.6,556.8L338.1,560.2L347.7,564.5L350.0,566.0L351.4,567.1L353.5,569.4L354.6,571.7L355.0,574.0L355.0,576.3L354.7,578.6L353.9,580.9L352.6,583.2L350.0,586.5L341.2,594.7L339.1,597.0L337.7,599.3L337.0,601.6L337.0,603.9L337.7,606.2L338.8,608.5L340.3,610.8L342.3,613.1L345.0,615.4L348.9,617.7L354.6,620.0L356.9,620.5L368.4,621.7L370.7,622.1L373.0,623.1L375.3,624.6L378.4,626.9L380.6,629.2L382.2,631.5L383.5,633.8L384.4,636.1L384.5,636.6L384.5,651.3L384.3,652.2L382.2,656.8L379.9,660.4L376.9,663.7L373.0,667.0L370.7,668.5L366.1,670.9L359.2,673.6L354.6,675.0L350.0,675.9L345.4,676.5L343.1,676.6L338.5,676.3L336.2,675.9L324.7,672.9L322.4,672.6L313.2,672.2L308.6,671.3L301.7,669.6L299.4,669.4L294.8,669.4L292.5,669.0L287.9,667.5L283.3,666.8L281.0,665.9L278.7,664.4L274.5,661.4L269.5,658.3L264.4,654.5L254.1,643.0L252.6,640.7L251.5,638.4L249.8,633.8L248.0,626.9L246.8,620.0L246.2,615.4L246.0,610.8L246.7,599.3L246.6,594.7L245.1,578.6L244.6,571.7L244.3,557.9L245.2,530.3L246.1,523.4L248.3,514.2L248.6,511.9L249.4,500.4L249.9,495.8ZM290.2,564.8L287.9,565.9L286.4,567.1L285.0,569.4L284.8,571.7L285.5,574.0L287.6,576.3L290.2,577.7L292.5,578.4L294.8,578.6L297.1,578.2L299.4,577.4L301.1,576.3L302.8,574.0L303.2,571.7L302.8,569.4L301.3,567.1L299.4,565.7L297.1,564.7L294.8,564.3L292.5,564.3L290.2,564.8Z"/>
<path fill="#ffc122" fill-rule="evenodd" d="M253.9,495.8L314.2,495.8L315.5,498.5L317.2,502.7L318.6,507.3L319.5,511.9L319.6,521.1L320.1,525.7L320.6,528.0L321.5,530.3L323.6,534.9L324.0,537.2L323.8,539.5L322.7,544.1L322.4,546.4L322.6,548.7L323.1,551.0L324.2,553.3L325.9,555.6L329.3,558.4L332.6,560.2L343.5,564.8L347.8,567.1L350.5,569.4L351.9,571.7L352.5,574.0L352.5,576.3L352.0,578.6L350.9,580.9L349.4,583.2L347.5,585.5L345.4,587.5L336.9,594.7L334.8,597.0L333.5,599.3L332.9,601.6L333.2,603.9L334.2,606.2L335.7,608.5L339.7,613.1L342.3,615.4L345.7,617.7L350.5,620.0L354.6,621.4L359.2,622.3L368.4,623.6L370.7,624.3L373.0,625.5L375.0,626.9L377.6,629.3L379.3,631.5L380.7,633.8L381.6,636.1L382.3,638.4L382.9,643.0L382.6,647.6L381.3,652.2L379.9,655.3L377.4,659.1L375.3,661.5L373.0,663.6L370.7,665.3L368.4,666.7L363.8,669.1L356.9,671.7L350.0,673.6L345.4,674.3L343.1,674.5L338.5,674.3L336.2,673.9L333.9,673.4L327.0,671.1L324.7,670.6L322.4,670.4L315.5,670.6L313.2,670.5L310.9,670.2L301.7,668.3L294.8,667.9L292.5,667.5L287.9,666.3L283.3,665.4L281.0,664.4L276.4,660.9L267.2,655.1L264.9,653.3L262.6,650.9L255.7,643.0L254.1,640.7L252.0,636.1L250.6,631.5L249.7,626.9L248.8,620.0L248.6,615.4L248.6,610.8L249.8,599.3L249.9,594.7L249.6,590.1L247.8,574.0L247.3,557.9L248.0,530.3L248.8,525.1L251.9,514.2L252.5,509.6L253.2,500.4L253.9,495.8ZM290.2,562.5L287.9,563.1L285.6,564.2L284.7,564.8L282.4,567.1L281.5,569.4L281.4,571.7L282.2,574.0L284.0,576.3L285.6,577.5L287.9,578.8L290.2,579.6L292.5,580.1L294.8,580.3L297.1,580.3L299.4,579.9L301.7,579.1L302.7,578.6L304.0,577.5L305.0,576.3L306.0,574.0L306.2,571.7L305.9,569.4L304.9,567.1L304.0,565.9L302.9,564.8L301.7,564.0L299.4,563.0L297.6,562.5L294.8,562.1L292.5,562.2L290.2,562.5Z"/>
<path fill="#ffb721" fill-rule="evenodd" d="M258.0,495.8L311.8,495.8L313.2,498.4L315.1,502.7L316.6,507.3L317.4,511.9L317.9,521.1L318.4,525.7L318.9,528.0L319.8,530.3L322.2,534.9L322.6,537.2L322.2,539.5L320.7,544.1L320.2,546.4L319.9,548.7L320.0,551.0L320.6,553.3L321.6,555.6L323.5,557.9L327.0,560.5L331.6,562.8L342.8,567.1L345.4,568.6L346.5,569.4L348.5,571.7L349.4,574.0L349.4,576.3L348.8,578.6L347.7,580.9L346.0,583.2L343.8,585.5L341.1,587.8L331.3,594.7L329.0,597.0L327.8,599.3L327.8,601.6L328.8,603.9L330.4,606.2L334.8,610.8L339.9,615.4L343.0,617.7L347.4,620.0L353.1,622.3L356.9,623.2L366.1,624.7L368.4,625.3L370.7,626.2L373.0,627.7L375.3,629.9L376.7,631.5L378.1,633.8L379.1,636.1L379.7,638.4L380.1,640.7L380.3,643.0L380.2,645.3L379.9,647.6L379.3,649.9L378.5,652.2L377.3,654.5L375.9,656.8L374.0,659.1L371.6,661.4L368.4,663.7L366.1,665.1L361.5,667.4L352.6,670.6L350.0,671.4L345.4,672.3L340.8,672.5L336.2,672.0L333.9,671.5L327.0,668.9L324.7,668.3L322.4,668.3L315.5,669.0L313.2,669.0L304.0,667.5L297.1,667.0L294.8,666.6L290.2,665.6L285.6,664.8L283.3,664.2L281.0,662.9L276.4,659.2L267.2,653.5L265.6,652.2L262.6,649.2L259.2,645.3L255.6,640.7L254.4,638.4L253.5,636.1L252.2,631.5L251.4,626.9L250.9,620.0L251.0,613.1L251.6,608.5L253.0,599.3L253.3,592.4L253.1,587.8L251.2,574.0L250.9,569.4L250.7,557.9L250.9,541.8L250.8,532.6L251.1,529.0L251.8,525.7L254.2,518.8L255.5,514.2L256.2,509.6L257.1,500.4L258.0,495.8ZM292.5,560.1L287.9,560.7L285.6,561.4L282.8,562.5L279.7,564.8L278.1,567.1L277.4,569.4L277.4,571.7L278.2,574.0L279.8,576.3L282.8,578.6L285.6,579.9L288.5,580.9L294.8,582.0L299.4,582.2L301.7,582.0L304.0,581.4L305.0,580.9L306.3,580.1L307.7,578.6L309.0,576.3L309.5,574.0L309.6,571.7L309.2,569.4L308.5,567.1L307.3,564.8L306.3,563.7L304.9,562.5L301.7,561.1L299.4,560.5L297.1,560.2L292.5,560.1Z"/>
<path fill="#ffb020" fill-rule="evenodd" d="M262.4,495.8L309.1,495.8L310.9,498.9L312.7,502.7L314.2,507.3L315.2,511.9L315.9,521.1L316.5,525.7L317.1,528.0L318.0,530.3L320.3,534.9L320.8,537.2L320.3,539.5L318.2,544.1L316.6,548.7L316.0,553.3L316.1,555.6L316.7,557.9L318.5,560.2L321.9,562.5L324.7,563.9L329.3,565.5L336.2,567.5L341.0,569.4L344.1,571.7L345.5,574.0L345.7,576.3L345.2,578.6L344.0,580.9L342.1,583.2L340.8,584.4L338.5,586.2L333.9,588.7L324.4,592.4L322.4,593.3L320.2,594.7L318.7,597.0L318.6,599.3L319.7,601.6L322.4,603.9L327.0,606.9L340.6,617.7L343.1,619.2L349.7,622.3L352.3,623.3L356.9,624.5L366.1,626.2L368.4,626.9L370.7,628.2L372.0,629.2L374.2,631.5L375.6,633.8L376.7,636.1L377.3,638.4L377.7,640.7L377.8,643.0L377.7,645.3L377.3,647.6L376.7,649.9L375.7,652.2L374.4,654.5L373.0,656.4L370.5,659.1L368.4,660.8L366.1,662.3L363.6,663.7L359.2,665.7L350.0,669.1L345.4,670.3L340.8,670.7L336.2,670.2L333.9,669.6L327.0,666.7L324.7,666.1L322.4,666.2L315.5,667.4L313.2,667.5L304.0,666.3L298.4,666.0L290.2,664.4L285.6,663.7L283.3,662.9L281.0,661.4L276.4,657.4L267.2,651.8L264.9,649.9L262.6,647.5L258.9,643.0L257.2,640.7L255.9,638.4L254.9,636.1L254.2,633.8L253.4,629.2L252.9,622.3L253.0,617.7L253.5,613.1L256.7,597.0L257.4,590.1L257.1,583.2L255.7,575.4L255.3,571.7L255.3,562.5L254.7,553.3L254.7,541.8L254.1,532.6L254.2,530.3L254.7,528.0L258.1,518.8L259.4,514.2L260.7,502.7L261.7,498.1L262.4,495.8ZM281.0,559.9L278.7,560.8L275.8,562.5L273.6,564.8L272.4,567.1L271.9,569.4L272.0,571.7L272.7,574.0L274.3,576.3L277.0,578.6L281.8,580.9L285.6,582.0L290.2,583.0L299.4,584.4L304.0,584.8L306.3,584.7L308.6,584.1L310.1,583.2L310.9,582.5L312.0,580.9L312.9,578.6L313.5,576.3L313.7,574.0L313.7,571.7L312.4,564.8L311.7,562.5L310.9,561.5L309.5,560.2L306.3,559.0L304.0,558.5L297.1,558.0L292.5,558.1L287.9,558.5L283.3,559.3L281.0,559.9Z"/>
<path fill="#ffa71f" fill-rule="evenodd" d="M266.3,498.1L267.2,495.8L306.0,495.8L308.9,500.4L310.9,504.8L311.7,507.3L313.1,514.2L314.4,525.7L315.7,530.3L317.7,534.9L318.1,537.2L317.3,539.5L313.2,546.9L310.9,550.7L308.6,553.1L306.3,554.3L304.0,555.0L301.7,555.4L297.1,555.8L278.7,556.8L274.1,557.4L267.2,558.7L264.9,558.5L262.6,556.5L261.1,553.3L260.3,550.7L258.8,534.9L258.7,532.6L258.8,530.3L260.2,525.7L263.6,516.5L264.1,514.2L264.3,511.9L264.6,505.0L265.0,502.7L266.3,498.1ZM322.0,571.7L322.4,571.4L324.7,570.5L327.0,570.3L331.6,570.5L336.2,571.4L338.5,572.6L340.2,574.0L341.1,576.3L340.8,578.6L339.5,580.9L338.5,581.9L336.2,583.6L333.9,584.5L331.6,585.1L329.3,585.4L327.0,585.4L324.7,585.0L322.4,584.2L321.1,583.2L320.0,580.9L319.9,578.6L320.1,575.9L320.6,574.0L322.0,571.7ZM265.4,583.2L267.2,581.8L269.5,581.6L271.8,581.8L283.3,583.7L292.5,585.0L295.0,585.5L302.2,587.8L306.7,590.1L309.1,592.4L310.3,594.7L312.9,601.6L314.5,603.9L315.5,604.7L318.4,606.2L322.4,607.5L327.0,609.7L333.9,614.3L340.8,619.3L343.1,620.5L352.3,624.5L356.9,625.7L366.1,627.7L368.4,628.6L369.3,629.2L371.8,631.5L373.4,633.8L374.4,636.1L375.0,638.4L375.4,640.7L375.5,643.0L375.3,645.3L374.9,647.6L374.1,649.9L373.0,652.2L371.5,654.5L369.5,656.8L366.8,659.1L363.8,661.0L361.5,662.2L350.0,667.0L345.6,668.3L343.1,668.8L340.8,668.9L338.5,668.9L336.2,668.5L333.9,667.9L327.0,664.6L324.7,664.1L322.4,664.3L315.5,665.9L313.2,666.0L304.0,664.9L299.4,664.9L292.5,663.5L285.6,662.6L283.3,661.7L278.7,657.3L276.4,655.6L269.5,651.6L267.2,650.1L264.9,648.2L262.2,645.3L258.8,640.7L257.4,638.4L256.4,636.1L255.7,633.8L255.0,629.2L254.8,624.6L255.2,617.7L256.0,613.1L257.1,608.5L262.6,589.5L264.0,585.5L264.9,583.7L265.4,583.2Z"/>
<path fill="#ff9d1e" fill-rule="evenodd" d="M273.2,495.8L302.3,495.8L304.2,498.1L305.8,500.4L307.1,502.7L309.0,507.3L310.5,514.2L311.3,518.8L312.1,525.7L313.9,534.9L313.7,537.2L312.7,539.5L311.4,541.8L308.6,545.8L306.1,548.7L304.0,550.8L301.7,552.2L299.4,553.0L298.1,553.3L292.5,553.9L285.6,553.9L280.6,553.3L276.4,552.4L272.9,551.0L269.9,548.7L268.2,546.4L267.0,544.1L266.2,541.8L265.6,539.5L265.0,534.9L264.8,530.3L265.1,528.0L266.3,523.4L270.2,514.2L270.4,511.9L269.4,507.3L269.5,505.0L270.0,502.7L271.8,498.2L273.2,495.8ZM271.9,587.8L274.1,586.9L276.4,586.3L281.0,585.9L290.2,586.4L292.5,586.8L295.7,587.8L300.2,590.1L303.1,592.4L305.0,594.7L306.3,596.7L310.3,603.9L312.1,606.2L313.2,607.1L315.5,608.0L322.4,609.8L327.0,611.7L333.9,615.9L340.8,620.6L350.0,624.8L354.6,626.3L366.1,629.1L368.4,630.5L369.5,631.5L371.2,633.8L372.2,636.1L372.9,638.4L373.2,640.7L373.2,643.0L373.0,645.3L372.5,647.6L371.7,649.9L370.4,652.2L368.6,654.5L366.2,656.8L363.8,658.5L361.5,659.8L347.7,665.7L343.1,667.0L340.8,667.3L338.5,667.2L336.2,666.9L333.9,666.3L327.0,662.8L324.7,662.4L322.4,662.6L315.5,664.4L313.2,664.5L304.0,663.6L299.4,663.8L294.8,662.5L292.5,662.1L285.5,661.4L283.3,659.9L281.0,657.4L278.7,655.4L276.4,653.8L269.5,650.0L267.2,648.5L264.9,646.6L261.8,643.0L258.8,638.4L257.8,636.1L257.1,633.8L256.6,629.2L256.6,624.6L256.7,622.3L257.9,615.4L259.1,610.8L262.6,601.5L265.7,594.7L267.2,592.2L269.0,590.1L271.9,587.8Z"/>
<path fill="#ff961d" fill-rule="evenodd" d="M278.8,498.1L281.1,495.8L297.1,495.8L299.4,497.5L302.1,500.4L304.0,503.1L306.0,507.3L306.7,509.6L308.4,516.5L309.2,521.1L310.2,530.3L310.3,532.6L310.0,534.9L308.1,539.5L306.7,541.8L305.1,544.1L301.0,548.7L299.4,549.8L297.1,550.8L294.8,551.3L290.2,551.7L285.6,551.3L281.0,550.1L278.1,548.7L275.0,546.4L273.2,544.1L271.9,541.8L270.9,539.5L270.2,537.2L269.7,532.6L269.7,528.0L270.2,525.7L270.9,523.4L272.0,521.1L276.2,514.2L276.8,511.9L276.3,505.0L276.6,502.7L277.4,500.4L278.8,498.1ZM276.3,590.1L278.7,589.2L281.0,588.7L285.6,588.4L290.2,588.5L292.5,589.0L294.8,590.0L298.4,592.4L300.7,594.7L304.0,599.0L309.0,606.2L311.3,608.5L313.2,609.4L320.1,611.0L324.7,612.4L329.3,614.6L333.9,617.3L338.5,620.4L342.0,622.3L352.3,626.7L363.8,629.9L366.1,630.9L367.1,631.5L369.1,633.8L370.2,636.1L370.8,638.4L371.1,640.7L371.1,643.0L370.9,645.3L370.3,647.6L369.3,649.9L368.4,651.3L365.6,654.5L363.8,656.0L361.5,657.4L347.7,663.8L345.4,664.7L343.1,665.3L340.8,665.6L338.5,665.7L336.2,665.4L333.9,664.7L327.4,661.4L324.7,660.9L321.0,661.4L315.5,662.7L313.2,663.0L297.1,661.4L292.5,660.6L287.9,660.2L285.6,659.7L284.8,659.1L281.0,655.2L278.7,653.4L276.4,651.9L269.5,648.4L267.2,646.9L264.9,644.9L262.6,642.1L260.2,638.4L259.2,636.1L258.5,633.8L258.2,631.5L258.3,624.6L259.0,620.0L260.3,615.0L262.6,608.9L266.0,601.6L269.5,595.9L272.8,592.4L274.1,591.4L276.3,590.1Z"/>
<path fill="#ff8c1c" fill-rule="evenodd" d="M284.7,500.4L285.6,499.7L287.9,498.6L290.2,498.2L292.5,498.4L294.8,499.2L297.0,500.4L299.4,502.5L301.7,505.5L303.7,509.6L305.8,516.5L306.8,521.1L307.3,525.7L307.5,530.3L307.2,532.6L306.6,534.9L305.6,537.2L304.4,539.5L302.9,541.8L299.4,545.8L297.1,547.4L294.8,548.4L292.5,548.9L290.2,549.1L287.9,548.9L285.6,548.4L283.3,547.7L280.7,546.4L277.9,544.1L276.1,541.8L274.8,539.5L274.0,537.2L273.4,534.9L273.1,530.3L273.4,528.0L273.9,525.7L274.7,523.4L275.8,521.1L278.4,516.5L279.5,514.2L280.2,511.9L281.7,505.0L282.7,502.7L284.7,500.4ZM279.1,592.4L281.0,591.8L283.3,591.3L285.6,591.1L287.9,591.0L290.2,591.3L292.5,592.0L294.8,593.4L297.1,595.3L301.7,600.5L306.4,606.2L308.5,608.5L310.9,610.2L313.2,611.1L320.1,612.5L324.7,613.9L331.6,617.2L340.8,622.8L352.3,627.8L364.1,631.5L366.1,632.9L367.0,633.8L368.2,636.1L368.8,638.4L369.1,640.7L369.1,643.0L368.8,645.3L368.1,647.6L367.0,649.9L365.2,652.2L363.8,653.5L361.5,655.2L359.2,656.4L352.3,659.4L345.4,662.9L343.1,663.6L340.8,664.0L338.5,664.1L336.2,663.8L333.9,663.1L330.3,661.4L327.0,660.1L324.7,659.7L322.4,659.9L315.5,661.1L313.2,661.3L308.6,660.9L299.4,659.6L287.9,658.3L285.6,657.2L282.8,654.5L278.7,651.4L276.0,649.9L269.5,646.8L267.2,645.4L264.9,643.3L262.9,640.7L261.5,638.4L260.5,636.1L259.9,633.8L259.6,631.5L259.8,626.9L260.5,622.3L261.7,617.7L263.5,613.1L266.9,606.2L269.5,601.6L271.8,598.3L274.1,595.7L276.4,593.9L279.1,592.4Z"/>
<path fill="#ff821a" fill-rule="evenodd" d="M287.7,505.0L290.2,503.6L292.5,503.4L294.8,504.2L297.1,505.8L298.5,507.3L299.4,508.5L301.2,511.9L303.0,516.5L304.3,521.1L304.9,525.7L304.8,530.3L304.3,532.6L303.5,534.9L302.4,537.2L300.9,539.5L299.0,541.8L296.4,544.1L294.8,545.0L292.5,545.8L290.2,546.1L287.9,546.0L285.6,545.3L283.3,544.3L281.0,542.6L278.7,540.0L277.3,537.2L276.6,534.9L276.3,532.6L276.3,530.3L276.6,528.0L277.2,525.7L278.0,523.4L282.6,514.2L285.6,507.5L287.7,505.0ZM282.5,594.7L285.6,594.2L287.9,594.3L290.2,594.9L292.5,596.0L294.8,597.7L297.1,599.7L306.3,608.7L308.9,610.8L310.9,611.8L313.2,612.5L320.1,613.9L322.4,614.5L327.0,616.2L331.6,618.4L338.5,622.6L340.8,623.8L345.4,625.7L350.0,627.9L354.6,629.6L360.4,631.5L363.8,633.1L364.7,633.8L366.3,636.1L367.0,638.4L367.3,640.7L367.3,643.0L366.9,645.3L366.1,647.6L364.6,649.9L362.4,652.2L359.2,654.4L352.3,657.4L345.4,661.1L343.1,662.0L340.8,662.5L338.5,662.6L336.2,662.4L333.9,661.7L327.5,659.1L324.7,658.6L322.4,658.7L315.5,659.5L310.9,659.6L306.3,659.0L299.4,657.7L290.2,656.6L287.9,655.9L285.6,654.5L281.0,650.9L278.7,649.5L276.4,648.3L269.5,645.3L267.2,643.9L264.9,641.6L262.8,638.4L261.8,636.1L261.2,633.8L261.1,631.5L261.2,629.2L261.9,624.6L262.6,621.5L264.9,615.7L267.2,611.3L270.1,606.2L273.1,601.6L275.0,599.3L277.5,597.0L278.7,596.2L281.0,595.1L282.5,594.7Z"/>
<path fill="#ff7819" fill-rule="evenodd" d="M292.0,509.6L292.5,509.5L294.8,510.2L297.1,512.3L299.4,515.8L300.7,518.8L301.7,522.1L302.3,525.7L302.3,528.0L302.0,530.3L301.3,532.6L299.4,536.3L297.1,539.2L294.8,541.1L292.5,542.3L290.2,542.8L287.9,542.6L285.6,541.8L283.3,540.3L281.0,537.7L279.8,534.9L279.4,532.6L279.4,530.3L279.7,528.0L281.1,523.4L283.3,518.8L285.6,514.9L287.9,511.9L290.2,510.0L292.0,509.6ZM280.2,599.3L281.0,598.9L283.3,598.2L285.6,598.1L287.9,598.4L290.2,599.2L292.5,600.4L299.4,605.0L301.7,606.8L306.2,610.8L308.6,612.3L310.9,613.2L317.8,614.6L322.4,615.8L327.0,617.5L331.6,619.5L338.5,623.6L340.5,624.6L345.4,626.7L352.3,629.9L359.2,632.4L362.3,633.8L363.8,635.2L364.5,636.1L365.4,638.4L365.6,640.7L365.6,643.0L365.1,645.3L364.0,647.6L361.5,650.6L359.2,652.4L356.9,653.6L350.0,656.6L345.4,659.4L343.1,660.4L340.8,661.0L338.5,661.2L336.2,660.9L333.9,660.3L329.3,658.6L327.0,657.9L324.7,657.6L322.4,657.6L315.5,658.0L310.9,658.0L306.3,657.4L299.4,655.8L292.5,654.9L290.2,654.3L287.9,653.4L278.7,647.6L276.4,646.4L269.5,643.9L267.2,642.4L265.6,640.7L264.0,638.4L263.0,636.1L262.5,633.8L262.5,631.5L263.2,626.9L264.9,621.1L267.2,616.5L269.5,612.6L274.1,605.5L276.4,602.5L278.7,600.3L280.2,599.3Z"/>
<path fill="#ff7218" fill-rule="evenodd" d="M289.9,516.5L290.2,516.3L292.5,515.9L294.8,516.9L296.5,518.8L297.8,521.1L298.7,523.4L299.2,525.7L299.3,528.0L298.7,530.3L297.7,532.6L296.0,534.9L294.8,536.2L292.5,537.7L290.2,538.4L287.9,538.2L285.6,537.1L283.6,534.9L283.0,532.6L282.9,530.3L283.2,528.0L283.8,525.7L285.6,521.2L287.9,517.9L289.9,516.5ZM280.5,603.9L281.0,603.5L283.3,602.6L285.6,602.4L287.9,602.7L290.2,603.4L294.8,605.3L299.4,607.5L301.7,609.0L306.3,612.7L308.6,613.8L310.9,614.5L320.1,616.5L327.0,618.7L331.6,620.6L338.5,624.6L343.8,626.9L350.0,630.0L359.4,633.8L361.5,635.0L362.7,636.1L363.8,638.4L364.1,640.7L364.0,643.0L363.3,645.3L361.5,648.1L359.7,649.9L356.9,651.8L350.0,654.9L345.4,657.8L343.1,658.9L340.8,659.6L338.5,659.8L336.2,659.5L329.3,657.5L326.0,656.8L322.4,656.5L313.2,656.6L308.6,656.3L306.3,655.8L299.4,653.9L292.5,652.8L290.2,652.1L287.9,651.1L278.7,645.6L276.4,644.6L271.8,643.4L269.5,642.4L267.1,640.7L265.3,638.4L264.3,636.1L263.9,633.8L264.0,631.5L264.9,627.8L267.2,621.9L271.8,614.1L274.1,610.7L276.4,607.7L278.7,605.2L280.5,603.9Z"/>
<path fill="#ff6817" fill-rule="evenodd" d="M289.9,525.7L290.2,525.2L292.5,524.9L293.1,525.7L293.3,528.0L292.5,529.5L290.2,530.2L289.4,528.0L289.9,525.7ZM280.5,608.5L283.3,607.0L285.6,606.6L287.9,606.6L292.5,607.5L297.1,608.8L299.4,609.6L301.7,611.0L304.2,613.1L306.3,614.4L308.6,615.3L320.1,617.7L327.0,619.8L331.6,621.7L338.5,625.7L343.1,627.6L352.3,632.2L359.2,635.3L360.5,636.1L361.5,637.1L362.3,638.4L362.6,640.7L362.3,643.0L361.5,645.1L359.7,647.6L356.9,649.9L354.6,651.2L350.0,653.4L345.4,656.2L343.1,657.4L340.8,658.2L338.5,658.4L336.2,658.2L327.0,655.9L324.7,655.6L313.2,655.3L308.6,654.9L304.0,653.7L299.4,652.2L292.5,650.9L287.9,649.0L283.3,646.6L278.7,643.7L277.1,643.0L276.4,642.7L271.8,641.8L269.5,641.0L267.2,639.2L266.6,638.4L265.5,636.1L265.3,633.8L265.7,631.5L267.2,628.0L268.0,626.9L272.8,617.7L274.2,615.4L276.4,612.4L277.8,610.8L278.7,609.9L280.5,608.5Z"/>
<path fill="#ff5e16" fill-rule="evenodd" d="M282.7,610.8L285.6,609.8L287.9,609.6L290.2,609.7L297.1,610.8L299.4,611.5L301.7,613.0L304.0,614.8L306.3,615.9L308.6,616.6L315.5,617.8L320.1,618.9L324.7,620.3L330.4,622.3L336.2,625.5L344.4,629.2L350.0,632.4L357.7,636.1L359.2,637.1L360.4,638.4L361.0,640.7L360.5,643.0L359.3,645.3L357.2,647.6L354.0,649.9L343.1,655.9L340.8,656.7L338.5,657.0L336.2,656.9L324.7,654.6L313.2,654.0L308.6,653.6L306.3,653.0L299.4,650.7L294.8,649.8L292.5,649.2L290.2,648.3L283.3,645.0L278.7,641.8L276.4,640.8L271.8,640.3L269.5,639.4L268.3,638.4L266.9,636.1L266.8,633.8L267.2,632.5L269.5,629.7L270.4,629.2L271.8,627.5L274.5,620.0L275.7,617.7L277.3,615.4L278.7,613.8L281.0,611.7L282.7,610.8Z"/>
<path fill="#ff5815" fill-rule="evenodd" d="M283.7,613.1L285.6,612.3L287.9,611.9L290.2,611.9L297.1,612.6L299.4,613.4L304.0,616.4L306.3,617.4L308.6,618.0L315.5,619.1L319.3,620.0L324.7,621.5L329.3,623.1L331.6,624.1L338.5,627.8L343.1,629.7L354.5,636.1L356.9,637.7L357.8,638.4L358.9,640.7L358.3,643.0L357.0,645.3L354.6,647.6L351.2,649.9L343.1,654.4L340.8,655.3L338.5,655.6L333.9,655.2L324.7,653.6L313.2,652.9L308.6,652.3L306.3,651.7L299.4,649.3L294.8,648.3L290.2,646.7L283.3,643.5L281.0,641.9L278.7,640.0L276.4,638.9L274.1,638.5L271.4,638.4L269.5,637.5L268.5,636.1L268.9,633.8L269.5,633.0L271.8,632.5L274.1,632.4L274.7,631.5L275.5,624.6L277.0,620.0L278.4,617.7L280.4,615.4L281.0,614.8L283.7,613.1Z"/>
<path fill="#ff4e14" fill-rule="evenodd" d="M283.9,615.4L285.6,614.5L287.9,614.0L290.2,613.7L294.8,613.9L297.1,614.3L299.4,615.2L304.0,617.9L306.3,618.8L308.6,619.4L315.5,620.5L320.1,621.5L324.7,622.8L329.3,624.3L336.2,628.0L343.1,631.0L351.5,636.1L354.6,638.4L356.1,640.7L355.8,643.0L354.4,645.3L352.0,647.6L348.6,649.9L343.1,652.9L340.8,653.8L338.5,654.1L333.9,653.9L324.7,652.5L310.9,651.5L306.3,650.4L301.7,648.7L294.8,646.9L292.5,646.2L285.6,643.3L283.3,642.1L281.0,640.4L278.7,638.4L276.5,636.1L276.5,633.8L276.9,631.5L277.2,626.9L277.5,624.6L278.2,622.3L279.2,620.0L281.0,617.7L283.9,615.4Z"/>
<path fill="#ff4412" fill-rule="evenodd" d="M291.3,615.4L294.8,615.5L297.1,615.9L299.4,616.9L304.0,619.4L306.3,620.3L308.6,620.9L315.5,621.9L320.1,622.9L326.2,624.6L329.3,625.8L336.2,629.3L343.1,632.4L345.5,633.8L348.9,636.1L351.7,638.4L353.2,640.7L353.2,643.0L351.9,645.3L349.5,647.6L345.4,650.3L343.1,651.4L340.8,652.2L338.5,652.6L336.2,652.7L324.7,651.4L313.2,650.6L309.0,649.9L301.7,647.5L294.8,645.6L285.6,641.9L283.3,640.8L281.0,639.0L280.4,638.4L278.8,636.1L278.3,633.8L278.8,626.9L279.3,624.6L280.0,622.3L281.0,620.6L283.3,618.1L285.6,616.6L287.9,615.8L291.3,615.4Z"/>
<path fill="#ff3d12" fill-rule="evenodd" d="M287.7,617.7L290.2,617.1L292.5,616.9L294.8,617.0L297.1,617.5L299.4,618.5L304.0,621.0L306.3,621.9L308.6,622.4L320.1,624.3L324.7,625.6L328.4,626.9L336.2,630.8L342.7,633.8L346.3,636.1L349.0,638.4L350.5,640.7L350.6,643.0L349.5,645.3L347.0,647.6L345.4,648.6L343.1,649.8L340.8,650.6L338.5,651.0L336.2,651.1L313.2,649.4L310.9,649.1L308.6,648.6L301.7,646.3L297.1,645.0L285.6,640.6L283.3,639.4L282.0,638.4L280.3,636.1L279.8,633.8L280.1,629.2L280.4,626.9L280.9,624.6L281.9,622.3L283.8,620.0L285.6,618.7L287.7,617.7Z"/>
<path fill="#ff3310" fill-rule="evenodd" d="M286.9,620.0L287.9,619.5L290.2,618.8L292.5,618.5L294.8,618.6L297.1,619.1L304.0,622.7L306.3,623.6L308.6,624.2L317.8,625.4L322.4,626.5L324.7,627.2L329.3,629.1L336.2,632.6L339.0,633.8L343.3,636.1L346.2,638.4L347.7,640.4L347.9,640.7L348.1,643.0L347.0,645.3L345.4,646.7L344.0,647.6L340.8,648.8L338.5,649.2L336.2,649.3L315.5,648.4L310.9,647.9L295.3,643.0L284.0,638.4L283.3,637.9L281.9,636.1L281.4,633.8L281.5,631.5L282.0,626.9L282.6,624.6L284.0,622.3L285.6,620.8L286.9,620.0Z"/>
</g>
<path d="M346.4,495.8L345.3,511.9L345.3,516.5L346.1,521.1L349.2,532.6L350.1,534.9L351.6,537.2L354.6,540.1L358.3,544.1L361.5,547.1L373.0,555.1L377.6,557.8L384.5,561.2M337.7,495.8L337.9,505.0L337.1,516.5L337.2,518.8L338.2,523.4L340.8,532.6L342.8,537.2L344.2,539.5L346.0,541.8L348.4,544.1L359.9,553.3L370.7,562.3L375.3,565.6L384.5,571.4M224.2,679.8L224.8,675.2L225.4,672.9L226.8,668.3L228.8,663.7L232.8,656.8L234.0,654.5L234.5,652.2L233.8,649.9L228.1,643.0L225.0,638.4L222.5,633.8L219.2,626.9L216.3,622.3L215.4,620.0L214.9,617.7L214.8,615.4L215.7,606.2L212.2,580.9L211.5,578.6L208.4,571.7L207.7,569.4L202.3,548.7L200.5,540.8M329.1,495.8L330.2,502.7L330.7,507.3L330.9,511.9L330.7,518.8L331.2,523.4L334.2,534.9L335.1,537.2L337.2,541.8L338.8,544.1L341.0,546.4L346.6,551.0L354.6,556.5L361.8,562.5L368.4,570.7L373.0,575.8L375.3,577.9L382.2,583.0L384.5,585.0M253.2,679.8L252.7,677.5L252.7,675.2L253.3,672.9L254.3,670.6L255.7,668.6L258.0,664.1L258.4,661.4L258.0,659.1L256.0,656.8L251.1,652.7L248.8,650.1L244.9,645.3L240.3,638.4L237.6,633.8L234.3,626.9L229.8,615.4L229.2,613.1L228.5,608.5L226.6,587.8L224.3,569.4L222.0,557.9L220.7,546.4L220.6,541.8L221.1,530.3L221.2,523.4L220.8,514.2L219.5,495.8M318.4,495.8L320.9,502.7L322.2,507.3L322.7,509.6L322.9,511.9L322.7,521.1L323.1,525.7L323.6,528.0L326.2,534.9L326.6,537.2L326.6,539.5L326.3,544.1L326.6,546.4L327.5,548.7L328.9,551.0L331.0,553.3L333.9,555.4L340.8,559.2L347.7,562.4L352.3,565.4L354.6,567.6L355.8,569.4L356.6,571.7L357.2,576.3L357.1,578.6L356.6,580.9L355.5,583.2L354.1,585.5L352.3,587.6L345.0,594.7L342.9,597.0L341.4,599.3L340.6,601.6L340.4,603.9L340.9,606.2L341.8,608.5L343.1,610.8L345.4,613.4L348.1,615.4L352.7,617.7L354.6,618.3L359.2,619.2L366.1,619.7L370.7,619.6L373.0,620.4L377.6,623.2L379.9,624.9L382.2,627.1L384.5,630.2M292.5,566.6L290.2,567.5L288.3,569.4L287.8,571.7L288.6,574.0L290.2,575.4L292.5,576.5L294.8,576.6L297.1,575.9L299.4,574.0L300.2,571.7L299.6,569.4L296.8,567.1L294.8,566.5L292.5,566.6M384.5,658.6L382.7,661.4L380.8,663.7L377.6,666.9L375.3,668.7L372.5,670.6L366.1,673.9L359.2,676.3L352.3,678.0L345.4,678.7L340.8,678.7L338.5,678.4L333.9,677.6L324.7,675.2L322.4,674.8L315.5,674.2L310.9,673.5L301.7,670.9L299.4,670.6L294.8,671.1L292.5,670.8L287.9,669.0L283.3,668.2L281.0,667.5L278.7,666.3L275.1,663.7L269.5,660.2L264.9,656.5L262.6,654.2L259.0,649.9L253.4,644.0L251.2,640.7L250.1,638.4L247.5,631.5L246.2,626.9L244.8,620.0L244.0,615.4L243.5,610.8L243.7,597.0L241.9,574.0L241.8,557.9L241.9,544.1L242.6,528.0L243.1,523.4L245.0,511.9L246.0,495.8M299.2,495.8L301.7,498.2L304.0,501.1L306.1,505.0L307.0,507.3L308.3,511.9L309.7,518.8L311.2,530.3L311.4,532.6L311.2,534.9L310.5,537.2L308.2,541.8L306.3,544.5L302.7,548.7L301.7,549.6L299.6,551.0L297.1,551.7L292.5,552.4L290.2,552.5L285.6,552.2L281.0,551.2L278.7,550.4L275.5,548.7L273.0,546.4L271.4,544.1L270.2,541.8L269.3,539.5L268.7,537.2L268.1,530.3L268.3,528.0L268.7,525.7L270.5,521.1L274.6,514.2L275.1,511.9L274.2,507.3L274.0,505.0L274.3,502.7L275.0,500.4L276.3,498.1L278.1,495.8M280.4,587.8L283.3,587.6L290.2,587.7L292.5,588.1L294.8,589.1L296.8,590.1L299.4,591.9L301.7,594.2L304.0,597.2L308.3,603.9L310.0,606.2L312.6,608.5L313.2,608.8L320.1,610.4L324.7,611.8L329.3,614.1L333.9,616.8L338.6,620.0L342.8,622.3L352.3,626.3L363.8,629.4L366.1,630.3L368.0,631.5L369.8,633.8L370.9,636.1L371.5,638.4L371.8,640.7L371.8,643.0L371.6,645.3L371.0,647.6L370.1,649.9L368.7,652.2L366.7,654.5L363.8,656.8L359.2,659.3L347.7,664.4L345.4,665.3L343.1,665.9L340.8,666.2L338.5,666.2L336.2,665.9L333.9,665.2L327.0,661.8L324.7,661.3L322.4,661.6L315.5,663.3L313.2,663.5L304.0,662.5L299.4,662.4L292.5,661.2L287.9,660.7L285.6,660.3L283.9,659.1L281.0,656.0L278.7,654.1L276.4,652.6L269.5,648.9L267.2,647.5L264.9,645.5L262.7,643.0L259.8,638.4L258.7,636.1L258.1,633.8L257.7,631.5L257.6,626.9L258.0,622.3L258.8,617.7L260.3,612.4L262.7,606.2L266.0,599.3L268.8,594.7L271.8,591.5L274.1,589.8L276.4,588.8L280.4,587.8M285.1,610.8L287.9,610.4L290.2,610.5L297.1,611.3L299.4,612.1L304.0,615.4L306.3,616.4L308.6,617.1L315.5,618.2L320.1,619.3L329.6,622.3L331.6,623.2L338.5,627.0L343.7,629.2L350.0,632.7L356.9,636.2L359.8,638.4L360.4,640.7L359.9,643.0L358.6,645.3L356.9,647.2L353.1,649.9L343.1,655.5L340.8,656.3L338.5,656.6L336.2,656.5L324.7,654.3L310.9,653.5L306.3,652.6L299.4,650.2L294.8,649.4L292.5,648.7L290.2,647.8L283.3,644.5L278.7,641.2L276.4,640.2L271.8,639.7L269.5,639.0L268.8,638.4L267.3,636.1L267.3,633.8L269.5,630.8L271.8,629.6L272.3,629.2L275.3,620.0L276.6,617.7L278.3,615.4L281.0,612.7L283.3,611.3L285.1,610.8" fill="none" stroke="#1a1a1a" stroke-width="0.55" stroke-opacity="0.8"/>
</g>
<path d="M369.9,572.7 L371.8,570.4 L374.0,569.4 L376.1,570.2 L377.3,572.2 L377.9,576.8 L378.1,580.8 L377.8,584.8 L377.5,587.6 L378.1,591.3 L378.7,595.6 L378.9,598.8 L378.8,601.6 L378.1,605.1 L376.8,607.6 L375.3,609.0 L373.8,609.4 L371.5,608.6 L369.5,607.4" fill="none" stroke="#000" stroke-width="1.25" stroke-linejoin="round" stroke-linecap="round"/>
<path d="M215.1,572.7 L213.2,570.4 L211.0,569.4 L208.9,570.2 L207.7,572.2 L207.1,576.8 L206.9,580.8 L207.2,584.8 L207.5,587.6 L206.9,591.3 L206.3,595.6 L206.1,598.8 L206.2,601.6 L206.9,605.1 L208.2,607.6 L209.7,609.0 L211.2,609.4 L213.5,608.6 L215.5,607.4" fill="none" stroke="#000" stroke-width="1.25" stroke-linejoin="round" stroke-linecap="round"/>
<path d="M278.5,510.2 L289.8,497.5 M295.6,497.5 L306.5,510.2" fill="none" stroke="#000" stroke-width="1.3" stroke-linecap="round"/>
<circle cx="292.5" cy="587.8" r="78.5" fill="none" stroke="#000" stroke-width="1.3"/>
<circle cx="266.9" cy="510.1" r="0.85" fill="#000" fill-opacity="0.85"/>
<circle cx="318.1" cy="510.1" r="0.85" fill="#000" fill-opacity="0.85"/>
<circle cx="224.5" cy="539.1" r="0.85" fill="#000" fill-opacity="0.85"/>
<circle cx="360.5" cy="539.1" r="0.85" fill="#000" fill-opacity="0.85"/>
<circle cx="257.5" cy="546.4" r="0.85" fill="#000" fill-opacity="0.85"/>
<circle cx="292.5" cy="548.4" r="0.85" fill="#000" fill-opacity="0.85"/>
<circle cx="328.1" cy="546.4" r="0.85" fill="#000" fill-opacity="0.85"/>
<circle cx="232.4" cy="565.3" r="0.85" fill="#000" fill-opacity="0.85"/>
<circle cx="272.1" cy="567.4" r="0.85" fill="#000" fill-opacity="0.85"/>
<circle cx="313.5" cy="567.4" r="0.85" fill="#000" fill-opacity="0.85"/>
<circle cx="353.5" cy="565.3" r="0.85" fill="#000" fill-opacity="0.85"/>
<circle cx="292.5" cy="573.2" r="0.85" fill="#000" fill-opacity="0.85"/>
<circle cx="249.9" cy="587.8" r="0.85" fill="#000" fill-opacity="0.85"/>
<circle cx="292.5" cy="587.8" r="0.85" fill="#000" fill-opacity="0.85"/>
<circle cx="335.4" cy="587.8" r="0.85" fill="#000" fill-opacity="0.85"/>
<circle cx="232.4" cy="610.3" r="0.85" fill="#000" fill-opacity="0.85"/>
<circle cx="272.1" cy="607.7" r="0.85" fill="#000" fill-opacity="0.85"/>
<circle cx="313.5" cy="607.7" r="0.85" fill="#000" fill-opacity="0.85"/>
<circle cx="353.5" cy="610.3" r="0.85" fill="#000" fill-opacity="0.85"/>
<circle cx="224.5" cy="636.9" r="0.85" fill="#000" fill-opacity="0.85"/>
<circle cx="360.5" cy="636.9" r="0.85" fill="#000" fill-opacity="0.85"/>
<circle cx="257.3" cy="629.0" r="1.7" fill="#000"/>
<circle cx="291.7" cy="628.2" r="1.7" fill="#000"/>
<circle cx="326.4" cy="629.0" r="1.7" fill="#000"/>
<circle cx="268.2" cy="664.1" r="1.7" fill="#000"/>
<circle cx="317.0" cy="664.1" r="1.7" fill="#000"/>
<rect x="57.4" y="621" width="77.8" height="49.2" fill="none" stroke="#000" stroke-width="1.8"/>
<rect x="252.2" y="619.6" width="77.8" height="49.4" fill="none" stroke="#000" stroke-width="1.8"/>
<path d="M96.4,629.2 H183.6" stroke="#000" stroke-width="1.9" fill="none"/>
<text x="186.8" y="634" class="k" font-size="13">Pz</text>
<text x="99.7" y="704.1" fill="#848484" font-size="19.6" text-anchor="middle">Good</text>
<text x="292.9" y="704.1" fill="#848484" font-size="19.6" text-anchor="middle">Poor</text>
<defs><linearGradient id="jetbar" x1="0" y1="0" x2="0" y2="1"><stop offset="0.0000" stop-color="#951e1b"/><stop offset="0.0625" stop-color="#ce1813"/><stop offset="0.1250" stop-color="#ff2d10"/><stop offset="0.1875" stop-color="#ff6116"/><stop offset="0.2500" stop-color="#ff961d"/><stop offset="0.3125" stop-color="#ffcb23"/><stop offset="0.3750" stop-color="#e9f537"/><stop offset="0.4375" stop-color="#c4f560"/><stop offset="0.5000" stop-color="#a6f589"/><stop offset="0.5625" stop-color="#8df5b2"/><stop offset="0.6250" stop-color="#7bf5db"/><stop offset="0.6875" stop-color="#65c2f2"/><stop offset="0.7500" stop-color="#528ef2"/><stop offset="0.8125" stop-color="#3f59f2"/><stop offset="0.8750" stop-color="#2c25f2"/><stop offset="0.9375" stop-color="#2b26c7"/><stop offset="1.0000" stop-color="#2b278e"/></linearGradient></defs>
<rect x="395.4" y="517" width="18.6" height="165" fill="url(#jetbar)" stroke="#222" stroke-width="0.8"/>
<text x="393.3" y="510.4" fill="#6a6a6a" font-size="17">2<tspan font-size="12" dx="0.6">µV</tspan></text>
<text x="390.6" y="703.6" fill="#6a6a6a" font-size="17">-2<tspan font-size="12" dx="0.6">µV</tspan></text>
</g>
<g id="panel-c">
<text x="437.9" y="452.8" class="k" font-size="20">(c)</text>
<rect x="496" y="446" width="12.4" height="12.4" fill="#8a2b56"/>
<text x="516.4" y="459" class="g t20">Non-AM</text>
<rect x="602.2" y="446" width="12.2" height="12.4" fill="#26489c"/>
<text x="618.5" y="459" class="g t20">AM</text>
<path d="M521.6,584.0 V560.1 M513.2,560.1 H529.4" stroke="#8a8a8a" stroke-width="1.3" fill="none"/>
<rect x="508.3" y="584.5" width="29.0" height="88.0" fill="#8a2b56" stroke="#8a1f52" stroke-width="1"/>
<path d="M555.5,598.8 V575.2 M548.1,575.2 H562.6" stroke="#8a8a8a" stroke-width="1.3" fill="none"/>
<rect x="541.5" y="599.3" width="28.7" height="73.2" fill="#26489c" stroke="#2236bb" stroke-width="1"/>
<path d="M606.2,593.6 V569.4 M598.2,569.4 H614.3" stroke="#8a8a8a" stroke-width="1.3" fill="none"/>
<rect x="592.8" y="594.1" width="28.4" height="78.4" fill="#8a2b56" stroke="#8a1f52" stroke-width="1"/>
<path d="M640.1,544.6 V521.0 M632.7,521.0 H647.6" stroke="#8a8a8a" stroke-width="1.3" fill="none"/>
<rect x="626.1" y="545.1" width="28.7" height="127.4" fill="#26489c" stroke="#2236bb" stroke-width="1"/>
<path class="ax" stroke-width="3.3" d="M495.2,470 V673"/>
<path class="ax" stroke-width="3.3" d="M495.2,673 H668.6"/>
<path class="ax" stroke-width="2.5" d="M485.8,673.0 H495.2"/>
<text x="482" y="680.6" class="g t20" text-anchor="end">3</text>
<path class="ax" stroke-width="2.5" d="M485.8,622.5 H495.2"/>
<text x="482" y="630.1" class="g t20" text-anchor="end">4</text>
<path class="ax" stroke-width="2.5" d="M485.8,571.9 H495.2"/>
<text x="482" y="579.5" class="g t20" text-anchor="end">5</text>
<path class="ax" stroke-width="2.5" d="M485.8,521.4 H495.2"/>
<text x="482" y="529.0" class="g t20" text-anchor="end">6</text>
<path class="ax" stroke-width="2.5" d="M485.8,470.8 H495.2"/>
<text x="482" y="478.4" class="g t20" text-anchor="end">7</text>
<path class="ax" stroke-width="3" d="M539,673 V682.4"/>
<path class="ax" stroke-width="3" d="M623.3,673 V682.4"/>
<text x="539.2" y="705" class="g t20" text-anchor="middle">Good</text>
<text x="623.5" y="705" class="g t20" text-anchor="middle">Poor</text>
<text transform="translate(456.3,661) rotate(-90)" class="g" font-size="21.3" textLength="173" lengthAdjust="spacingAndGlyphs">P2 Amplitude (µV)</text>
<path d="M521.6,546.7 H554" stroke="#8a8a8a" stroke-width="3.3" stroke-linecap="round" fill="none"/>
<path d="M607.8,509.1 H639.5" stroke="#8a8a8a" stroke-width="3.3" stroke-linecap="round" fill="none"/>
<text x="531.3" y="534.3" fill="#686868" font-size="16.5" textLength="13.4" lengthAdjust="spacingAndGlyphs" style="font-weight:normal;font-style:italic">ns</text>
<text x="622.3" y="502.6" fill="#686868" font-size="20" text-anchor="middle" style="font-weight:normal">*</text>
</g>
</svg></body></html>
